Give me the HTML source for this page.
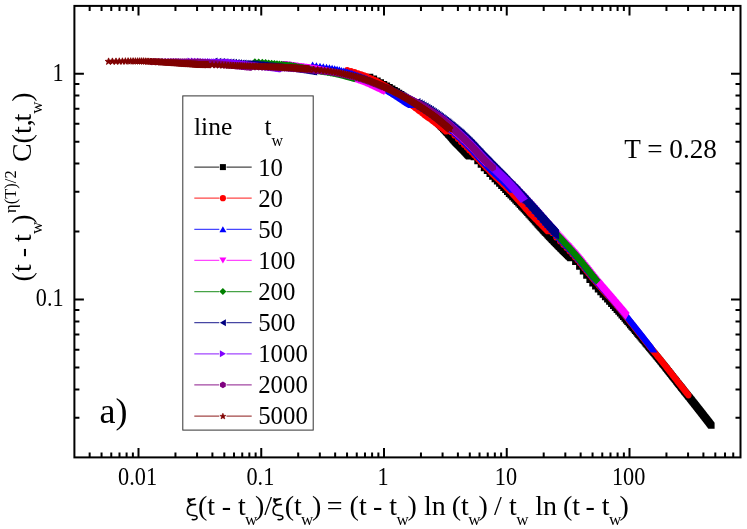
<!DOCTYPE html><html><head><meta charset="utf-8"><style>html,body{margin:0;padding:0;background:#fff}svg{display:block}text{font-family:"Liberation Serif",serif;fill:#000}</style></head><body>
<svg width="747" height="529" viewBox="0 0 747 529">
<rect width="747" height="529" fill="#fff"/>
<defs><filter id="ng" x="0" y="0" width="100%" height="100%" filterUnits="userSpaceOnUse" color-interpolation-filters="sRGB"><feOffset dx="0" dy="0"/></filter><clipPath id="c"><rect x="74.4" y="5.9" width="666.1" height="451.5"/></clipPath></defs>
<g clip-path="url(#c)">
<path d="M370.1 76.8 374.0 78.8 377.5 80.6 380.9 82.4 384.0 84.1 386.9 85.7 389.7 87.2 392.2 88.7 394.7 90.1 397.0 91.5 399.2 92.9 401.2 94.3 403.2 95.6 405.1 97.0 406.9 98.2 408.7 99.4 410.3 100.6 411.9 101.8 413.5 102.9 415.0 104.0 416.4 105.1 417.8 106.2 419.2 107.2 420.5 108.2 421.8 109.1 423.0 110.1 424.2 111.0 425.4 112.0 426.5 112.9 427.6 113.8 428.7 114.7 429.8 115.6 430.8 116.6 431.8 117.5 432.8 118.4 433.7 119.4 434.7 120.3 435.6 121.2 436.5 122.1 437.4 122.9 438.2 123.8 439.1 124.6 439.9 125.5 440.7 126.3 441.5 127.1 442.3 128.0 443.1 128.8 443.9 129.6 444.6 130.4 445.3 131.2 446.1 131.9 446.8 132.7 447.5 133.5 448.2 134.2 448.8 135.0 449.5 135.7 450.2 136.4 450.8 137.2 451.4 137.9 452.1 138.6 452.7 139.3 453.3 140.0 453.9 140.7 454.5 141.4 455.1 142.0 455.7 142.6 456.2 143.2 456.8 143.8 457.4 144.3 457.9 144.9 458.4 145.4 459.0 146.0 459.5 146.5 460.0 147.0 460.6 147.6 461.1 148.1 461.6 148.6 462.1 149.1 462.6 149.7 463.1 150.2 463.5 150.7 464.0 151.2 464.5 151.7 465.0 152.2 465.4 152.6 465.9 153.1 466.3 153.6 466.8 154.1 467.2 154.6 467.7 155.0 468.1 155.5 468.5 155.9 469.0 156.4 469.4 153.4 469.8 152.9 473.8 157.0 477.4 161.0 480.8 164.7 484.0 168.0 486.9 171.0 489.7 173.9 492.3 176.6 494.7 179.2 497.1 181.5 499.3 183.7 501.4 185.8 503.4 187.8 505.3 189.8 507.2 191.8 509.0 193.8 510.7 195.4 512.3 197.0 513.9 198.6 515.5 200.2 517.0 201.8 518.4 203.3 519.8 204.8 521.2 206.3 522.5 207.7 523.8 209.1 525.0 210.4 526.2 211.7 527.4 213.0 528.5 214.2 529.7 215.5 530.8 216.7 531.8 217.9 532.9 219.0 533.9 220.2 534.9 221.3 535.9 222.4 536.9 223.5 537.8 224.5 538.7 225.6 539.6 226.6 540.5 227.6 541.4 228.5 542.2 229.4 543.1 230.3 543.9 231.2 544.7 232.0 545.5 232.9 546.3 233.7 547.0 234.5 547.8 235.3 548.5 236.1 549.3 236.8 550.0 237.6 550.7 238.3 551.4 239.1 552.1 239.8 552.8 240.5 553.4 241.2 554.1 241.9 554.7 242.5 555.4 243.2 556.0 243.8 556.6 244.5 557.3 245.1 557.9 245.7 558.5 246.3 559.1 246.9 559.6 247.5 560.2 248.0 560.8 248.6 561.4 249.1 561.9 249.7 562.5 250.2 563.0 250.7 563.5 251.3 564.1 251.8 564.6 252.3 565.1 252.8 565.6 253.3 566.1 253.8 566.6 254.3 567.1 254.8 567.6 255.3 568.1 255.7 568.6 256.2 569.1 256.7 569.5 257.2 570.0 257.6 570.5 258.1 570.9 256.8 575.3 261.8 579.3 266.6 582.9 271.2 586.3 275.6 589.5 279.7 592.5 283.2 595.3 286.4 597.9 289.4 600.4 292.1 602.8 294.7 605.0 297.1 607.2 299.4 609.3 301.6 611.2 303.7 613.1 305.8 615.0 307.8 616.7 309.7 618.4 311.6 620.1 313.4 621.6 315.2 623.2 316.9 624.6 318.6 626.1 320.3 627.5 321.9 628.8 323.5 630.2 325.0 631.4 326.5 632.7 328.0 633.9 329.4 635.1 330.8 636.2 332.2 637.4 333.5 638.5 334.8 639.6 336.1 640.6 337.3 641.6 338.6 642.7 339.8 643.6 341.0 644.6 342.1 645.6 343.3 646.5 344.4 647.4 345.4 648.3 346.5 649.2 347.6 650.1 348.6 650.9 349.6 651.7 350.6 652.6 351.6 653.4 352.5 654.2 353.5 654.9 354.4 655.7 355.4 656.5 356.3 657.2 357.2 657.9 358.1 658.7 358.9 659.4 359.8 660.1 360.7 660.8 361.5 661.4 362.4 662.1 363.2 662.8 364.0 663.4 364.9 664.1 365.7 664.7 366.5 665.3 367.2 665.9 368.0 666.6 368.8 667.2 369.5 667.8 370.3 668.3 371.0 668.9 371.8 669.5 372.5 670.1 373.2 670.6 373.9 671.2 374.6 671.7 375.3 672.3 376.0 672.8 376.7 673.3 377.4 673.9 378.0 674.4 378.7 674.9 379.4 675.4 380.0 675.9 380.6 676.4 381.3 676.9 381.9 677.4 382.5 677.9 383.1 678.3 383.7 678.8 384.3 679.3 384.9 679.8 385.5 680.2 386.1 680.7 386.6 681.1 387.2 681.6 387.8 682.0 388.3 682.4 388.9 682.9 389.4 683.3 390.0 683.7 390.5 684.2 391.0 684.6 391.6 685.0 392.1 685.4 392.6 685.8 393.1 686.2 393.6 686.6 394.1 687.0 394.6 687.4 395.1 687.8 395.6 688.2 396.0 688.6 396.5 689.0 397.0 689.3 397.5 689.7 397.9 690.1 398.4 690.5 398.8 690.8 399.3 691.2 399.8 691.6 400.2 691.9 400.7 692.3 401.1 692.6 401.6 693.0 402.0 693.3 402.5 693.7 402.9 694.0 403.4 694.4 403.8 694.7 404.2 695.0 404.6 695.4 405.1 695.7 405.5 696.0 405.9 696.4 406.3 696.7 406.7 697.0 407.1 697.3 407.5 697.7 408.0 698.0 408.4 698.3 408.8 698.6 409.2 698.9 409.5 699.2 409.9 699.5 410.3 699.8 410.7 700.1 411.1 700.4 411.5 700.7 411.9 701.0 412.3 701.3 412.6 701.6 413.0 701.9 413.4 702.2 413.8 702.5 414.1 702.8 414.5 703.1 414.9 703.4 415.2 703.6 415.6 703.9 415.9 704.2 416.3 704.5 416.7 704.8 417.0 705.0 417.4 705.3 417.7 705.6 418.1 705.8 418.4 706.1 418.8 706.4 419.1 706.6 419.4 706.9 419.8 707.2 420.1 707.4 420.5 707.7 420.8 708.0 421.1 708.2 421.5 708.5 421.8 708.7 422.1 709.0 422.4 709.2 422.8 709.5 423.1 709.7 423.4 710.0 423.8 710.2 424.1 710.5 424.4 710.7 424.7 710.9 425.0 711.2 425.4 711.4 425.7" fill="none" stroke="#000000" stroke-width="1"/>
<path d="M367 73.7h6.3v6.3h-6.3zM370.8 75.6h6.3v6.3h-6.3zM374.4 77.5h6.3v6.3h-6.3zM377.7 79.2h6.3v6.3h-6.3zM380.9 80.9h6.3v6.3h-6.3zM383.8 82.5h6.3v6.3h-6.3zM386.5 84h6.3v6.3h-6.3zM389.1 85.5h6.3v6.3h-6.3zM391.5 86.9h6.3v6.3h-6.3zM393.8 88.3h6.3v6.3h-6.3zM396 89.7h6.3v6.3h-6.3zM398.1 91.1h6.3v6.3h-6.3zM400.1 92.5h6.3v6.3h-6.3zM402 93.8h6.3v6.3h-6.3zM403.8 95.1h6.3v6.3h-6.3zM405.5 96.3h6.3v6.3h-6.3zM407.2 97.5h6.3v6.3h-6.3zM408.8 98.7h6.3v6.3h-6.3zM410.3 99.8h6.3v6.3h-6.3zM411.8 100.9h6.3v6.3h-6.3zM413.3 102h6.3v6.3h-6.3zM414.7 103h6.3v6.3h-6.3zM416 104h6.3v6.3h-6.3zM417.3 105h6.3v6.3h-6.3zM418.6 106h6.3v6.3h-6.3zM419.9 106.9h6.3v6.3h-6.3zM421.1 107.9h6.3v6.3h-6.3zM422.2 108.8h6.3v6.3h-6.3zM423.4 109.7h6.3v6.3h-6.3zM424.5 110.6h6.3v6.3h-6.3zM425.6 111.6h6.3v6.3h-6.3zM426.6 112.5h6.3v6.3h-6.3zM427.6 113.4h6.3v6.3h-6.3zM428.6 114.4h6.3v6.3h-6.3zM429.6 115.3h6.3v6.3h-6.3zM430.6 116.2h6.3v6.3h-6.3zM431.5 117.1h6.3v6.3h-6.3zM432.4 118h6.3v6.3h-6.3zM433.3 118.9h6.3v6.3h-6.3zM434.2 119.8h6.3v6.3h-6.3zM435.1 120.6h6.3v6.3h-6.3zM435.9 121.5h6.3v6.3h-6.3zM436.8 122.3h6.3v6.3h-6.3zM437.6 123.2h6.3v6.3h-6.3zM438.4 124h6.3v6.3h-6.3zM439.2 124.8h6.3v6.3h-6.3zM440 125.6h6.3v6.3h-6.3zM440.7 126.4h6.3v6.3h-6.3zM441.5 127.2h6.3v6.3h-6.3zM442.2 128h6.3v6.3h-6.3zM442.9 128.8h6.3v6.3h-6.3zM443.6 129.6h6.3v6.3h-6.3zM444.3 130.3h6.3v6.3h-6.3zM445 131.1h6.3v6.3h-6.3zM445.7 131.8h6.3v6.3h-6.3zM446.4 132.6h6.3v6.3h-6.3zM447 133.3h6.3v6.3h-6.3zM447.7 134h6.3v6.3h-6.3zM448.3 134.7h6.3v6.3h-6.3zM448.9 135.5h6.3v6.3h-6.3zM449.5 136.2h6.3v6.3h-6.3zM450.1 136.9h6.3v6.3h-6.3zM450.8 137.5h6.3v6.3h-6.3zM451.3 138.2h6.3v6.3h-6.3zM451.9 138.9h6.3v6.3h-6.3zM452.5 139.5h6.3v6.3h-6.3zM453.1 140h6.3v6.3h-6.3zM453.6 140.6h6.3v6.3h-6.3zM454.2 141.2h6.3v6.3h-6.3zM454.8 141.7h6.3v6.3h-6.3zM455.3 142.3h6.3v6.3h-6.3zM455.8 142.8h6.3v6.3h-6.3zM456.4 143.4h6.3v6.3h-6.3zM456.9 143.9h6.3v6.3h-6.3zM457.4 144.4h6.3v6.3h-6.3zM457.9 144.9h6.3v6.3h-6.3zM458.4 145.5h6.3v6.3h-6.3zM458.9 146h6.3v6.3h-6.3zM459.4 146.5h6.3v6.3h-6.3zM459.9 147h6.3v6.3h-6.3zM460.4 147.5h6.3v6.3h-6.3zM460.9 148h6.3v6.3h-6.3zM461.3 148.5h6.3v6.3h-6.3zM461.8 149h6.3v6.3h-6.3zM462.3 149.5h6.3v6.3h-6.3zM462.7 150h6.3v6.3h-6.3zM463.2 150.5h6.3v6.3h-6.3zM463.6 150.9h6.3v6.3h-6.3zM464.1 151.4h6.3v6.3h-6.3zM464.5 151.9h6.3v6.3h-6.3zM464.9 152.3h6.3v6.3h-6.3zM465.4 152.8h6.3v6.3h-6.3zM465.8 153.3h6.3v6.3h-6.3zM466.2 150.2h6.3v6.3h-6.3zM466.6 149.7h6.3v6.3h-6.3zM470.6 153.9h6.3v6.3h-6.3zM474.3 157.9h6.3v6.3h-6.3zM477.7 161.5h6.3v6.3h-6.3zM480.8 164.9h6.3v6.3h-6.3zM483.8 167.8h6.3v6.3h-6.3zM486.5 170.7h6.3v6.3h-6.3zM489.1 173.5h6.3v6.3h-6.3zM491.6 176h6.3v6.3h-6.3zM493.9 178.3h6.3v6.3h-6.3zM496.1 180.5h6.3v6.3h-6.3zM498.2 182.7h6.3v6.3h-6.3zM500.3 184.7h6.3v6.3h-6.3zM502.2 186.7h6.3v6.3h-6.3zM504 188.7h6.3v6.3h-6.3zM505.8 190.6h6.3v6.3h-6.3zM507.5 192.3h6.3v6.3h-6.3zM509.2 193.9h6.3v6.3h-6.3zM510.8 195.5h6.3v6.3h-6.3zM512.3 197.1h6.3v6.3h-6.3zM513.8 198.6h6.3v6.3h-6.3zM515.3 200.2h6.3v6.3h-6.3zM516.7 201.7h6.3v6.3h-6.3zM518 203.1h6.3v6.3h-6.3zM519.3 204.5h6.3v6.3h-6.3zM520.6 205.9h6.3v6.3h-6.3zM521.9 207.2h6.3v6.3h-6.3zM523.1 208.5h6.3v6.3h-6.3zM524.2 209.8h6.3v6.3h-6.3zM525.4 211.1h6.3v6.3h-6.3zM526.5 212.3h6.3v6.3h-6.3zM527.6 213.5h6.3v6.3h-6.3zM528.7 214.7h6.3v6.3h-6.3zM529.7 215.9h6.3v6.3h-6.3zM530.8 217h6.3v6.3h-6.3zM531.8 218.1h6.3v6.3h-6.3zM532.7 219.2h6.3v6.3h-6.3zM533.7 220.3h6.3v6.3h-6.3zM534.6 221.4h6.3v6.3h-6.3zM535.6 222.4h6.3v6.3h-6.3zM536.5 223.4h6.3v6.3h-6.3zM537.4 224.4h6.3v6.3h-6.3zM538.2 225.3h6.3v6.3h-6.3zM539.1 226.2h6.3v6.3h-6.3zM539.9 227.1h6.3v6.3h-6.3zM540.7 228h6.3v6.3h-6.3zM541.5 228.9h6.3v6.3h-6.3zM542.3 229.7h6.3v6.3h-6.3zM543.1 230.5h6.3v6.3h-6.3zM543.9 231.3h6.3v6.3h-6.3zM544.6 232.1h6.3v6.3h-6.3zM545.4 232.9h6.3v6.3h-6.3zM546.1 233.7h6.3v6.3h-6.3zM546.8 234.5h6.3v6.3h-6.3zM547.6 235.2h6.3v6.3h-6.3zM548.3 235.9h6.3v6.3h-6.3zM548.9 236.6h6.3v6.3h-6.3zM549.6 237.3h6.3v6.3h-6.3zM550.3 238h6.3v6.3h-6.3zM550.9 238.7h6.3v6.3h-6.3zM551.6 239.4h6.3v6.3h-6.3zM552.2 240h6.3v6.3h-6.3zM552.9 240.7h6.3v6.3h-6.3zM553.5 241.3h6.3v6.3h-6.3zM554.1 241.9h6.3v6.3h-6.3zM554.7 242.5h6.3v6.3h-6.3zM555.3 243.1h6.3v6.3h-6.3zM555.9 243.7h6.3v6.3h-6.3zM556.5 244.3h6.3v6.3h-6.3zM557.1 244.9h6.3v6.3h-6.3zM557.6 245.4h6.3v6.3h-6.3zM558.2 246h6.3v6.3h-6.3zM558.8 246.5h6.3v6.3h-6.3zM559.3 247.1h6.3v6.3h-6.3zM559.9 247.6h6.3v6.3h-6.3zM560.4 248.1h6.3v6.3h-6.3zM560.9 248.6h6.3v6.3h-6.3zM561.4 249.2h6.3v6.3h-6.3zM562 249.7h6.3v6.3h-6.3zM562.5 250.2h6.3v6.3h-6.3zM563 250.7h6.3v6.3h-6.3zM563.5 251.1h6.3v6.3h-6.3zM564 251.6h6.3v6.3h-6.3zM564.5 252.1h6.3v6.3h-6.3zM565 252.6h6.3v6.3h-6.3zM565.4 253.1h6.3v6.3h-6.3zM565.9 253.5h6.3v6.3h-6.3zM566.4 254h6.3v6.3h-6.3zM566.9 254.5h6.3v6.3h-6.3zM567.3 254.9h6.3v6.3h-6.3zM567.8 253.6h6.3v6.3h-6.3zM572.1 258.6h6.3v6.3h-6.3zM576.1 263.5h6.3v6.3h-6.3zM579.8 268.1h6.3v6.3h-6.3zM583.2 272.5h6.3v6.3h-6.3zM586.4 276.6h6.3v6.3h-6.3zM589.3 280.1h6.3v6.3h-6.3zM592.1 283.3h6.3v6.3h-6.3zM594.8 286.2h6.3v6.3h-6.3zM597.3 289h6.3v6.3h-6.3zM599.6 291.5h6.3v6.3h-6.3zM601.9 293.9h6.3v6.3h-6.3zM604.1 296.2h6.3v6.3h-6.3zM606.1 298.5h6.3v6.3h-6.3zM608.1 300.6h6.3v6.3h-6.3zM610 302.6h6.3v6.3h-6.3zM611.8 304.6h6.3v6.3h-6.3zM613.6 306.6h6.3v6.3h-6.3zM615.3 308.4h6.3v6.3h-6.3zM616.9 310.3h6.3v6.3h-6.3zM618.5 312.1h6.3v6.3h-6.3zM620 313.8h6.3v6.3h-6.3zM621.5 315.5h6.3v6.3h-6.3zM622.9 317.1h6.3v6.3h-6.3zM624.3 318.8h6.3v6.3h-6.3zM625.7 320.3h6.3v6.3h-6.3zM627 321.9h6.3v6.3h-6.3zM628.3 323.4h6.3v6.3h-6.3zM629.5 324.8h6.3v6.3h-6.3zM630.7 326.3h6.3v6.3h-6.3zM631.9 327.6h6.3v6.3h-6.3zM633.1 329h6.3v6.3h-6.3zM634.2 330.4h6.3v6.3h-6.3zM635.3 331.7h6.3v6.3h-6.3zM636.4 332.9h6.3v6.3h-6.3zM637.5 334.2h6.3v6.3h-6.3zM638.5 335.4h6.3v6.3h-6.3zM639.5 336.6h6.3v6.3h-6.3zM640.5 337.8h6.3v6.3h-6.3zM641.5 339h6.3v6.3h-6.3zM642.4 340.1h6.3v6.3h-6.3zM643.3 341.2h6.3v6.3h-6.3zM644.3 342.3h6.3v6.3h-6.3zM645.2 343.4h6.3v6.3h-6.3zM646 344.4h6.3v6.3h-6.3zM646.9 345.4h6.3v6.3h-6.3zM647.8 346.4h6.3v6.3h-6.3zM648.6 347.4h6.3v6.3h-6.3zM649.4 348.4h6.3v6.3h-6.3zM650.2 349.4h6.3v6.3h-6.3zM651 350.3h6.3v6.3h-6.3zM651.8 351.3h6.3v6.3h-6.3zM652.6 352.2h6.3v6.3h-6.3zM653.3 353.1h6.3v6.3h-6.3zM654.1 354h6.3v6.3h-6.3zM654.8 354.9h6.3v6.3h-6.3zM655.5 355.8h6.3v6.3h-6.3zM656.2 356.7h6.3v6.3h-6.3zM656.9 357.5h6.3v6.3h-6.3zM657.6 358.4h6.3v6.3h-6.3zM658.3 359.2h6.3v6.3h-6.3zM659 360.1h6.3v6.3h-6.3zM659.6 360.9h6.3v6.3h-6.3zM660.3 361.7h6.3v6.3h-6.3zM660.9 362.5h6.3v6.3h-6.3zM661.6 363.3h6.3v6.3h-6.3zM662.2 364.1h6.3v6.3h-6.3zM662.8 364.9h6.3v6.3h-6.3zM663.4 365.6h6.3v6.3h-6.3zM664 366.4h6.3v6.3h-6.3zM664.6 367.2h6.3v6.3h-6.3zM665.2 367.9h6.3v6.3h-6.3zM665.8 368.6h6.3v6.3h-6.3zM666.4 369.4h6.3v6.3h-6.3zM666.9 370.1h6.3v6.3h-6.3zM667.5 370.8h6.3v6.3h-6.3zM668 371.5h6.3v6.3h-6.3zM668.6 372.2h6.3v6.3h-6.3zM669.1 372.9h6.3v6.3h-6.3zM669.7 373.6h6.3v6.3h-6.3zM670.2 374.2h6.3v6.3h-6.3zM670.7 374.9h6.3v6.3h-6.3zM671.2 375.5h6.3v6.3h-6.3zM671.8 376.2h6.3v6.3h-6.3zM672.3 376.8h6.3v6.3h-6.3zM672.8 377.5h6.3v6.3h-6.3zM673.3 378.1h6.3v6.3h-6.3zM673.7 378.7h6.3v6.3h-6.3zM674.2 379.4h6.3v6.3h-6.3zM674.7 380h6.3v6.3h-6.3zM675.2 380.6h6.3v6.3h-6.3zM675.7 381.2h6.3v6.3h-6.3zM676.1 381.8h6.3v6.3h-6.3zM676.6 382.3h6.3v6.3h-6.3zM677.1 382.9h6.3v6.3h-6.3zM677.5 383.5h6.3v6.3h-6.3zM678 384.1h6.3v6.3h-6.3zM678.4 384.6h6.3v6.3h-6.3zM678.9 385.2h6.3v6.3h-6.3zM679.3 385.7h6.3v6.3h-6.3zM679.7 386.3h6.3v6.3h-6.3zM680.2 386.8h6.3v6.3h-6.3zM680.6 387.4h6.3v6.3h-6.3zM681 387.9h6.3v6.3h-6.3zM681.4 388.4h6.3v6.3h-6.3zM681.8 388.9h6.3v6.3h-6.3zM682.3 389.4h6.3v6.3h-6.3zM682.7 389.9h6.3v6.3h-6.3zM683.1 390.5h6.3v6.3h-6.3zM683.5 390.9h6.3v6.3h-6.3zM683.9 391.4h6.3v6.3h-6.3zM684.3 391.9h6.3v6.3h-6.3zM684.7 392.4h6.3v6.3h-6.3zM685 392.9h6.3v6.3h-6.3zM685.4 393.4h6.3v6.3h-6.3zM685.8 393.8h6.3v6.3h-6.3zM686.2 394.3h6.3v6.3h-6.3zM686.6 394.8h6.3v6.3h-6.3zM686.9 395.2h6.3v6.3h-6.3zM687.3 395.7h6.3v6.3h-6.3zM687.7 396.2h6.3v6.3h-6.3zM688.1 396.6h6.3v6.3h-6.3zM688.4 397.1h6.3v6.3h-6.3zM688.8 397.5h6.3v6.3h-6.3zM689.1 398h6.3v6.3h-6.3zM689.5 398.4h6.3v6.3h-6.3zM689.8 398.9h6.3v6.3h-6.3zM690.2 399.3h6.3v6.3h-6.3zM690.5 399.8h6.3v6.3h-6.3zM690.9 400.2h6.3v6.3h-6.3zM691.2 400.6h6.3v6.3h-6.3zM691.6 401.1h6.3v6.3h-6.3zM691.9 401.5h6.3v6.3h-6.3zM692.2 401.9h6.3v6.3h-6.3zM692.6 402.3h6.3v6.3h-6.3zM692.9 402.8h6.3v6.3h-6.3zM693.2 403.2h6.3v6.3h-6.3zM693.6 403.6h6.3v6.3h-6.3zM693.9 404h6.3v6.3h-6.3zM694.2 404.4h6.3v6.3h-6.3zM694.5 404.8h6.3v6.3h-6.3zM694.8 405.2h6.3v6.3h-6.3zM695.1 405.6h6.3v6.3h-6.3zM695.5 406h6.3v6.3h-6.3zM695.8 406.4h6.3v6.3h-6.3zM696.1 406.8h6.3v6.3h-6.3zM696.4 407.2h6.3v6.3h-6.3zM696.7 407.6h6.3v6.3h-6.3zM697 408h6.3v6.3h-6.3zM697.3 408.3h6.3v6.3h-6.3zM697.6 408.7h6.3v6.3h-6.3zM697.9 409.1h6.3v6.3h-6.3zM698.2 409.5h6.3v6.3h-6.3zM698.5 409.9h6.3v6.3h-6.3zM698.8 410.2h6.3v6.3h-6.3zM699.1 410.6h6.3v6.3h-6.3zM699.4 411h6.3v6.3h-6.3zM699.6 411.3h6.3v6.3h-6.3zM699.9 411.7h6.3v6.3h-6.3zM700.2 412.1h6.3v6.3h-6.3zM700.5 412.4h6.3v6.3h-6.3zM700.8 412.8h6.3v6.3h-6.3zM701.1 413.2h6.3v6.3h-6.3zM701.3 413.5h6.3v6.3h-6.3zM701.6 413.9h6.3v6.3h-6.3zM701.9 414.2h6.3v6.3h-6.3zM702.2 414.6h6.3v6.3h-6.3zM702.4 414.9h6.3v6.3h-6.3zM702.7 415.3h6.3v6.3h-6.3zM703 415.6h6.3v6.3h-6.3zM703.2 415.9h6.3v6.3h-6.3zM703.5 416.3h6.3v6.3h-6.3zM703.8 416.6h6.3v6.3h-6.3zM704 417h6.3v6.3h-6.3zM704.3 417.3h6.3v6.3h-6.3zM704.5 417.6h6.3v6.3h-6.3zM704.8 418h6.3v6.3h-6.3zM705.1 418.3h6.3v6.3h-6.3zM705.3 418.6h6.3v6.3h-6.3zM705.6 419h6.3v6.3h-6.3zM705.8 419.3h6.3v6.3h-6.3zM706.1 419.6h6.3v6.3h-6.3zM706.3 420h6.3v6.3h-6.3zM706.6 420.3h6.3v6.3h-6.3zM706.8 420.6h6.3v6.3h-6.3zM707.1 420.9h6.3v6.3h-6.3zM707.3 421.2h6.3v6.3h-6.3zM707.6 421.6h6.3v6.3h-6.3zM707.8 421.9h6.3v6.3h-6.3zM708 422.2h6.3v6.3h-6.3zM708.3 422.5h6.3v6.3h-6.3z" fill="#000000"/>

<path d="M347.2 70.1 351.0 71.2 354.6 72.2 358.0 73.3 361.1 74.4 364.0 75.4 366.7 76.4 369.3 77.5 371.7 78.5 374.0 79.6 376.2 80.7 378.3 81.9 380.3 83.0 382.2 84.1 384.0 85.1 385.7 86.1 387.4 87.1 389.0 88.1 390.6 89.1 392.1 90.3 393.5 91.5 394.9 92.6 396.3 93.8 397.6 94.8 398.8 95.9 400.1 96.9 401.3 97.8 402.5 98.6 403.6 99.4 404.7 100.2 405.8 100.9 406.8 101.7 407.9 102.4 408.9 103.1 409.9 103.8 410.8 104.5 411.8 105.2 412.7 105.9 413.6 106.6 414.5 107.2 415.3 107.9 416.2 108.5 417.0 109.1 417.8 109.8 418.6 110.4 419.4 111.0 420.2 111.6 420.9 112.1 421.7 112.7 422.4 113.3 423.1 113.8 423.8 114.4 424.5 115.0 425.2 115.5 425.9 116.0 426.6 116.5 427.2 116.9 427.9 117.4 428.5 117.8 429.1 118.3 429.8 118.7 430.4 119.1 431.0 119.6 431.6 120.0 432.2 120.4 432.7 120.9 433.3 121.3 433.9 121.7 434.4 122.1 435.0 122.5 435.5 122.9 436.1 123.4 436.6 123.8 437.1 124.2 437.6 124.6 438.1 125.0 438.6 125.3 439.1 125.7 439.6 126.1 440.1 126.5 440.6 126.9 441.1 127.3 441.6 127.7 442.0 128.1 442.5 128.4 443.0 128.8 443.4 129.2 443.9 129.6 444.3 129.9 444.7 130.3 445.2 130.7 445.6 131.1 446.0 131.4 446.5 128.1 446.9 128.5 450.9 132.1 454.5 135.5 457.9 138.8 461.1 141.9 464.0 144.8 466.8 147.6 469.3 150.2 471.8 152.6 474.1 155.0 476.4 157.4 478.5 159.6 480.5 161.7 482.4 163.7 484.3 165.6 486.0 167.4 487.8 169.0 489.4 170.7 491.0 172.4 492.5 174.0 494.0 175.4 495.5 176.9 496.9 178.2 498.2 179.5 499.6 180.8 500.8 182.0 502.1 183.2 503.3 184.4 504.5 185.6 505.6 186.8 506.8 187.9 507.8 189.1 508.9 190.2 510.0 191.3 511.0 192.3 512.0 193.3 513.0 194.4 513.9 195.4 514.9 196.4 515.8 197.4 516.7 198.4 517.6 199.4 518.5 200.3 519.3 201.3 520.1 202.2 521.0 203.2 521.8 204.1 522.6 205.0 523.4 205.8 524.1 206.7 524.9 207.6 525.6 208.4 526.3 209.2 527.1 210.0 527.8 210.8 528.5 211.6 529.2 212.4 529.8 213.2 530.5 213.9 531.2 214.6 531.8 215.2 532.5 215.8 533.1 216.5 533.7 217.1 534.3 217.7 534.9 218.3 535.5 218.9 536.1 219.5 536.7 220.1 537.3 220.7 537.9 221.3 538.4 221.9 539.0 222.4 539.5 223.0 540.1 223.6 540.6 224.1 541.1 224.6 541.7 225.2 542.2 225.7 542.7 226.2 543.2 226.8 543.7 227.3 544.2 227.8 544.7 228.3 545.2 228.8 545.7 229.3 546.2 229.7 546.6 230.2 547.1 230.7 547.6 231.2 548.0 228.2 552.4 233.0 556.3 237.4 560.0 241.3 563.4 244.8 566.6 248.1 569.6 251.2 572.4 254.3 575.0 257.2 577.5 260.1 579.9 262.9 582.1 265.6 584.3 268.3 586.3 270.8 588.3 273.2 590.2 275.5 592.0 277.7 593.8 279.8 595.5 281.8 597.1 283.6 598.7 285.4 600.2 287.1 601.7 288.8 603.2 290.4 604.6 291.9 605.9 293.4 607.2 294.9 608.5 296.3 609.8 297.6 611.0 299.0 612.2 300.3 613.3 301.6 614.5 302.9 615.6 304.1 616.6 305.4 617.7 306.6 618.7 307.9 619.7 309.1 620.7 310.3 621.7 311.4 622.6 312.6 623.6 313.7 624.5 314.8 625.4 315.9 626.3 317.0 627.1 318.1 628.0 319.1 628.8 320.2 629.6 321.2 630.4 322.2 631.2 323.2 632.0 324.1 632.8 325.1 633.5 326.0 634.3 327.0 635.0 327.9 635.7 328.8 636.4 329.7 637.1 330.6 637.8 331.4 638.5 332.3 639.2 333.2 639.8 334.0 640.5 334.8 641.1 335.6 641.8 336.4 642.4 337.2 643.0 338.0 643.6 338.8 644.2 339.6 644.8 340.4 645.4 341.1 646.0 341.9 646.6 342.6 647.1 343.3 647.7 344.1 648.3 344.8 648.8 345.5 649.4 346.2 649.9 346.9 650.4 347.5 650.9 348.1 651.5 348.8 652.0 349.4 652.5 350.0 653.0 350.6 653.5 351.2 654.0 351.8 654.5 352.4 654.9 353.0 655.4 353.6 655.9 354.1 656.4 354.7 656.8 355.3 657.3 355.8 657.7 356.4 658.2 356.9 658.6 357.5 659.1 358.0 659.5 358.6 660.0 359.1 660.4 359.7 660.8 360.2 661.2 360.7 661.7 361.2 662.1 361.8 662.5 362.3 662.9 362.8 663.3 363.3 663.7 363.8 664.1 364.3 664.5 364.8 664.9 365.3 665.3 365.8 665.7 366.3 666.0 366.8 666.4 367.2 666.8 367.7 667.2 368.2 667.5 368.7 667.9 369.1 668.3 369.6 668.6 370.1 669.0 370.5 669.4 371.0 669.7 371.4 670.1 371.9 670.4 372.3 670.8 372.8 671.1 373.2 671.4 373.6 671.8 374.1 672.1 374.5 672.5 374.9 672.8 375.4 673.1 375.8 673.5 376.2 673.8 376.6 674.1 377.0 674.4 377.4 674.7 377.8 675.1 378.3 675.4 378.7 675.7 379.1 676.0 379.5 676.3 379.8 676.6 380.2 676.9 380.6 677.2 381.0 677.5 381.4 677.8 381.8 678.1 382.2 678.4 382.5 678.7 382.9 679.0 383.3 679.3 383.7 679.6 384.0 679.9 384.4 680.2 384.7 680.4 385.1 680.7 385.5 681.0 385.8 681.3 386.2 681.6 386.5 681.8 386.9 682.1 387.2 682.4 387.6 682.7 387.9 682.9 388.2 683.2 388.6 683.5 388.9 683.7 389.3 684.0 389.6 684.3 389.9 684.5 390.2 684.8 390.6 685.0 390.9 685.3 391.2 685.5 391.5 685.8 391.9 686.1 392.2 686.3 392.5 686.6 392.8 686.8 393.1 687.0 393.4 687.3 393.7 687.5 394.0 687.8 394.3 688.0 394.6 688.3 395.0 688.5 395.3" fill="none" stroke="#ff0000" stroke-width="1"/>
<path d="M344.1 70.1a3.1 3.1 0 1 0 6.2 0a3.1 3.1 0 1 0 -6.2 0zM347.9 71.2a3.1 3.1 0 1 0 6.2 0a3.1 3.1 0 1 0 -6.2 0zM351.5 72.2a3.1 3.1 0 1 0 6.2 0a3.1 3.1 0 1 0 -6.2 0zM354.9 73.3a3.1 3.1 0 1 0 6.2 0a3.1 3.1 0 1 0 -6.2 0zM358 74.4a3.1 3.1 0 1 0 6.2 0a3.1 3.1 0 1 0 -6.2 0zM360.9 75.4a3.1 3.1 0 1 0 6.2 0a3.1 3.1 0 1 0 -6.2 0zM363.6 76.4a3.1 3.1 0 1 0 6.2 0a3.1 3.1 0 1 0 -6.2 0zM366.2 77.5a3.1 3.1 0 1 0 6.2 0a3.1 3.1 0 1 0 -6.2 0zM368.6 78.5a3.1 3.1 0 1 0 6.2 0a3.1 3.1 0 1 0 -6.2 0zM370.9 79.6a3.1 3.1 0 1 0 6.2 0a3.1 3.1 0 1 0 -6.2 0zM373.1 80.7a3.1 3.1 0 1 0 6.2 0a3.1 3.1 0 1 0 -6.2 0zM375.2 81.9a3.1 3.1 0 1 0 6.2 0a3.1 3.1 0 1 0 -6.2 0zM377.2 83a3.1 3.1 0 1 0 6.2 0a3.1 3.1 0 1 0 -6.2 0zM379.1 84.1a3.1 3.1 0 1 0 6.2 0a3.1 3.1 0 1 0 -6.2 0zM380.9 85.1a3.1 3.1 0 1 0 6.2 0a3.1 3.1 0 1 0 -6.2 0zM382.6 86.1a3.1 3.1 0 1 0 6.2 0a3.1 3.1 0 1 0 -6.2 0zM384.3 87.1a3.1 3.1 0 1 0 6.2 0a3.1 3.1 0 1 0 -6.2 0zM385.9 88.1a3.1 3.1 0 1 0 6.2 0a3.1 3.1 0 1 0 -6.2 0zM387.5 89.1a3.1 3.1 0 1 0 6.2 0a3.1 3.1 0 1 0 -6.2 0zM389 90.3a3.1 3.1 0 1 0 6.2 0a3.1 3.1 0 1 0 -6.2 0zM390.4 91.5a3.1 3.1 0 1 0 6.2 0a3.1 3.1 0 1 0 -6.2 0zM391.8 92.6a3.1 3.1 0 1 0 6.2 0a3.1 3.1 0 1 0 -6.2 0zM393.2 93.8a3.1 3.1 0 1 0 6.2 0a3.1 3.1 0 1 0 -6.2 0zM394.5 94.8a3.1 3.1 0 1 0 6.2 0a3.1 3.1 0 1 0 -6.2 0zM395.7 95.9a3.1 3.1 0 1 0 6.2 0a3.1 3.1 0 1 0 -6.2 0zM397 96.9a3.1 3.1 0 1 0 6.2 0a3.1 3.1 0 1 0 -6.2 0zM398.2 97.8a3.1 3.1 0 1 0 6.2 0a3.1 3.1 0 1 0 -6.2 0zM399.4 98.6a3.1 3.1 0 1 0 6.2 0a3.1 3.1 0 1 0 -6.2 0zM400.5 99.4a3.1 3.1 0 1 0 6.2 0a3.1 3.1 0 1 0 -6.2 0zM401.6 100.2a3.1 3.1 0 1 0 6.2 0a3.1 3.1 0 1 0 -6.2 0zM402.7 100.9a3.1 3.1 0 1 0 6.2 0a3.1 3.1 0 1 0 -6.2 0zM403.7 101.7a3.1 3.1 0 1 0 6.2 0a3.1 3.1 0 1 0 -6.2 0zM404.8 102.4a3.1 3.1 0 1 0 6.2 0a3.1 3.1 0 1 0 -6.2 0zM405.8 103.1a3.1 3.1 0 1 0 6.2 0a3.1 3.1 0 1 0 -6.2 0zM406.8 103.8a3.1 3.1 0 1 0 6.2 0a3.1 3.1 0 1 0 -6.2 0zM407.7 104.5a3.1 3.1 0 1 0 6.2 0a3.1 3.1 0 1 0 -6.2 0zM408.7 105.2a3.1 3.1 0 1 0 6.2 0a3.1 3.1 0 1 0 -6.2 0zM409.6 105.9a3.1 3.1 0 1 0 6.2 0a3.1 3.1 0 1 0 -6.2 0zM410.5 106.6a3.1 3.1 0 1 0 6.2 0a3.1 3.1 0 1 0 -6.2 0zM411.4 107.2a3.1 3.1 0 1 0 6.2 0a3.1 3.1 0 1 0 -6.2 0zM412.2 107.9a3.1 3.1 0 1 0 6.2 0a3.1 3.1 0 1 0 -6.2 0zM413.1 108.5a3.1 3.1 0 1 0 6.2 0a3.1 3.1 0 1 0 -6.2 0zM413.9 109.1a3.1 3.1 0 1 0 6.2 0a3.1 3.1 0 1 0 -6.2 0zM414.7 109.8a3.1 3.1 0 1 0 6.2 0a3.1 3.1 0 1 0 -6.2 0zM415.5 110.4a3.1 3.1 0 1 0 6.2 0a3.1 3.1 0 1 0 -6.2 0zM416.3 111a3.1 3.1 0 1 0 6.2 0a3.1 3.1 0 1 0 -6.2 0zM417.1 111.6a3.1 3.1 0 1 0 6.2 0a3.1 3.1 0 1 0 -6.2 0zM417.8 112.1a3.1 3.1 0 1 0 6.2 0a3.1 3.1 0 1 0 -6.2 0zM418.6 112.7a3.1 3.1 0 1 0 6.2 0a3.1 3.1 0 1 0 -6.2 0zM419.3 113.3a3.1 3.1 0 1 0 6.2 0a3.1 3.1 0 1 0 -6.2 0zM420 113.8a3.1 3.1 0 1 0 6.2 0a3.1 3.1 0 1 0 -6.2 0zM420.7 114.4a3.1 3.1 0 1 0 6.2 0a3.1 3.1 0 1 0 -6.2 0zM421.4 115a3.1 3.1 0 1 0 6.2 0a3.1 3.1 0 1 0 -6.2 0zM422.1 115.5a3.1 3.1 0 1 0 6.2 0a3.1 3.1 0 1 0 -6.2 0zM422.8 116a3.1 3.1 0 1 0 6.2 0a3.1 3.1 0 1 0 -6.2 0zM423.5 116.5a3.1 3.1 0 1 0 6.2 0a3.1 3.1 0 1 0 -6.2 0zM424.1 116.9a3.1 3.1 0 1 0 6.2 0a3.1 3.1 0 1 0 -6.2 0zM424.8 117.4a3.1 3.1 0 1 0 6.2 0a3.1 3.1 0 1 0 -6.2 0zM425.4 117.8a3.1 3.1 0 1 0 6.2 0a3.1 3.1 0 1 0 -6.2 0zM426 118.3a3.1 3.1 0 1 0 6.2 0a3.1 3.1 0 1 0 -6.2 0zM426.7 118.7a3.1 3.1 0 1 0 6.2 0a3.1 3.1 0 1 0 -6.2 0zM427.3 119.1a3.1 3.1 0 1 0 6.2 0a3.1 3.1 0 1 0 -6.2 0zM427.9 119.6a3.1 3.1 0 1 0 6.2 0a3.1 3.1 0 1 0 -6.2 0zM428.5 120a3.1 3.1 0 1 0 6.2 0a3.1 3.1 0 1 0 -6.2 0zM429.1 120.4a3.1 3.1 0 1 0 6.2 0a3.1 3.1 0 1 0 -6.2 0zM429.6 120.9a3.1 3.1 0 1 0 6.2 0a3.1 3.1 0 1 0 -6.2 0zM430.2 121.3a3.1 3.1 0 1 0 6.2 0a3.1 3.1 0 1 0 -6.2 0zM430.8 121.7a3.1 3.1 0 1 0 6.2 0a3.1 3.1 0 1 0 -6.2 0zM431.3 122.1a3.1 3.1 0 1 0 6.2 0a3.1 3.1 0 1 0 -6.2 0zM431.9 122.5a3.1 3.1 0 1 0 6.2 0a3.1 3.1 0 1 0 -6.2 0zM432.4 122.9a3.1 3.1 0 1 0 6.2 0a3.1 3.1 0 1 0 -6.2 0zM433 123.4a3.1 3.1 0 1 0 6.2 0a3.1 3.1 0 1 0 -6.2 0zM433.5 123.8a3.1 3.1 0 1 0 6.2 0a3.1 3.1 0 1 0 -6.2 0zM434 124.2a3.1 3.1 0 1 0 6.2 0a3.1 3.1 0 1 0 -6.2 0zM434.5 124.6a3.1 3.1 0 1 0 6.2 0a3.1 3.1 0 1 0 -6.2 0zM435 125a3.1 3.1 0 1 0 6.2 0a3.1 3.1 0 1 0 -6.2 0zM435.5 125.3a3.1 3.1 0 1 0 6.2 0a3.1 3.1 0 1 0 -6.2 0zM436 125.7a3.1 3.1 0 1 0 6.2 0a3.1 3.1 0 1 0 -6.2 0zM436.5 126.1a3.1 3.1 0 1 0 6.2 0a3.1 3.1 0 1 0 -6.2 0zM437 126.5a3.1 3.1 0 1 0 6.2 0a3.1 3.1 0 1 0 -6.2 0zM437.5 126.9a3.1 3.1 0 1 0 6.2 0a3.1 3.1 0 1 0 -6.2 0zM438 127.3a3.1 3.1 0 1 0 6.2 0a3.1 3.1 0 1 0 -6.2 0zM438.5 127.7a3.1 3.1 0 1 0 6.2 0a3.1 3.1 0 1 0 -6.2 0zM438.9 128.1a3.1 3.1 0 1 0 6.2 0a3.1 3.1 0 1 0 -6.2 0zM439.4 128.4a3.1 3.1 0 1 0 6.2 0a3.1 3.1 0 1 0 -6.2 0zM439.9 128.8a3.1 3.1 0 1 0 6.2 0a3.1 3.1 0 1 0 -6.2 0zM440.3 129.2a3.1 3.1 0 1 0 6.2 0a3.1 3.1 0 1 0 -6.2 0zM440.8 129.6a3.1 3.1 0 1 0 6.2 0a3.1 3.1 0 1 0 -6.2 0zM441.2 129.9a3.1 3.1 0 1 0 6.2 0a3.1 3.1 0 1 0 -6.2 0zM441.6 130.3a3.1 3.1 0 1 0 6.2 0a3.1 3.1 0 1 0 -6.2 0zM442.1 130.7a3.1 3.1 0 1 0 6.2 0a3.1 3.1 0 1 0 -6.2 0zM442.5 131.1a3.1 3.1 0 1 0 6.2 0a3.1 3.1 0 1 0 -6.2 0zM442.9 131.4a3.1 3.1 0 1 0 6.2 0a3.1 3.1 0 1 0 -6.2 0zM443.4 128.1a3.1 3.1 0 1 0 6.2 0a3.1 3.1 0 1 0 -6.2 0zM443.8 128.5a3.1 3.1 0 1 0 6.2 0a3.1 3.1 0 1 0 -6.2 0zM447.8 132.1a3.1 3.1 0 1 0 6.2 0a3.1 3.1 0 1 0 -6.2 0zM451.4 135.5a3.1 3.1 0 1 0 6.2 0a3.1 3.1 0 1 0 -6.2 0zM454.8 138.8a3.1 3.1 0 1 0 6.2 0a3.1 3.1 0 1 0 -6.2 0zM458 141.9a3.1 3.1 0 1 0 6.2 0a3.1 3.1 0 1 0 -6.2 0zM460.9 144.8a3.1 3.1 0 1 0 6.2 0a3.1 3.1 0 1 0 -6.2 0zM463.7 147.6a3.1 3.1 0 1 0 6.2 0a3.1 3.1 0 1 0 -6.2 0zM466.2 150.2a3.1 3.1 0 1 0 6.2 0a3.1 3.1 0 1 0 -6.2 0zM468.7 152.6a3.1 3.1 0 1 0 6.2 0a3.1 3.1 0 1 0 -6.2 0zM471 155a3.1 3.1 0 1 0 6.2 0a3.1 3.1 0 1 0 -6.2 0zM473.3 157.4a3.1 3.1 0 1 0 6.2 0a3.1 3.1 0 1 0 -6.2 0zM475.4 159.6a3.1 3.1 0 1 0 6.2 0a3.1 3.1 0 1 0 -6.2 0zM477.4 161.7a3.1 3.1 0 1 0 6.2 0a3.1 3.1 0 1 0 -6.2 0zM479.3 163.7a3.1 3.1 0 1 0 6.2 0a3.1 3.1 0 1 0 -6.2 0zM481.2 165.6a3.1 3.1 0 1 0 6.2 0a3.1 3.1 0 1 0 -6.2 0zM482.9 167.4a3.1 3.1 0 1 0 6.2 0a3.1 3.1 0 1 0 -6.2 0zM484.7 169a3.1 3.1 0 1 0 6.2 0a3.1 3.1 0 1 0 -6.2 0zM486.3 170.7a3.1 3.1 0 1 0 6.2 0a3.1 3.1 0 1 0 -6.2 0zM487.9 172.4a3.1 3.1 0 1 0 6.2 0a3.1 3.1 0 1 0 -6.2 0zM489.4 174a3.1 3.1 0 1 0 6.2 0a3.1 3.1 0 1 0 -6.2 0zM490.9 175.4a3.1 3.1 0 1 0 6.2 0a3.1 3.1 0 1 0 -6.2 0zM492.4 176.9a3.1 3.1 0 1 0 6.2 0a3.1 3.1 0 1 0 -6.2 0zM493.8 178.2a3.1 3.1 0 1 0 6.2 0a3.1 3.1 0 1 0 -6.2 0zM495.1 179.5a3.1 3.1 0 1 0 6.2 0a3.1 3.1 0 1 0 -6.2 0zM496.5 180.8a3.1 3.1 0 1 0 6.2 0a3.1 3.1 0 1 0 -6.2 0zM497.7 182a3.1 3.1 0 1 0 6.2 0a3.1 3.1 0 1 0 -6.2 0zM499 183.2a3.1 3.1 0 1 0 6.2 0a3.1 3.1 0 1 0 -6.2 0zM500.2 184.4a3.1 3.1 0 1 0 6.2 0a3.1 3.1 0 1 0 -6.2 0zM501.4 185.6a3.1 3.1 0 1 0 6.2 0a3.1 3.1 0 1 0 -6.2 0zM502.5 186.8a3.1 3.1 0 1 0 6.2 0a3.1 3.1 0 1 0 -6.2 0zM503.6 187.9a3.1 3.1 0 1 0 6.2 0a3.1 3.1 0 1 0 -6.2 0zM504.7 189.1a3.1 3.1 0 1 0 6.2 0a3.1 3.1 0 1 0 -6.2 0zM505.8 190.2a3.1 3.1 0 1 0 6.2 0a3.1 3.1 0 1 0 -6.2 0zM506.9 191.3a3.1 3.1 0 1 0 6.2 0a3.1 3.1 0 1 0 -6.2 0zM507.9 192.3a3.1 3.1 0 1 0 6.2 0a3.1 3.1 0 1 0 -6.2 0zM508.9 193.3a3.1 3.1 0 1 0 6.2 0a3.1 3.1 0 1 0 -6.2 0zM509.9 194.4a3.1 3.1 0 1 0 6.2 0a3.1 3.1 0 1 0 -6.2 0zM510.8 195.4a3.1 3.1 0 1 0 6.2 0a3.1 3.1 0 1 0 -6.2 0zM511.8 196.4a3.1 3.1 0 1 0 6.2 0a3.1 3.1 0 1 0 -6.2 0zM512.7 197.4a3.1 3.1 0 1 0 6.2 0a3.1 3.1 0 1 0 -6.2 0zM513.6 198.4a3.1 3.1 0 1 0 6.2 0a3.1 3.1 0 1 0 -6.2 0zM514.5 199.4a3.1 3.1 0 1 0 6.2 0a3.1 3.1 0 1 0 -6.2 0zM515.4 200.3a3.1 3.1 0 1 0 6.2 0a3.1 3.1 0 1 0 -6.2 0zM516.2 201.3a3.1 3.1 0 1 0 6.2 0a3.1 3.1 0 1 0 -6.2 0zM517 202.2a3.1 3.1 0 1 0 6.2 0a3.1 3.1 0 1 0 -6.2 0zM517.9 203.2a3.1 3.1 0 1 0 6.2 0a3.1 3.1 0 1 0 -6.2 0zM518.7 204.1a3.1 3.1 0 1 0 6.2 0a3.1 3.1 0 1 0 -6.2 0zM519.5 205a3.1 3.1 0 1 0 6.2 0a3.1 3.1 0 1 0 -6.2 0zM520.3 205.8a3.1 3.1 0 1 0 6.2 0a3.1 3.1 0 1 0 -6.2 0zM521 206.7a3.1 3.1 0 1 0 6.2 0a3.1 3.1 0 1 0 -6.2 0zM521.8 207.6a3.1 3.1 0 1 0 6.2 0a3.1 3.1 0 1 0 -6.2 0zM522.5 208.4a3.1 3.1 0 1 0 6.2 0a3.1 3.1 0 1 0 -6.2 0zM523.2 209.2a3.1 3.1 0 1 0 6.2 0a3.1 3.1 0 1 0 -6.2 0zM524 210a3.1 3.1 0 1 0 6.2 0a3.1 3.1 0 1 0 -6.2 0zM524.7 210.8a3.1 3.1 0 1 0 6.2 0a3.1 3.1 0 1 0 -6.2 0zM525.4 211.6a3.1 3.1 0 1 0 6.2 0a3.1 3.1 0 1 0 -6.2 0zM526.1 212.4a3.1 3.1 0 1 0 6.2 0a3.1 3.1 0 1 0 -6.2 0zM526.7 213.2a3.1 3.1 0 1 0 6.2 0a3.1 3.1 0 1 0 -6.2 0zM527.4 213.9a3.1 3.1 0 1 0 6.2 0a3.1 3.1 0 1 0 -6.2 0zM528.1 214.6a3.1 3.1 0 1 0 6.2 0a3.1 3.1 0 1 0 -6.2 0zM528.7 215.2a3.1 3.1 0 1 0 6.2 0a3.1 3.1 0 1 0 -6.2 0zM529.4 215.8a3.1 3.1 0 1 0 6.2 0a3.1 3.1 0 1 0 -6.2 0zM530 216.5a3.1 3.1 0 1 0 6.2 0a3.1 3.1 0 1 0 -6.2 0zM530.6 217.1a3.1 3.1 0 1 0 6.2 0a3.1 3.1 0 1 0 -6.2 0zM531.2 217.7a3.1 3.1 0 1 0 6.2 0a3.1 3.1 0 1 0 -6.2 0zM531.8 218.3a3.1 3.1 0 1 0 6.2 0a3.1 3.1 0 1 0 -6.2 0zM532.4 218.9a3.1 3.1 0 1 0 6.2 0a3.1 3.1 0 1 0 -6.2 0zM533 219.5a3.1 3.1 0 1 0 6.2 0a3.1 3.1 0 1 0 -6.2 0zM533.6 220.1a3.1 3.1 0 1 0 6.2 0a3.1 3.1 0 1 0 -6.2 0zM534.2 220.7a3.1 3.1 0 1 0 6.2 0a3.1 3.1 0 1 0 -6.2 0zM534.8 221.3a3.1 3.1 0 1 0 6.2 0a3.1 3.1 0 1 0 -6.2 0zM535.3 221.9a3.1 3.1 0 1 0 6.2 0a3.1 3.1 0 1 0 -6.2 0zM535.9 222.4a3.1 3.1 0 1 0 6.2 0a3.1 3.1 0 1 0 -6.2 0zM536.4 223a3.1 3.1 0 1 0 6.2 0a3.1 3.1 0 1 0 -6.2 0zM537 223.6a3.1 3.1 0 1 0 6.2 0a3.1 3.1 0 1 0 -6.2 0zM537.5 224.1a3.1 3.1 0 1 0 6.2 0a3.1 3.1 0 1 0 -6.2 0zM538 224.6a3.1 3.1 0 1 0 6.2 0a3.1 3.1 0 1 0 -6.2 0zM538.6 225.2a3.1 3.1 0 1 0 6.2 0a3.1 3.1 0 1 0 -6.2 0zM539.1 225.7a3.1 3.1 0 1 0 6.2 0a3.1 3.1 0 1 0 -6.2 0zM539.6 226.2a3.1 3.1 0 1 0 6.2 0a3.1 3.1 0 1 0 -6.2 0zM540.1 226.8a3.1 3.1 0 1 0 6.2 0a3.1 3.1 0 1 0 -6.2 0zM540.6 227.3a3.1 3.1 0 1 0 6.2 0a3.1 3.1 0 1 0 -6.2 0zM541.1 227.8a3.1 3.1 0 1 0 6.2 0a3.1 3.1 0 1 0 -6.2 0zM541.6 228.3a3.1 3.1 0 1 0 6.2 0a3.1 3.1 0 1 0 -6.2 0zM542.1 228.8a3.1 3.1 0 1 0 6.2 0a3.1 3.1 0 1 0 -6.2 0zM542.6 229.3a3.1 3.1 0 1 0 6.2 0a3.1 3.1 0 1 0 -6.2 0zM543.1 229.7a3.1 3.1 0 1 0 6.2 0a3.1 3.1 0 1 0 -6.2 0zM543.5 230.2a3.1 3.1 0 1 0 6.2 0a3.1 3.1 0 1 0 -6.2 0zM544 230.7a3.1 3.1 0 1 0 6.2 0a3.1 3.1 0 1 0 -6.2 0zM544.5 231.2a3.1 3.1 0 1 0 6.2 0a3.1 3.1 0 1 0 -6.2 0zM544.9 228.2a3.1 3.1 0 1 0 6.2 0a3.1 3.1 0 1 0 -6.2 0zM549.3 233a3.1 3.1 0 1 0 6.2 0a3.1 3.1 0 1 0 -6.2 0zM553.2 237.4a3.1 3.1 0 1 0 6.2 0a3.1 3.1 0 1 0 -6.2 0zM556.9 241.3a3.1 3.1 0 1 0 6.2 0a3.1 3.1 0 1 0 -6.2 0zM560.3 244.8a3.1 3.1 0 1 0 6.2 0a3.1 3.1 0 1 0 -6.2 0zM563.5 248.1a3.1 3.1 0 1 0 6.2 0a3.1 3.1 0 1 0 -6.2 0zM566.5 251.2a3.1 3.1 0 1 0 6.2 0a3.1 3.1 0 1 0 -6.2 0zM569.3 254.3a3.1 3.1 0 1 0 6.2 0a3.1 3.1 0 1 0 -6.2 0zM571.9 257.2a3.1 3.1 0 1 0 6.2 0a3.1 3.1 0 1 0 -6.2 0zM574.4 260.1a3.1 3.1 0 1 0 6.2 0a3.1 3.1 0 1 0 -6.2 0zM576.8 262.9a3.1 3.1 0 1 0 6.2 0a3.1 3.1 0 1 0 -6.2 0zM579 265.6a3.1 3.1 0 1 0 6.2 0a3.1 3.1 0 1 0 -6.2 0zM581.2 268.3a3.1 3.1 0 1 0 6.2 0a3.1 3.1 0 1 0 -6.2 0zM583.2 270.8a3.1 3.1 0 1 0 6.2 0a3.1 3.1 0 1 0 -6.2 0zM585.2 273.2a3.1 3.1 0 1 0 6.2 0a3.1 3.1 0 1 0 -6.2 0zM587.1 275.5a3.1 3.1 0 1 0 6.2 0a3.1 3.1 0 1 0 -6.2 0zM588.9 277.7a3.1 3.1 0 1 0 6.2 0a3.1 3.1 0 1 0 -6.2 0zM590.7 279.8a3.1 3.1 0 1 0 6.2 0a3.1 3.1 0 1 0 -6.2 0zM592.4 281.8a3.1 3.1 0 1 0 6.2 0a3.1 3.1 0 1 0 -6.2 0zM594 283.6a3.1 3.1 0 1 0 6.2 0a3.1 3.1 0 1 0 -6.2 0zM595.6 285.4a3.1 3.1 0 1 0 6.2 0a3.1 3.1 0 1 0 -6.2 0zM597.1 287.1a3.1 3.1 0 1 0 6.2 0a3.1 3.1 0 1 0 -6.2 0zM598.6 288.8a3.1 3.1 0 1 0 6.2 0a3.1 3.1 0 1 0 -6.2 0zM600.1 290.4a3.1 3.1 0 1 0 6.2 0a3.1 3.1 0 1 0 -6.2 0zM601.5 291.9a3.1 3.1 0 1 0 6.2 0a3.1 3.1 0 1 0 -6.2 0zM602.8 293.4a3.1 3.1 0 1 0 6.2 0a3.1 3.1 0 1 0 -6.2 0zM604.1 294.9a3.1 3.1 0 1 0 6.2 0a3.1 3.1 0 1 0 -6.2 0zM605.4 296.3a3.1 3.1 0 1 0 6.2 0a3.1 3.1 0 1 0 -6.2 0zM606.7 297.6a3.1 3.1 0 1 0 6.2 0a3.1 3.1 0 1 0 -6.2 0zM607.9 299a3.1 3.1 0 1 0 6.2 0a3.1 3.1 0 1 0 -6.2 0zM609.1 300.3a3.1 3.1 0 1 0 6.2 0a3.1 3.1 0 1 0 -6.2 0zM610.2 301.6a3.1 3.1 0 1 0 6.2 0a3.1 3.1 0 1 0 -6.2 0zM611.4 302.9a3.1 3.1 0 1 0 6.2 0a3.1 3.1 0 1 0 -6.2 0zM612.5 304.1a3.1 3.1 0 1 0 6.2 0a3.1 3.1 0 1 0 -6.2 0zM613.5 305.4a3.1 3.1 0 1 0 6.2 0a3.1 3.1 0 1 0 -6.2 0zM614.6 306.6a3.1 3.1 0 1 0 6.2 0a3.1 3.1 0 1 0 -6.2 0zM615.6 307.9a3.1 3.1 0 1 0 6.2 0a3.1 3.1 0 1 0 -6.2 0zM616.6 309.1a3.1 3.1 0 1 0 6.2 0a3.1 3.1 0 1 0 -6.2 0zM617.6 310.3a3.1 3.1 0 1 0 6.2 0a3.1 3.1 0 1 0 -6.2 0zM618.6 311.4a3.1 3.1 0 1 0 6.2 0a3.1 3.1 0 1 0 -6.2 0zM619.5 312.6a3.1 3.1 0 1 0 6.2 0a3.1 3.1 0 1 0 -6.2 0zM620.5 313.7a3.1 3.1 0 1 0 6.2 0a3.1 3.1 0 1 0 -6.2 0zM621.4 314.8a3.1 3.1 0 1 0 6.2 0a3.1 3.1 0 1 0 -6.2 0zM622.3 315.9a3.1 3.1 0 1 0 6.2 0a3.1 3.1 0 1 0 -6.2 0zM623.2 317a3.1 3.1 0 1 0 6.2 0a3.1 3.1 0 1 0 -6.2 0zM624 318.1a3.1 3.1 0 1 0 6.2 0a3.1 3.1 0 1 0 -6.2 0zM624.9 319.1a3.1 3.1 0 1 0 6.2 0a3.1 3.1 0 1 0 -6.2 0zM625.7 320.2a3.1 3.1 0 1 0 6.2 0a3.1 3.1 0 1 0 -6.2 0zM626.5 321.2a3.1 3.1 0 1 0 6.2 0a3.1 3.1 0 1 0 -6.2 0zM627.3 322.2a3.1 3.1 0 1 0 6.2 0a3.1 3.1 0 1 0 -6.2 0zM628.1 323.2a3.1 3.1 0 1 0 6.2 0a3.1 3.1 0 1 0 -6.2 0zM628.9 324.1a3.1 3.1 0 1 0 6.2 0a3.1 3.1 0 1 0 -6.2 0zM629.7 325.1a3.1 3.1 0 1 0 6.2 0a3.1 3.1 0 1 0 -6.2 0zM630.4 326a3.1 3.1 0 1 0 6.2 0a3.1 3.1 0 1 0 -6.2 0zM631.2 327a3.1 3.1 0 1 0 6.2 0a3.1 3.1 0 1 0 -6.2 0zM631.9 327.9a3.1 3.1 0 1 0 6.2 0a3.1 3.1 0 1 0 -6.2 0zM632.6 328.8a3.1 3.1 0 1 0 6.2 0a3.1 3.1 0 1 0 -6.2 0zM633.3 329.7a3.1 3.1 0 1 0 6.2 0a3.1 3.1 0 1 0 -6.2 0zM634 330.6a3.1 3.1 0 1 0 6.2 0a3.1 3.1 0 1 0 -6.2 0zM634.7 331.4a3.1 3.1 0 1 0 6.2 0a3.1 3.1 0 1 0 -6.2 0zM635.4 332.3a3.1 3.1 0 1 0 6.2 0a3.1 3.1 0 1 0 -6.2 0zM636.1 333.2a3.1 3.1 0 1 0 6.2 0a3.1 3.1 0 1 0 -6.2 0zM636.7 334a3.1 3.1 0 1 0 6.2 0a3.1 3.1 0 1 0 -6.2 0zM637.4 334.8a3.1 3.1 0 1 0 6.2 0a3.1 3.1 0 1 0 -6.2 0zM638 335.6a3.1 3.1 0 1 0 6.2 0a3.1 3.1 0 1 0 -6.2 0zM638.7 336.4a3.1 3.1 0 1 0 6.2 0a3.1 3.1 0 1 0 -6.2 0zM639.3 337.2a3.1 3.1 0 1 0 6.2 0a3.1 3.1 0 1 0 -6.2 0zM639.9 338a3.1 3.1 0 1 0 6.2 0a3.1 3.1 0 1 0 -6.2 0zM640.5 338.8a3.1 3.1 0 1 0 6.2 0a3.1 3.1 0 1 0 -6.2 0zM641.1 339.6a3.1 3.1 0 1 0 6.2 0a3.1 3.1 0 1 0 -6.2 0zM641.7 340.4a3.1 3.1 0 1 0 6.2 0a3.1 3.1 0 1 0 -6.2 0zM642.3 341.1a3.1 3.1 0 1 0 6.2 0a3.1 3.1 0 1 0 -6.2 0zM642.9 341.9a3.1 3.1 0 1 0 6.2 0a3.1 3.1 0 1 0 -6.2 0zM643.5 342.6a3.1 3.1 0 1 0 6.2 0a3.1 3.1 0 1 0 -6.2 0zM644 343.3a3.1 3.1 0 1 0 6.2 0a3.1 3.1 0 1 0 -6.2 0zM644.6 344.1a3.1 3.1 0 1 0 6.2 0a3.1 3.1 0 1 0 -6.2 0zM645.2 344.8a3.1 3.1 0 1 0 6.2 0a3.1 3.1 0 1 0 -6.2 0zM645.7 345.5a3.1 3.1 0 1 0 6.2 0a3.1 3.1 0 1 0 -6.2 0zM646.3 346.2a3.1 3.1 0 1 0 6.2 0a3.1 3.1 0 1 0 -6.2 0zM646.8 346.9a3.1 3.1 0 1 0 6.2 0a3.1 3.1 0 1 0 -6.2 0zM647.3 347.5a3.1 3.1 0 1 0 6.2 0a3.1 3.1 0 1 0 -6.2 0zM647.8 348.1a3.1 3.1 0 1 0 6.2 0a3.1 3.1 0 1 0 -6.2 0zM648.4 348.8a3.1 3.1 0 1 0 6.2 0a3.1 3.1 0 1 0 -6.2 0zM648.9 349.4a3.1 3.1 0 1 0 6.2 0a3.1 3.1 0 1 0 -6.2 0zM649.4 350a3.1 3.1 0 1 0 6.2 0a3.1 3.1 0 1 0 -6.2 0zM649.9 350.6a3.1 3.1 0 1 0 6.2 0a3.1 3.1 0 1 0 -6.2 0zM650.4 351.2a3.1 3.1 0 1 0 6.2 0a3.1 3.1 0 1 0 -6.2 0zM650.9 351.8a3.1 3.1 0 1 0 6.2 0a3.1 3.1 0 1 0 -6.2 0zM651.4 352.4a3.1 3.1 0 1 0 6.2 0a3.1 3.1 0 1 0 -6.2 0zM651.8 353a3.1 3.1 0 1 0 6.2 0a3.1 3.1 0 1 0 -6.2 0zM652.3 353.6a3.1 3.1 0 1 0 6.2 0a3.1 3.1 0 1 0 -6.2 0zM652.8 354.1a3.1 3.1 0 1 0 6.2 0a3.1 3.1 0 1 0 -6.2 0zM653.3 354.7a3.1 3.1 0 1 0 6.2 0a3.1 3.1 0 1 0 -6.2 0zM653.7 355.3a3.1 3.1 0 1 0 6.2 0a3.1 3.1 0 1 0 -6.2 0zM654.2 355.8a3.1 3.1 0 1 0 6.2 0a3.1 3.1 0 1 0 -6.2 0zM654.6 356.4a3.1 3.1 0 1 0 6.2 0a3.1 3.1 0 1 0 -6.2 0zM655.1 356.9a3.1 3.1 0 1 0 6.2 0a3.1 3.1 0 1 0 -6.2 0zM655.5 357.5a3.1 3.1 0 1 0 6.2 0a3.1 3.1 0 1 0 -6.2 0zM656 358a3.1 3.1 0 1 0 6.2 0a3.1 3.1 0 1 0 -6.2 0zM656.4 358.6a3.1 3.1 0 1 0 6.2 0a3.1 3.1 0 1 0 -6.2 0zM656.9 359.1a3.1 3.1 0 1 0 6.2 0a3.1 3.1 0 1 0 -6.2 0zM657.3 359.7a3.1 3.1 0 1 0 6.2 0a3.1 3.1 0 1 0 -6.2 0zM657.7 360.2a3.1 3.1 0 1 0 6.2 0a3.1 3.1 0 1 0 -6.2 0zM658.1 360.7a3.1 3.1 0 1 0 6.2 0a3.1 3.1 0 1 0 -6.2 0zM658.6 361.2a3.1 3.1 0 1 0 6.2 0a3.1 3.1 0 1 0 -6.2 0zM659 361.8a3.1 3.1 0 1 0 6.2 0a3.1 3.1 0 1 0 -6.2 0zM659.4 362.3a3.1 3.1 0 1 0 6.2 0a3.1 3.1 0 1 0 -6.2 0zM659.8 362.8a3.1 3.1 0 1 0 6.2 0a3.1 3.1 0 1 0 -6.2 0zM660.2 363.3a3.1 3.1 0 1 0 6.2 0a3.1 3.1 0 1 0 -6.2 0zM660.6 363.8a3.1 3.1 0 1 0 6.2 0a3.1 3.1 0 1 0 -6.2 0zM661 364.3a3.1 3.1 0 1 0 6.2 0a3.1 3.1 0 1 0 -6.2 0zM661.4 364.8a3.1 3.1 0 1 0 6.2 0a3.1 3.1 0 1 0 -6.2 0zM661.8 365.3a3.1 3.1 0 1 0 6.2 0a3.1 3.1 0 1 0 -6.2 0zM662.2 365.8a3.1 3.1 0 1 0 6.2 0a3.1 3.1 0 1 0 -6.2 0zM662.6 366.3a3.1 3.1 0 1 0 6.2 0a3.1 3.1 0 1 0 -6.2 0zM662.9 366.8a3.1 3.1 0 1 0 6.2 0a3.1 3.1 0 1 0 -6.2 0zM663.3 367.2a3.1 3.1 0 1 0 6.2 0a3.1 3.1 0 1 0 -6.2 0zM663.7 367.7a3.1 3.1 0 1 0 6.2 0a3.1 3.1 0 1 0 -6.2 0zM664.1 368.2a3.1 3.1 0 1 0 6.2 0a3.1 3.1 0 1 0 -6.2 0zM664.4 368.7a3.1 3.1 0 1 0 6.2 0a3.1 3.1 0 1 0 -6.2 0zM664.8 369.1a3.1 3.1 0 1 0 6.2 0a3.1 3.1 0 1 0 -6.2 0zM665.2 369.6a3.1 3.1 0 1 0 6.2 0a3.1 3.1 0 1 0 -6.2 0zM665.5 370.1a3.1 3.1 0 1 0 6.2 0a3.1 3.1 0 1 0 -6.2 0zM665.9 370.5a3.1 3.1 0 1 0 6.2 0a3.1 3.1 0 1 0 -6.2 0zM666.3 371a3.1 3.1 0 1 0 6.2 0a3.1 3.1 0 1 0 -6.2 0zM666.6 371.4a3.1 3.1 0 1 0 6.2 0a3.1 3.1 0 1 0 -6.2 0zM667 371.9a3.1 3.1 0 1 0 6.2 0a3.1 3.1 0 1 0 -6.2 0zM667.3 372.3a3.1 3.1 0 1 0 6.2 0a3.1 3.1 0 1 0 -6.2 0zM667.7 372.8a3.1 3.1 0 1 0 6.2 0a3.1 3.1 0 1 0 -6.2 0zM668 373.2a3.1 3.1 0 1 0 6.2 0a3.1 3.1 0 1 0 -6.2 0zM668.3 373.6a3.1 3.1 0 1 0 6.2 0a3.1 3.1 0 1 0 -6.2 0zM668.7 374.1a3.1 3.1 0 1 0 6.2 0a3.1 3.1 0 1 0 -6.2 0zM669 374.5a3.1 3.1 0 1 0 6.2 0a3.1 3.1 0 1 0 -6.2 0zM669.4 374.9a3.1 3.1 0 1 0 6.2 0a3.1 3.1 0 1 0 -6.2 0zM669.7 375.4a3.1 3.1 0 1 0 6.2 0a3.1 3.1 0 1 0 -6.2 0zM670 375.8a3.1 3.1 0 1 0 6.2 0a3.1 3.1 0 1 0 -6.2 0zM670.4 376.2a3.1 3.1 0 1 0 6.2 0a3.1 3.1 0 1 0 -6.2 0zM670.7 376.6a3.1 3.1 0 1 0 6.2 0a3.1 3.1 0 1 0 -6.2 0zM671 377a3.1 3.1 0 1 0 6.2 0a3.1 3.1 0 1 0 -6.2 0zM671.3 377.4a3.1 3.1 0 1 0 6.2 0a3.1 3.1 0 1 0 -6.2 0zM671.6 377.8a3.1 3.1 0 1 0 6.2 0a3.1 3.1 0 1 0 -6.2 0zM672 378.3a3.1 3.1 0 1 0 6.2 0a3.1 3.1 0 1 0 -6.2 0zM672.3 378.7a3.1 3.1 0 1 0 6.2 0a3.1 3.1 0 1 0 -6.2 0zM672.6 379.1a3.1 3.1 0 1 0 6.2 0a3.1 3.1 0 1 0 -6.2 0zM672.9 379.5a3.1 3.1 0 1 0 6.2 0a3.1 3.1 0 1 0 -6.2 0zM673.2 379.8a3.1 3.1 0 1 0 6.2 0a3.1 3.1 0 1 0 -6.2 0zM673.5 380.2a3.1 3.1 0 1 0 6.2 0a3.1 3.1 0 1 0 -6.2 0zM673.8 380.6a3.1 3.1 0 1 0 6.2 0a3.1 3.1 0 1 0 -6.2 0zM674.1 381a3.1 3.1 0 1 0 6.2 0a3.1 3.1 0 1 0 -6.2 0zM674.4 381.4a3.1 3.1 0 1 0 6.2 0a3.1 3.1 0 1 0 -6.2 0zM674.7 381.8a3.1 3.1 0 1 0 6.2 0a3.1 3.1 0 1 0 -6.2 0zM675 382.2a3.1 3.1 0 1 0 6.2 0a3.1 3.1 0 1 0 -6.2 0zM675.3 382.5a3.1 3.1 0 1 0 6.2 0a3.1 3.1 0 1 0 -6.2 0zM675.6 382.9a3.1 3.1 0 1 0 6.2 0a3.1 3.1 0 1 0 -6.2 0zM675.9 383.3a3.1 3.1 0 1 0 6.2 0a3.1 3.1 0 1 0 -6.2 0zM676.2 383.7a3.1 3.1 0 1 0 6.2 0a3.1 3.1 0 1 0 -6.2 0zM676.5 384a3.1 3.1 0 1 0 6.2 0a3.1 3.1 0 1 0 -6.2 0zM676.8 384.4a3.1 3.1 0 1 0 6.2 0a3.1 3.1 0 1 0 -6.2 0zM677.1 384.7a3.1 3.1 0 1 0 6.2 0a3.1 3.1 0 1 0 -6.2 0zM677.3 385.1a3.1 3.1 0 1 0 6.2 0a3.1 3.1 0 1 0 -6.2 0zM677.6 385.5a3.1 3.1 0 1 0 6.2 0a3.1 3.1 0 1 0 -6.2 0zM677.9 385.8a3.1 3.1 0 1 0 6.2 0a3.1 3.1 0 1 0 -6.2 0zM678.2 386.2a3.1 3.1 0 1 0 6.2 0a3.1 3.1 0 1 0 -6.2 0zM678.5 386.5a3.1 3.1 0 1 0 6.2 0a3.1 3.1 0 1 0 -6.2 0zM678.7 386.9a3.1 3.1 0 1 0 6.2 0a3.1 3.1 0 1 0 -6.2 0zM679 387.2a3.1 3.1 0 1 0 6.2 0a3.1 3.1 0 1 0 -6.2 0zM679.3 387.6a3.1 3.1 0 1 0 6.2 0a3.1 3.1 0 1 0 -6.2 0zM679.6 387.9a3.1 3.1 0 1 0 6.2 0a3.1 3.1 0 1 0 -6.2 0zM679.8 388.2a3.1 3.1 0 1 0 6.2 0a3.1 3.1 0 1 0 -6.2 0zM680.1 388.6a3.1 3.1 0 1 0 6.2 0a3.1 3.1 0 1 0 -6.2 0zM680.4 388.9a3.1 3.1 0 1 0 6.2 0a3.1 3.1 0 1 0 -6.2 0zM680.6 389.3a3.1 3.1 0 1 0 6.2 0a3.1 3.1 0 1 0 -6.2 0zM680.9 389.6a3.1 3.1 0 1 0 6.2 0a3.1 3.1 0 1 0 -6.2 0zM681.2 389.9a3.1 3.1 0 1 0 6.2 0a3.1 3.1 0 1 0 -6.2 0zM681.4 390.2a3.1 3.1 0 1 0 6.2 0a3.1 3.1 0 1 0 -6.2 0zM681.7 390.6a3.1 3.1 0 1 0 6.2 0a3.1 3.1 0 1 0 -6.2 0zM681.9 390.9a3.1 3.1 0 1 0 6.2 0a3.1 3.1 0 1 0 -6.2 0zM682.2 391.2a3.1 3.1 0 1 0 6.2 0a3.1 3.1 0 1 0 -6.2 0zM682.4 391.5a3.1 3.1 0 1 0 6.2 0a3.1 3.1 0 1 0 -6.2 0zM682.7 391.9a3.1 3.1 0 1 0 6.2 0a3.1 3.1 0 1 0 -6.2 0zM683 392.2a3.1 3.1 0 1 0 6.2 0a3.1 3.1 0 1 0 -6.2 0zM683.2 392.5a3.1 3.1 0 1 0 6.2 0a3.1 3.1 0 1 0 -6.2 0zM683.5 392.8a3.1 3.1 0 1 0 6.2 0a3.1 3.1 0 1 0 -6.2 0zM683.7 393.1a3.1 3.1 0 1 0 6.2 0a3.1 3.1 0 1 0 -6.2 0zM683.9 393.4a3.1 3.1 0 1 0 6.2 0a3.1 3.1 0 1 0 -6.2 0zM684.2 393.7a3.1 3.1 0 1 0 6.2 0a3.1 3.1 0 1 0 -6.2 0zM684.4 394a3.1 3.1 0 1 0 6.2 0a3.1 3.1 0 1 0 -6.2 0zM684.7 394.3a3.1 3.1 0 1 0 6.2 0a3.1 3.1 0 1 0 -6.2 0zM684.9 394.6a3.1 3.1 0 1 0 6.2 0a3.1 3.1 0 1 0 -6.2 0zM685.2 395a3.1 3.1 0 1 0 6.2 0a3.1 3.1 0 1 0 -6.2 0zM685.4 395.3a3.1 3.1 0 1 0 6.2 0a3.1 3.1 0 1 0 -6.2 0z" fill="#ff0000"/>

<path d="M312.6 64.6 316.4 65.2 320.0 65.7 323.3 66.2 326.5 66.7 329.4 67.2 332.1 67.7 334.7 68.2 337.1 68.8 339.4 69.3 341.6 69.9 343.7 70.5 345.7 71.0 347.6 71.6 349.4 72.2 351.1 72.7 352.8 73.3 354.4 73.9 355.9 74.4 357.4 74.9 358.9 75.5 360.3 76.0 361.6 76.5 363.0 77.0 364.2 77.5 365.5 78.0 366.7 78.5 367.8 79.1 369.0 79.6 370.1 80.1 371.2 80.7 372.2 81.3 373.2 81.8 374.3 82.4 375.2 83.0 376.2 83.5 377.1 84.0 378.1 84.5 379.0 85.1 379.8 85.6 380.7 86.0 381.6 86.5 382.4 87.0 383.2 87.5 384.0 88.0 384.8 88.4 385.6 88.9 386.3 89.3 387.1 89.7 387.8 90.2 388.5 90.6 389.2 91.0 389.9 91.5 390.6 91.9 391.3 92.3 392.0 92.7 392.6 93.1 393.3 93.5 393.9 93.9 394.5 94.3 395.1 94.7 395.8 95.1 396.4 95.4 397.0 95.8 397.5 96.2 398.1 96.6 398.7 96.9 399.3 97.3 399.8 97.7 400.4 98.0 400.9 98.4 401.4 98.8 402.0 99.1 402.5 99.5 403.0 99.8 403.5 100.1 404.0 100.5 404.5 100.8 405.0 101.2 405.5 101.5 406.0 101.8 406.5 102.1 406.9 102.5 407.4 102.8 407.9 103.0 408.3 103.3 408.8 103.5 409.2 103.8 409.7 104.1 410.1 104.3 410.6 104.6 411.0 104.8 411.4 105.1 411.8 102.0 412.3 102.3 416.2 104.5 419.9 106.6 423.3 108.6 426.4 110.6 429.4 112.5 432.1 114.4 434.7 116.3 437.2 118.1 439.5 119.8 441.7 121.5 443.8 123.2 445.9 124.8 447.8 126.5 449.6 128.0 451.4 129.6 453.1 131.1 454.8 132.6 456.4 134.0 457.9 135.4 459.4 136.8 460.9 138.2 462.3 139.5 463.6 140.8 464.9 142.0 466.2 143.3 467.5 144.5 468.7 145.7 469.9 146.8 471.0 148.0 472.1 149.1 473.2 150.3 474.3 151.4 475.3 152.5 476.4 153.6 477.4 154.7 478.4 155.8 479.3 156.8 480.3 157.8 481.2 158.8 482.1 159.8 483.0 160.7 483.8 161.6 484.7 162.5 485.5 163.3 486.3 164.1 487.2 164.9 487.9 165.7 488.7 166.5 489.5 167.3 490.3 168.0 491.0 168.7 491.7 169.5 492.4 170.2 493.2 170.8 493.9 171.5 494.5 172.1 495.2 172.8 495.9 173.4 496.6 174.0 497.2 174.6 497.8 175.2 498.5 175.8 499.1 176.3 499.7 176.9 500.3 177.4 500.9 178.0 501.5 178.5 502.1 179.1 502.7 179.6 503.2 180.1 503.8 180.7 504.4 181.2 504.9 181.7 505.5 182.3 506.0 182.8 506.5 183.3 507.1 183.8 507.6 184.3 508.1 184.9 508.6 185.4 509.1 185.9 509.6 186.4 510.1 186.9 510.6 187.4 511.1 187.9 511.5 188.4 512.0 188.9 512.5 189.4 512.9 189.8 513.4 187.6 517.7 192.1 521.7 196.4 525.4 200.3 528.8 204.0 532.0 207.5 534.9 210.8 537.7 213.9 540.4 216.9 542.9 219.7 545.2 222.4 547.5 224.9 549.7 227.3 551.7 229.6 553.7 231.8 555.6 233.8 557.4 235.8 559.2 237.7 560.9 239.4 562.5 241.1 564.1 242.8 565.6 244.4 567.1 245.9 568.5 247.4 569.9 248.9 571.3 250.3 572.6 251.8 573.9 253.2 575.1 254.6 576.4 256.0 577.5 257.4 578.7 258.7 579.8 260.1 580.9 261.4 582.0 262.7 583.1 264.0 584.1 265.3 585.1 266.5 586.1 267.7 587.1 268.9 588.0 270.1 589.0 271.2 589.9 272.3 590.8 273.4 591.6 274.5 592.5 275.5 593.4 276.5 594.2 277.5 595.0 278.5 595.8 279.4 596.6 280.3 597.4 281.2 598.2 282.1 598.9 282.9 599.7 283.8 600.4 284.6 601.1 285.4 601.8 286.2 602.5 287.0 603.2 287.8 603.9 288.5 604.6 289.3 605.2 290.0 605.9 290.7 606.5 291.4 607.2 292.1 607.8 292.8 608.4 293.5 609.0 294.2 609.6 294.8 610.2 295.5 610.8 296.2 611.4 296.8 612.0 297.5 612.5 298.1 613.1 298.7 613.6 299.3 614.2 300.0 614.7 300.6 615.3 301.2 615.8 301.8 616.3 302.4 616.8 303.0 617.4 303.6 617.9 304.2 618.4 304.8 618.9 305.4 619.4 306.0 619.8 306.6 620.3 307.2 620.8 307.7 621.3 308.3 621.7 308.9 622.2 309.4 622.7 310.0 623.1 310.5 623.6 311.1 624.0 311.6 624.5 312.2 624.9 312.7 625.3 313.2 625.8 313.8 626.2 314.3 626.6 314.8 627.0 315.3 627.5 315.8 627.9 316.3 628.3 316.8 628.7 317.3 629.1 317.8 629.5 318.3 629.9 318.8 630.3 319.3 630.7 319.8 631.0 320.3 631.4 320.7 631.8 321.2 632.2 321.7 632.6 322.2 632.9 322.6 633.3 323.1 633.7 323.5 634.0 324.0 634.4 324.4 634.7 324.9 635.1 325.3 635.4 325.8 635.8 326.2 636.1 326.6 636.5 327.1 636.8 327.5 637.2 327.9 637.5 328.4 637.8 328.8 638.2 329.2 638.5 329.6 638.8 330.0 639.2 330.4 639.5 330.8 639.8 331.3 640.1 331.7 640.4 332.1 640.8 332.5 641.1 332.9 641.4 333.3 641.7 333.6 642.0 334.0 642.3 334.4 642.6 334.8 642.9 335.2 643.2 335.6 643.5 336.0 643.8 336.3 644.1 336.7 644.4 337.1 644.7 337.5 645.0 337.8 645.3 338.2 645.5 338.6 645.8 338.9 646.1 339.3 646.4 339.6 646.7 340.0 646.9 340.4 647.2 340.7 647.5 341.1 647.8 341.4 648.0 341.8 648.3 342.1 648.6 342.5 648.8 342.8 649.1 343.1 649.4 343.5 649.6 343.8 649.9 344.2 650.2 344.5 650.4 344.8 650.7 345.2 650.9 345.5 651.2 345.8 651.4 346.2 651.7 346.5 651.9 346.8 652.2 347.1 652.4 347.5 652.7 347.8 652.9 348.1 653.2 348.4 653.4 348.7 653.6 349.0 653.9 349.4" fill="none" stroke="#0000ff" stroke-width="1"/>
<path d="M312.6 61.6l3.5 6h-7zM316.4 62.2l3.5 6h-7zM320 62.7l3.5 6h-7zM323.3 63.2l3.5 6h-7zM326.5 63.7l3.5 6h-7zM329.4 64.2l3.5 6h-7zM332.1 64.7l3.5 6h-7zM334.7 65.2l3.5 6h-7zM337.1 65.8l3.5 6h-7zM339.4 66.3l3.5 6h-7zM341.6 66.9l3.5 6h-7zM343.7 67.5l3.5 6h-7zM345.7 68l3.5 6h-7zM347.6 68.6l3.5 6h-7zM349.4 69.2l3.5 6h-7zM351.1 69.7l3.5 6h-7zM352.8 70.3l3.5 6h-7zM354.4 70.9l3.5 6h-7zM355.9 71.4l3.5 6h-7zM357.4 71.9l3.5 6h-7zM358.9 72.5l3.5 6h-7zM360.3 73l3.5 6h-7zM361.6 73.5l3.5 6h-7zM363 74l3.5 6h-7zM364.2 74.5l3.5 6h-7zM365.5 75l3.5 6h-7zM366.7 75.5l3.5 6h-7zM367.8 76.1l3.5 6h-7zM369 76.6l3.5 6h-7zM370.1 77.1l3.5 6h-7zM371.2 77.7l3.5 6h-7zM372.2 78.3l3.5 6h-7zM373.2 78.8l3.5 6h-7zM374.3 79.4l3.5 6h-7zM375.2 80l3.5 6h-7zM376.2 80.5l3.5 6h-7zM377.1 81l3.5 6h-7zM378.1 81.5l3.5 6h-7zM379 82.1l3.5 6h-7zM379.8 82.6l3.5 6h-7zM380.7 83l3.5 6h-7zM381.6 83.5l3.5 6h-7zM382.4 84l3.5 6h-7zM383.2 84.5l3.5 6h-7zM384 85l3.5 6h-7zM384.8 85.4l3.5 6h-7zM385.6 85.9l3.5 6h-7zM386.3 86.3l3.5 6h-7zM387.1 86.7l3.5 6h-7zM387.8 87.2l3.5 6h-7zM388.5 87.6l3.5 6h-7zM389.2 88l3.5 6h-7zM389.9 88.5l3.5 6h-7zM390.6 88.9l3.5 6h-7zM391.3 89.3l3.5 6h-7zM392 89.7l3.5 6h-7zM392.6 90.1l3.5 6h-7zM393.3 90.5l3.5 6h-7zM393.9 90.9l3.5 6h-7zM394.5 91.3l3.5 6h-7zM395.1 91.7l3.5 6h-7zM395.8 92.1l3.5 6h-7zM396.4 92.4l3.5 6h-7zM397 92.8l3.5 6h-7zM397.5 93.2l3.5 6h-7zM398.1 93.6l3.5 6h-7zM398.7 93.9l3.5 6h-7zM399.3 94.3l3.5 6h-7zM399.8 94.7l3.5 6h-7zM400.4 95l3.5 6h-7zM400.9 95.4l3.5 6h-7zM401.4 95.8l3.5 6h-7zM402 96.1l3.5 6h-7zM402.5 96.5l3.5 6h-7zM403 96.8l3.5 6h-7zM403.5 97.1l3.5 6h-7zM404 97.5l3.5 6h-7zM404.5 97.8l3.5 6h-7zM405 98.2l3.5 6h-7zM405.5 98.5l3.5 6h-7zM406 98.8l3.5 6h-7zM406.5 99.1l3.5 6h-7zM406.9 99.5l3.5 6h-7zM407.4 99.8l3.5 6h-7zM407.9 100l3.5 6h-7zM408.3 100.3l3.5 6h-7zM408.8 100.5l3.5 6h-7zM409.2 100.8l3.5 6h-7zM409.7 101.1l3.5 6h-7zM410.1 101.3l3.5 6h-7zM410.6 101.6l3.5 6h-7zM411 101.8l3.5 6h-7zM411.4 102.1l3.5 6h-7zM411.8 99l3.5 6h-7zM412.3 99.3l3.5 6h-7zM416.2 101.5l3.5 6h-7zM419.9 103.6l3.5 6h-7zM423.3 105.6l3.5 6h-7zM426.4 107.6l3.5 6h-7zM429.4 109.5l3.5 6h-7zM432.1 111.4l3.5 6h-7zM434.7 113.3l3.5 6h-7zM437.2 115.1l3.5 6h-7zM439.5 116.8l3.5 6h-7zM441.7 118.5l3.5 6h-7zM443.8 120.2l3.5 6h-7zM445.9 121.8l3.5 6h-7zM447.8 123.5l3.5 6h-7zM449.6 125l3.5 6h-7zM451.4 126.6l3.5 6h-7zM453.1 128.1l3.5 6h-7zM454.8 129.6l3.5 6h-7zM456.4 131l3.5 6h-7zM457.9 132.4l3.5 6h-7zM459.4 133.8l3.5 6h-7zM460.9 135.2l3.5 6h-7zM462.3 136.5l3.5 6h-7zM463.6 137.8l3.5 6h-7zM464.9 139l3.5 6h-7zM466.2 140.3l3.5 6h-7zM467.5 141.5l3.5 6h-7zM468.7 142.7l3.5 6h-7zM469.9 143.8l3.5 6h-7zM471 145l3.5 6h-7zM472.1 146.1l3.5 6h-7zM473.2 147.3l3.5 6h-7zM474.3 148.4l3.5 6h-7zM475.3 149.5l3.5 6h-7zM476.4 150.6l3.5 6h-7zM477.4 151.7l3.5 6h-7zM478.4 152.8l3.5 6h-7zM479.3 153.8l3.5 6h-7zM480.3 154.8l3.5 6h-7zM481.2 155.8l3.5 6h-7zM482.1 156.8l3.5 6h-7zM483 157.7l3.5 6h-7zM483.8 158.6l3.5 6h-7zM484.7 159.5l3.5 6h-7zM485.5 160.3l3.5 6h-7zM486.3 161.1l3.5 6h-7zM487.2 161.9l3.5 6h-7zM487.9 162.7l3.5 6h-7zM488.7 163.5l3.5 6h-7zM489.5 164.3l3.5 6h-7zM490.3 165l3.5 6h-7zM491 165.7l3.5 6h-7zM491.7 166.5l3.5 6h-7zM492.4 167.2l3.5 6h-7zM493.2 167.8l3.5 6h-7zM493.9 168.5l3.5 6h-7zM494.5 169.1l3.5 6h-7zM495.2 169.8l3.5 6h-7zM495.9 170.4l3.5 6h-7zM496.6 171l3.5 6h-7zM497.2 171.6l3.5 6h-7zM497.8 172.2l3.5 6h-7zM498.5 172.8l3.5 6h-7zM499.1 173.3l3.5 6h-7zM499.7 173.9l3.5 6h-7zM500.3 174.4l3.5 6h-7zM500.9 175l3.5 6h-7zM501.5 175.5l3.5 6h-7zM502.1 176.1l3.5 6h-7zM502.7 176.6l3.5 6h-7zM503.2 177.1l3.5 6h-7zM503.8 177.7l3.5 6h-7zM504.4 178.2l3.5 6h-7zM504.9 178.7l3.5 6h-7zM505.5 179.3l3.5 6h-7zM506 179.8l3.5 6h-7zM506.5 180.3l3.5 6h-7zM507.1 180.8l3.5 6h-7zM507.6 181.3l3.5 6h-7zM508.1 181.9l3.5 6h-7zM508.6 182.4l3.5 6h-7zM509.1 182.9l3.5 6h-7zM509.6 183.4l3.5 6h-7zM510.1 183.9l3.5 6h-7zM510.6 184.4l3.5 6h-7zM511.1 184.9l3.5 6h-7zM511.5 185.4l3.5 6h-7zM512 185.9l3.5 6h-7zM512.5 186.4l3.5 6h-7zM512.9 186.8l3.5 6h-7zM513.4 184.6l3.5 6h-7zM517.7 189.1l3.5 6h-7zM521.7 193.4l3.5 6h-7zM525.4 197.3l3.5 6h-7zM528.8 201l3.5 6h-7zM532 204.5l3.5 6h-7zM534.9 207.8l3.5 6h-7zM537.7 210.9l3.5 6h-7zM540.4 213.9l3.5 6h-7zM542.9 216.7l3.5 6h-7zM545.2 219.4l3.5 6h-7zM547.5 221.9l3.5 6h-7zM549.7 224.3l3.5 6h-7zM551.7 226.6l3.5 6h-7zM553.7 228.8l3.5 6h-7zM555.6 230.8l3.5 6h-7zM557.4 232.8l3.5 6h-7zM559.2 234.7l3.5 6h-7zM560.9 236.4l3.5 6h-7zM562.5 238.1l3.5 6h-7zM564.1 239.8l3.5 6h-7zM565.6 241.4l3.5 6h-7zM567.1 242.9l3.5 6h-7zM568.5 244.4l3.5 6h-7zM569.9 245.9l3.5 6h-7zM571.3 247.3l3.5 6h-7zM572.6 248.8l3.5 6h-7zM573.9 250.2l3.5 6h-7zM575.1 251.6l3.5 6h-7zM576.4 253l3.5 6h-7zM577.5 254.4l3.5 6h-7zM578.7 255.7l3.5 6h-7zM579.8 257.1l3.5 6h-7zM580.9 258.4l3.5 6h-7zM582 259.7l3.5 6h-7zM583.1 261l3.5 6h-7zM584.1 262.3l3.5 6h-7zM585.1 263.5l3.5 6h-7zM586.1 264.7l3.5 6h-7zM587.1 265.9l3.5 6h-7zM588 267.1l3.5 6h-7zM589 268.2l3.5 6h-7zM589.9 269.3l3.5 6h-7zM590.8 270.4l3.5 6h-7zM591.6 271.5l3.5 6h-7zM592.5 272.5l3.5 6h-7zM593.4 273.5l3.5 6h-7zM594.2 274.5l3.5 6h-7zM595 275.5l3.5 6h-7zM595.8 276.4l3.5 6h-7zM596.6 277.3l3.5 6h-7zM597.4 278.2l3.5 6h-7zM598.2 279.1l3.5 6h-7zM598.9 279.9l3.5 6h-7zM599.7 280.8l3.5 6h-7zM600.4 281.6l3.5 6h-7zM601.1 282.4l3.5 6h-7zM601.8 283.2l3.5 6h-7zM602.5 284l3.5 6h-7zM603.2 284.8l3.5 6h-7zM603.9 285.5l3.5 6h-7zM604.6 286.3l3.5 6h-7zM605.2 287l3.5 6h-7zM605.9 287.7l3.5 6h-7zM606.5 288.4l3.5 6h-7zM607.2 289.1l3.5 6h-7zM607.8 289.8l3.5 6h-7zM608.4 290.5l3.5 6h-7zM609 291.2l3.5 6h-7zM609.6 291.8l3.5 6h-7zM610.2 292.5l3.5 6h-7zM610.8 293.2l3.5 6h-7zM611.4 293.8l3.5 6h-7zM612 294.5l3.5 6h-7zM612.5 295.1l3.5 6h-7zM613.1 295.7l3.5 6h-7zM613.6 296.3l3.5 6h-7zM614.2 297l3.5 6h-7zM614.7 297.6l3.5 6h-7zM615.3 298.2l3.5 6h-7zM615.8 298.8l3.5 6h-7zM616.3 299.4l3.5 6h-7zM616.8 300l3.5 6h-7zM617.4 300.6l3.5 6h-7zM617.9 301.2l3.5 6h-7zM618.4 301.8l3.5 6h-7zM618.9 302.4l3.5 6h-7zM619.4 303l3.5 6h-7zM619.8 303.6l3.5 6h-7zM620.3 304.2l3.5 6h-7zM620.8 304.7l3.5 6h-7zM621.3 305.3l3.5 6h-7zM621.7 305.9l3.5 6h-7zM622.2 306.4l3.5 6h-7zM622.7 307l3.5 6h-7zM623.1 307.5l3.5 6h-7zM623.6 308.1l3.5 6h-7zM624 308.6l3.5 6h-7zM624.5 309.2l3.5 6h-7zM624.9 309.7l3.5 6h-7zM625.3 310.2l3.5 6h-7zM625.8 310.8l3.5 6h-7zM626.2 311.3l3.5 6h-7zM626.6 311.8l3.5 6h-7zM627 312.3l3.5 6h-7zM627.5 312.8l3.5 6h-7zM627.9 313.3l3.5 6h-7zM628.3 313.8l3.5 6h-7zM628.7 314.3l3.5 6h-7zM629.1 314.8l3.5 6h-7zM629.5 315.3l3.5 6h-7zM629.9 315.8l3.5 6h-7zM630.3 316.3l3.5 6h-7zM630.7 316.8l3.5 6h-7zM631 317.3l3.5 6h-7zM631.4 317.7l3.5 6h-7zM631.8 318.2l3.5 6h-7zM632.2 318.7l3.5 6h-7zM632.6 319.2l3.5 6h-7zM632.9 319.6l3.5 6h-7zM633.3 320.1l3.5 6h-7zM633.7 320.5l3.5 6h-7zM634 321l3.5 6h-7zM634.4 321.4l3.5 6h-7zM634.7 321.9l3.5 6h-7zM635.1 322.3l3.5 6h-7zM635.4 322.8l3.5 6h-7zM635.8 323.2l3.5 6h-7zM636.1 323.6l3.5 6h-7zM636.5 324.1l3.5 6h-7zM636.8 324.5l3.5 6h-7zM637.2 324.9l3.5 6h-7zM637.5 325.4l3.5 6h-7zM637.8 325.8l3.5 6h-7zM638.2 326.2l3.5 6h-7zM638.5 326.6l3.5 6h-7zM638.8 327l3.5 6h-7zM639.2 327.4l3.5 6h-7zM639.5 327.8l3.5 6h-7zM639.8 328.3l3.5 6h-7zM640.1 328.7l3.5 6h-7zM640.4 329.1l3.5 6h-7zM640.8 329.5l3.5 6h-7zM641.1 329.9l3.5 6h-7zM641.4 330.3l3.5 6h-7zM641.7 330.6l3.5 6h-7zM642 331l3.5 6h-7zM642.3 331.4l3.5 6h-7zM642.6 331.8l3.5 6h-7zM642.9 332.2l3.5 6h-7zM643.2 332.6l3.5 6h-7zM643.5 333l3.5 6h-7zM643.8 333.3l3.5 6h-7zM644.1 333.7l3.5 6h-7zM644.4 334.1l3.5 6h-7zM644.7 334.5l3.5 6h-7zM645 334.8l3.5 6h-7zM645.3 335.2l3.5 6h-7zM645.5 335.6l3.5 6h-7zM645.8 335.9l3.5 6h-7zM646.1 336.3l3.5 6h-7zM646.4 336.6l3.5 6h-7zM646.7 337l3.5 6h-7zM646.9 337.4l3.5 6h-7zM647.2 337.7l3.5 6h-7zM647.5 338.1l3.5 6h-7zM647.8 338.4l3.5 6h-7zM648 338.8l3.5 6h-7zM648.3 339.1l3.5 6h-7zM648.6 339.5l3.5 6h-7zM648.8 339.8l3.5 6h-7zM649.1 340.1l3.5 6h-7zM649.4 340.5l3.5 6h-7zM649.6 340.8l3.5 6h-7zM649.9 341.2l3.5 6h-7zM650.2 341.5l3.5 6h-7zM650.4 341.8l3.5 6h-7zM650.7 342.2l3.5 6h-7zM650.9 342.5l3.5 6h-7zM651.2 342.8l3.5 6h-7zM651.4 343.2l3.5 6h-7zM651.7 343.5l3.5 6h-7zM651.9 343.8l3.5 6h-7zM652.2 344.1l3.5 6h-7zM652.4 344.5l3.5 6h-7zM652.7 344.8l3.5 6h-7zM652.9 345.1l3.5 6h-7zM653.2 345.4l3.5 6h-7zM653.4 345.7l3.5 6h-7zM653.6 346l3.5 6h-7zM653.9 346.4l3.5 6h-7z" fill="#0000ff"/>

<path d="M284.3 64.0 288.2 64.5 291.7 65.0 295.1 65.4 298.2 65.9 301.1 66.3 303.9 66.7 306.4 67.1 308.9 67.5 311.2 67.8 313.4 68.2 315.4 68.6 317.4 69.0 319.3 69.4 321.1 69.8 322.9 70.1 324.5 70.5 326.1 70.8 327.7 71.2 329.2 71.5 330.6 71.9 332.0 72.2 333.4 72.5 334.7 72.9 336.0 73.2 337.2 73.6 338.4 73.9 339.6 74.3 340.7 74.6 341.8 75.0 342.9 75.3 344.0 75.7 345.0 76.0 346.0 76.4 347.0 76.7 347.9 77.0 348.9 77.3 349.8 77.6 350.7 77.9 351.6 78.2 352.4 78.5 353.3 78.8 354.1 79.1 354.9 79.4 355.7 79.7 356.5 80.0 357.3 80.2 358.1 80.5 358.8 80.8 359.5 81.0 360.3 81.3 361.0 81.6 361.7 81.8 362.4 82.1 363.0 82.3 363.7 82.6 364.4 82.8 365.0 83.1 365.6 83.4 366.3 83.6 366.9 83.9 367.5 84.1 368.1 84.4 368.7 84.6 369.3 84.9 369.9 85.2 370.4 85.4 371.0 85.7 371.6 85.9 372.1 86.2 372.6 86.5 373.2 86.7 373.7 87.0 374.2 87.2 374.8 87.5 375.3 87.7 375.8 87.9 376.3 88.2 376.8 88.4 377.3 88.6 377.7 88.9 378.2 89.1 378.7 89.3 379.2 89.6 379.6 89.8 380.1 90.0 380.5 90.2 381.0 90.4 381.4 90.7 381.9 90.9 382.3 91.1 382.7 91.3 383.2 91.5 383.6 91.7 384.0 91.9 388.0 89.9 391.6 91.6 395.0 93.2 398.2 94.8 401.1 96.3 403.9 97.8 406.5 99.2 408.9 100.5 411.3 101.8 413.5 103.1 415.6 104.3 417.6 105.5 419.5 106.6 421.4 107.8 423.2 108.8 424.9 109.9 426.5 111.0 428.1 112.1 429.7 113.1 431.2 114.2 432.6 115.2 434.0 116.2 435.4 117.2 436.7 118.2 438.0 119.2 439.2 120.1 440.4 121.1 441.6 122.0 442.8 122.9 443.9 123.8 445.0 124.8 446.0 125.7 447.1 126.5 448.1 127.4 449.1 128.3 450.1 129.2 451.1 130.0 452.0 130.8 452.9 131.6 453.8 132.4 454.7 133.2 455.6 134.0 456.4 134.7 457.3 135.5 458.1 136.3 458.9 137.0 459.7 137.7 460.5 138.5 461.2 139.2 462.0 139.9 462.7 140.6 463.5 141.3 464.2 142.0 464.9 142.6 465.6 143.3 466.3 144.0 467.0 144.6 467.6 145.3 468.3 145.9 468.9 146.5 469.6 147.2 470.2 147.8 470.8 148.4 471.5 149.1 472.1 149.7 472.7 150.3 473.3 151.0 473.8 151.6 474.4 152.2 475.0 152.8 475.6 153.4 476.1 154.0 476.7 154.6 477.2 155.2 477.7 155.8 478.3 156.4 478.8 157.0 479.3 157.5 479.8 158.1 480.3 158.7 480.8 159.2 481.3 159.7 481.8 160.3 482.3 160.8 482.8 161.3 483.3 161.8 483.7 162.3 484.2 162.8 484.7 163.2 485.1 163.7 489.5 164.9 493.5 168.4 497.1 171.4 500.5 174.2 503.7 176.8 506.7 179.4 509.5 182.0 512.1 184.6 514.6 187.1 517.0 189.6 519.2 192.1 521.4 194.4 523.5 196.6 525.4 198.8 527.3 200.9 529.2 202.9 530.9 204.8 532.6 206.7 534.3 208.6 535.8 210.4 537.4 212.1 538.8 213.8 540.3 215.4 541.7 217.1 543.0 218.7 544.4 220.2 545.6 221.7 546.9 223.2 548.1 224.6 549.3 226.0 550.4 227.3 551.6 228.6 552.7 229.9 553.8 231.2 554.8 232.4 555.8 233.5 556.9 234.7 557.8 235.8 558.8 236.8 559.8 237.9 560.7 238.9 561.6 239.9 562.5 240.9 563.4 241.8 564.3 242.8 565.1 243.7 565.9 244.6 566.8 245.5 567.6 246.4 568.4 247.2 569.1 248.1 569.9 249.0 570.7 249.8 571.4 250.6 572.1 251.5 572.9 252.3 573.6 253.1 574.3 253.9 575.0 254.7 575.6 255.5 576.3 256.3 577.0 257.1 577.6 257.9 578.3 258.7 578.9 259.5 579.5 260.3 580.1 261.0 580.8 261.8 581.4 262.5 582.0 263.3 582.5 264.0 583.1 264.8 583.7 265.5 584.3 266.2 584.8 267.0 585.4 267.7 585.9 268.4 586.5 269.1 587.0 269.8 587.5 270.5 588.1 271.1 588.6 271.8 589.1 272.5 589.6 273.1 590.1 273.8 590.6 274.4 591.1 275.0 591.6 275.6 592.1 276.3 592.5 276.9 593.0 277.5 593.5 278.0 594.0 278.6 594.4 279.2 594.9 279.8 595.3 280.3 595.8 280.9 596.2 281.4 596.6 281.9 597.1 282.5 597.5 283.0 597.9 283.5 598.4 284.0 598.8 284.5 599.2 285.0 599.6 285.5 600.0 286.0 600.4 286.4 600.8 286.9 601.2 287.4 601.6 287.9 602.0 288.3 602.4 288.8 602.8 289.2 603.2 289.7 603.5 290.1 603.9 290.6 604.3 291.0 604.7 291.4 605.0 291.8 605.4 292.3 605.8 292.7 606.1 293.1 606.5 293.5 606.8 293.9 607.2 294.4 607.5 294.8 607.9 295.2 608.2 295.6 608.6 296.0 608.9 296.4 609.3 296.8 609.6 297.1 609.9 297.5 610.2 297.9 610.6 298.3 610.9 298.7 611.2 299.1 611.5 299.4 611.9 299.8 612.2 300.2 612.5 300.6 612.8 300.9 613.1 301.3 613.4 301.7 613.7 302.0 614.0 302.4 614.3 302.7 614.7 303.1 615.0 303.5 615.2 303.8 615.5 304.2 615.8 304.5 616.1 304.9 616.4 305.2 616.7 305.5 617.0 305.9 617.3 306.2 617.6 306.6 617.9 306.9 618.1 307.2 618.4 307.6 618.7 307.9 619.0 308.2 619.2 308.5 619.5 308.9 619.8 309.2 620.1 309.5 620.3 309.8 620.6 310.1 620.9 310.5 621.1 310.8 621.4 311.1 621.6 311.4 621.9 311.7 622.2 312.0 622.4 312.3 622.7 312.6 622.9 313.0 623.2 313.3 623.4 313.6 623.7 313.9 623.9 314.2 624.2 314.5 624.4 314.8 624.7 315.1 624.9 315.4 625.2 315.7 625.4 315.9 625.6 316.2" fill="none" stroke="#ff00ff" stroke-width="1"/>
<path d="M284.3 67l3.5 -6h-7zM288.2 67.5l3.5 -6h-7zM291.7 68l3.5 -6h-7zM295.1 68.4l3.5 -6h-7zM298.2 68.9l3.5 -6h-7zM301.1 69.3l3.5 -6h-7zM303.9 69.7l3.5 -6h-7zM306.4 70.1l3.5 -6h-7zM308.9 70.5l3.5 -6h-7zM311.2 70.8l3.5 -6h-7zM313.4 71.2l3.5 -6h-7zM315.4 71.6l3.5 -6h-7zM317.4 72l3.5 -6h-7zM319.3 72.4l3.5 -6h-7zM321.1 72.8l3.5 -6h-7zM322.9 73.1l3.5 -6h-7zM324.5 73.5l3.5 -6h-7zM326.1 73.8l3.5 -6h-7zM327.7 74.2l3.5 -6h-7zM329.2 74.5l3.5 -6h-7zM330.6 74.9l3.5 -6h-7zM332 75.2l3.5 -6h-7zM333.4 75.5l3.5 -6h-7zM334.7 75.9l3.5 -6h-7zM336 76.2l3.5 -6h-7zM337.2 76.6l3.5 -6h-7zM338.4 76.9l3.5 -6h-7zM339.6 77.3l3.5 -6h-7zM340.7 77.6l3.5 -6h-7zM341.8 78l3.5 -6h-7zM342.9 78.3l3.5 -6h-7zM344 78.7l3.5 -6h-7zM345 79l3.5 -6h-7zM346 79.4l3.5 -6h-7zM347 79.7l3.5 -6h-7zM347.9 80l3.5 -6h-7zM348.9 80.3l3.5 -6h-7zM349.8 80.6l3.5 -6h-7zM350.7 80.9l3.5 -6h-7zM351.6 81.2l3.5 -6h-7zM352.4 81.5l3.5 -6h-7zM353.3 81.8l3.5 -6h-7zM354.1 82.1l3.5 -6h-7zM354.9 82.4l3.5 -6h-7zM355.7 82.7l3.5 -6h-7zM356.5 83l3.5 -6h-7zM357.3 83.2l3.5 -6h-7zM358.1 83.5l3.5 -6h-7zM358.8 83.8l3.5 -6h-7zM359.5 84l3.5 -6h-7zM360.3 84.3l3.5 -6h-7zM361 84.6l3.5 -6h-7zM361.7 84.8l3.5 -6h-7zM362.4 85.1l3.5 -6h-7zM363 85.3l3.5 -6h-7zM363.7 85.6l3.5 -6h-7zM364.4 85.8l3.5 -6h-7zM365 86.1l3.5 -6h-7zM365.6 86.4l3.5 -6h-7zM366.3 86.6l3.5 -6h-7zM366.9 86.9l3.5 -6h-7zM367.5 87.1l3.5 -6h-7zM368.1 87.4l3.5 -6h-7zM368.7 87.6l3.5 -6h-7zM369.3 87.9l3.5 -6h-7zM369.9 88.2l3.5 -6h-7zM370.4 88.4l3.5 -6h-7zM371 88.7l3.5 -6h-7zM371.6 88.9l3.5 -6h-7zM372.1 89.2l3.5 -6h-7zM372.6 89.5l3.5 -6h-7zM373.2 89.7l3.5 -6h-7zM373.7 90l3.5 -6h-7zM374.2 90.2l3.5 -6h-7zM374.8 90.5l3.5 -6h-7zM375.3 90.7l3.5 -6h-7zM375.8 90.9l3.5 -6h-7zM376.3 91.2l3.5 -6h-7zM376.8 91.4l3.5 -6h-7zM377.3 91.6l3.5 -6h-7zM377.7 91.9l3.5 -6h-7zM378.2 92.1l3.5 -6h-7zM378.7 92.3l3.5 -6h-7zM379.2 92.6l3.5 -6h-7zM379.6 92.8l3.5 -6h-7zM380.1 93l3.5 -6h-7zM380.5 93.2l3.5 -6h-7zM381 93.4l3.5 -6h-7zM381.4 93.7l3.5 -6h-7zM381.9 93.9l3.5 -6h-7zM382.3 94.1l3.5 -6h-7zM382.7 94.3l3.5 -6h-7zM383.2 94.5l3.5 -6h-7zM383.6 94.7l3.5 -6h-7zM384 94.9l3.5 -6h-7zM388 92.9l3.5 -6h-7zM391.6 94.6l3.5 -6h-7zM395 96.2l3.5 -6h-7zM398.2 97.8l3.5 -6h-7zM401.1 99.3l3.5 -6h-7zM403.9 100.8l3.5 -6h-7zM406.5 102.2l3.5 -6h-7zM408.9 103.5l3.5 -6h-7zM411.3 104.8l3.5 -6h-7zM413.5 106.1l3.5 -6h-7zM415.6 107.3l3.5 -6h-7zM417.6 108.5l3.5 -6h-7zM419.5 109.6l3.5 -6h-7zM421.4 110.8l3.5 -6h-7zM423.2 111.8l3.5 -6h-7zM424.9 112.9l3.5 -6h-7zM426.5 114l3.5 -6h-7zM428.1 115.1l3.5 -6h-7zM429.7 116.1l3.5 -6h-7zM431.2 117.2l3.5 -6h-7zM432.6 118.2l3.5 -6h-7zM434 119.2l3.5 -6h-7zM435.4 120.2l3.5 -6h-7zM436.7 121.2l3.5 -6h-7zM438 122.2l3.5 -6h-7zM439.2 123.1l3.5 -6h-7zM440.4 124.1l3.5 -6h-7zM441.6 125l3.5 -6h-7zM442.8 125.9l3.5 -6h-7zM443.9 126.8l3.5 -6h-7zM445 127.8l3.5 -6h-7zM446 128.7l3.5 -6h-7zM447.1 129.5l3.5 -6h-7zM448.1 130.4l3.5 -6h-7zM449.1 131.3l3.5 -6h-7zM450.1 132.2l3.5 -6h-7zM451.1 133l3.5 -6h-7zM452 133.8l3.5 -6h-7zM452.9 134.6l3.5 -6h-7zM453.8 135.4l3.5 -6h-7zM454.7 136.2l3.5 -6h-7zM455.6 137l3.5 -6h-7zM456.4 137.7l3.5 -6h-7zM457.3 138.5l3.5 -6h-7zM458.1 139.3l3.5 -6h-7zM458.9 140l3.5 -6h-7zM459.7 140.7l3.5 -6h-7zM460.5 141.5l3.5 -6h-7zM461.2 142.2l3.5 -6h-7zM462 142.9l3.5 -6h-7zM462.7 143.6l3.5 -6h-7zM463.5 144.3l3.5 -6h-7zM464.2 145l3.5 -6h-7zM464.9 145.6l3.5 -6h-7zM465.6 146.3l3.5 -6h-7zM466.3 147l3.5 -6h-7zM467 147.6l3.5 -6h-7zM467.6 148.3l3.5 -6h-7zM468.3 148.9l3.5 -6h-7zM468.9 149.5l3.5 -6h-7zM469.6 150.2l3.5 -6h-7zM470.2 150.8l3.5 -6h-7zM470.8 151.4l3.5 -6h-7zM471.5 152.1l3.5 -6h-7zM472.1 152.7l3.5 -6h-7zM472.7 153.3l3.5 -6h-7zM473.3 154l3.5 -6h-7zM473.8 154.6l3.5 -6h-7zM474.4 155.2l3.5 -6h-7zM475 155.8l3.5 -6h-7zM475.6 156.4l3.5 -6h-7zM476.1 157l3.5 -6h-7zM476.7 157.6l3.5 -6h-7zM477.2 158.2l3.5 -6h-7zM477.7 158.8l3.5 -6h-7zM478.3 159.4l3.5 -6h-7zM478.8 160l3.5 -6h-7zM479.3 160.5l3.5 -6h-7zM479.8 161.1l3.5 -6h-7zM480.3 161.7l3.5 -6h-7zM480.8 162.2l3.5 -6h-7zM481.3 162.7l3.5 -6h-7zM481.8 163.3l3.5 -6h-7zM482.3 163.8l3.5 -6h-7zM482.8 164.3l3.5 -6h-7zM483.3 164.8l3.5 -6h-7zM483.7 165.3l3.5 -6h-7zM484.2 165.8l3.5 -6h-7zM484.7 166.2l3.5 -6h-7zM485.1 166.7l3.5 -6h-7zM489.5 167.9l3.5 -6h-7zM493.5 171.4l3.5 -6.1h-7.1zM497.1 174.5l3.6 -6.1h-7.1zM500.5 177.3l3.6 -6.1h-7.2zM503.7 179.9l3.6 -6.2h-7.2zM506.7 182.5l3.6 -6.2h-7.2zM509.5 185.1l3.6 -6.2h-7.3zM512.1 187.7l3.7 -6.3h-7.3zM514.6 190.3l3.7 -6.3h-7.3zM517 192.8l3.7 -6.3h-7.4zM519.2 195.2l3.7 -6.3h-7.4zM521.4 197.6l3.7 -6.3h-7.4zM523.5 199.8l3.7 -6.4h-7.4zM525.4 202l3.7 -6.4h-7.5zM527.3 204.1l3.7 -6.4h-7.5zM529.2 206.1l3.7 -6.4h-7.5zM530.9 208l3.8 -6.4h-7.5zM532.6 210l3.8 -6.5h-7.5zM534.3 211.8l3.8 -6.5h-7.6zM535.8 213.6l3.8 -6.5h-7.6zM537.4 215.4l3.8 -6.5h-7.6zM538.8 217.1l3.8 -6.5h-7.6zM540.3 218.7l3.8 -6.5h-7.6zM541.7 220.4l3.8 -6.5h-7.6zM543 222l3.8 -6.6h-7.6zM544.4 223.5l3.8 -6.6h-7.7zM545.6 225l3.8 -6.6h-7.7zM546.9 226.5l3.8 -6.6h-7.7zM548.1 227.9l3.9 -6.6h-7.7zM549.3 229.3l3.9 -6.6h-7.7zM550.4 230.7l3.9 -6.6h-7.7zM551.6 232l3.9 -6.6h-7.7zM552.7 233.2l3.9 -6.6h-7.8zM553.8 234.5l3.9 -6.7h-7.8zM554.8 235.7l3.9 -6.7h-7.8zM555.8 236.9l3.9 -6.7h-7.8zM556.9 238l3.9 -6.7h-7.8zM557.8 239.1l3.9 -6.7h-7.8zM558.8 240.2l3.9 -6.7h-7.8zM559.8 241.2l3.9 -6.7h-7.8zM560.7 242.3l3.9 -6.7h-7.8zM561.6 243.3l3.9 -6.7h-7.9zM562.5 244.3l3.9 -6.7h-7.9zM563.4 245.2l3.9 -6.7h-7.9zM564.3 246.2l3.9 -6.8h-7.9zM565.1 247.1l3.9 -6.8h-7.9zM565.9 248l3.9 -6.8h-7.9zM566.8 248.9l4 -6.8h-7.9zM567.6 249.8l4 -6.8h-7.9zM568.4 250.6l4 -6.8h-7.9zM569.1 251.5l4 -6.8h-7.9zM569.9 252.4l4 -6.8h-7.9zM570.7 253.2l4 -6.8h-8zM571.4 254l4 -6.8h-8zM572.1 254.9l4 -6.8h-8zM572.9 255.7l4 -6.8h-8zM573.6 256.5l4 -6.8h-8zM574.3 257.3l4 -6.8h-8zM575 258.2l4 -6.9h-8zM575.6 259l4 -6.9h-8zM576.3 259.8l4 -6.9h-8zM577 260.6l4 -6.9h-8zM577.6 261.3l4 -6.9h-8zM578.3 262.1l4 -6.9h-8zM578.9 262.9l4 -6.9h-8zM579.5 263.7l4 -6.9h-8zM580.1 264.5l4 -6.9h-8.1zM580.8 265.2l4 -6.9h-8.1zM581.4 266l4 -6.9h-8.1zM582 266.8l4 -6.9h-8.1zM582.5 267.5l4 -6.9h-8.1zM583.1 268.3l4 -6.9h-8.1zM583.7 269l4 -6.9h-8.1zM584.3 269.7l4 -6.9h-8.1zM584.8 270.4l4.1 -6.9h-8.1zM585.4 271.2l4.1 -7h-8.1zM585.9 271.9l4.1 -7h-8.1zM586.5 272.6l4.1 -7h-8.1zM587 273.3l4.1 -7h-8.1zM587.5 273.9l4.1 -7h-8.1zM588.1 274.6l4.1 -7h-8.1zM588.6 275.3l4.1 -7h-8.1zM589.1 276l4.1 -7h-8.2zM589.6 276.6l4.1 -7h-8.2zM590.1 277.3l4.1 -7h-8.2zM590.6 277.9l4.1 -7h-8.2zM591.1 278.5l4.1 -7h-8.2zM591.6 279.1l4.1 -7h-8.2zM592.1 279.8l4.1 -7h-8.2zM592.5 280.4l4.1 -7h-8.2zM593 281l4.1 -7h-8.2zM593.5 281.6l4.1 -7h-8.2zM594 282.1l4.1 -7h-8.2zM594.4 282.7l4.1 -7h-8.2zM594.9 283.3l4.1 -7h-8.2zM595.3 283.8l4.1 -7h-8.2zM595.8 284.4l4.1 -7h-8.2zM596.2 284.9l4.1 -7h-8.2zM596.6 285.5l4.1 -7h-8.2zM597.1 286l4.1 -7h-8.2zM597.5 286.5l4.1 -7h-8.2zM597.9 287l4.1 -7h-8.2zM598.4 287.5l4.1 -7h-8.2zM598.8 288l4.1 -7h-8.2zM599.2 288.5l4.1 -7h-8.2zM599.6 289l4.1 -7h-8.2zM600 289.5l4.1 -7h-8.2zM600.4 290l4.1 -7h-8.2zM600.8 290.4l4.1 -7h-8.2zM601.2 290.9l4.1 -7h-8.2zM601.6 291.4l4.1 -7h-8.2zM602 291.8l4.1 -7h-8.2zM602.4 292.3l4.1 -7h-8.2zM602.8 292.7l4.1 -7h-8.2zM603.2 293.2l4.1 -7h-8.2zM603.5 293.6l4.1 -7h-8.2zM603.9 294.1l4.1 -7h-8.2zM604.3 294.5l4.1 -7h-8.2zM604.7 294.9l4.1 -7h-8.2zM605 295.4l4.1 -7h-8.2zM605.4 295.8l4.1 -7h-8.2zM605.8 296.2l4.1 -7h-8.2zM606.1 296.6l4.1 -7h-8.2zM606.5 297l4.1 -7h-8.2zM606.8 297.5l4.1 -7h-8.2zM607.2 297.9l4.1 -7h-8.2zM607.5 298.3l4.1 -7h-8.2zM607.9 298.7l4.1 -7h-8.2zM608.2 299.1l4.1 -7h-8.2zM608.6 299.5l4.1 -7h-8.2zM608.9 299.9l4.1 -7h-8.2zM609.3 300.3l4.1 -7h-8.2zM609.6 300.7l4.1 -7h-8.2zM609.9 301l4.1 -7h-8.2zM610.2 301.4l4.1 -7h-8.2zM610.6 301.8l4.1 -7h-8.2zM610.9 302.2l4.1 -7h-8.2zM611.2 302.6l4.1 -7h-8.2zM611.5 302.9l4.1 -7h-8.2zM611.9 303.3l4.1 -7h-8.2zM612.2 303.7l4.1 -7h-8.2zM612.5 304.1l4.1 -7h-8.2zM612.8 304.4l4.1 -7h-8.2zM613.1 304.8l4.1 -7h-8.2zM613.4 305.2l4.1 -7h-8.2zM613.7 305.5l4.1 -7h-8.2zM614 305.9l4.1 -7h-8.2zM614.3 306.3l4.1 -7h-8.2zM614.7 306.6l4.1 -7h-8.2zM615 307l4.1 -7h-8.2zM615.2 307.3l4.1 -7h-8.2zM615.5 307.7l4.1 -7h-8.2zM615.8 308l4.1 -7h-8.2zM616.1 308.4l4.1 -7h-8.2zM616.4 308.7l4.1 -7h-8.2zM616.7 309.1l4.1 -7h-8.2zM617 309.4l4.1 -7h-8.2zM617.3 309.7l4.1 -7h-8.2zM617.6 310.1l4.1 -7h-8.2zM617.9 310.4l4.1 -7h-8.2zM618.1 310.7l4.1 -7h-8.2zM618.4 311.1l4.1 -7h-8.2zM618.7 311.4l4.1 -7h-8.2zM619 311.7l4.1 -7h-8.2zM619.2 312l4.1 -7h-8.2zM619.5 312.4l4.1 -7h-8.2zM619.8 312.7l4.1 -7h-8.2zM620.1 313l4.1 -7h-8.2zM620.3 313.3l4.1 -7h-8.2zM620.6 313.7l4.1 -7h-8.2zM620.9 314l4.1 -7h-8.2zM621.1 314.3l4.1 -7h-8.2zM621.4 314.6l4.1 -7h-8.2zM621.6 314.9l4.1 -7h-8.2zM621.9 315.2l4.1 -7h-8.2zM622.2 315.5l4.1 -7h-8.2zM622.4 315.8l4.1 -7h-8.2zM622.7 316.2l4.1 -7h-8.2zM622.9 316.5l4.1 -7h-8.2zM623.2 316.8l4.1 -7h-8.2zM623.4 317.1l4.1 -7h-8.2zM623.7 317.4l4.1 -7h-8.2zM623.9 317.7l4.1 -7h-8.2zM624.2 318l4.1 -7h-8.2zM624.4 318.3l4.1 -7h-8.2zM624.7 318.6l4.1 -7h-8.2zM624.9 318.9l4.1 -7h-8.2zM625.2 319.2l4.1 -7h-8.2zM625.4 319.5l4.1 -7h-8.2zM625.6 319.7l4.1 -7h-8.2z" fill="#ff00ff"/>

<path d="M254.9 61.7 258.7 62.0 262.3 62.3 265.6 62.6 268.7 62.9 271.6 63.2 274.4 63.5 277.0 63.7 279.4 64.0 281.7 64.2 283.9 64.4 286.0 64.7 287.9 64.9 289.8 65.1 291.6 65.4 293.4 65.7 295.1 66.1 296.7 66.4 298.2 66.7 299.7 67.0 301.2 67.2 302.6 67.5 303.9 67.8 305.2 68.1 306.5 68.3 307.7 68.6 308.9 68.8 310.1 69.1 311.2 69.3 312.4 69.6 313.4 69.8 314.5 70.0 315.5 70.2 316.5 70.4 317.5 70.7 318.5 70.9 319.4 71.1 320.3 71.2 321.2 71.4 322.1 71.5 323.0 71.6 323.8 71.8 324.7 71.9 325.5 72.0 326.3 72.1 327.1 72.3 327.8 72.4 328.6 72.5 329.3 72.6 330.1 72.7 330.8 72.9 331.5 73.0 332.2 73.1 332.9 73.2 333.6 73.4 334.2 73.5 334.9 73.6 335.5 73.8 336.2 73.9 336.8 74.1 337.4 74.2 338.0 74.3 338.6 74.5 339.2 74.6 339.8 74.8 340.4 74.9 341.0 75.0 341.5 75.2 342.1 75.3 342.6 75.5 343.2 75.6 343.7 75.7 344.2 75.9 344.8 76.0 345.3 76.2 345.8 76.3 346.3 76.4 346.8 76.6 347.3 76.7 347.8 76.8 348.3 77.0 348.7 77.1 349.2 77.2 349.7 77.3 350.1 77.5 350.6 77.6 351.1 77.7 351.5 77.8 351.9 78.0 352.4 78.1 352.8 78.2 353.3 78.3 353.7 78.5 354.1 78.6 354.5 78.4 358.5 78.4 362.2 79.4 365.6 80.5 368.7 81.6 371.6 82.7 374.4 83.7 377.0 84.8 379.5 85.8 381.8 86.7 384.0 87.6 386.1 88.5 388.1 89.4 390.1 90.2 391.9 91.0 393.7 91.9 395.4 92.7 397.1 93.4 398.7 94.2 400.2 95.0 401.7 95.7 403.1 96.5 404.5 97.2 405.9 97.9 407.2 98.5 408.5 99.2 409.7 99.9 410.9 100.5 412.1 101.2 413.3 101.8 414.4 102.4 415.5 103.1 416.6 103.7 417.6 104.2 418.6 104.8 419.6 105.4 420.6 106.0 421.6 106.5 422.5 107.1 423.4 107.6 424.3 108.2 425.2 108.7 426.1 109.3 427.0 109.8 427.8 110.3 428.6 110.9 429.4 111.4 430.2 112.0 431.0 112.5 431.8 113.0 432.5 113.5 433.3 114.1 434.0 114.6 434.7 115.1 435.4 115.6 436.1 116.1 436.8 116.6 437.5 117.1 438.2 117.6 438.8 118.1 439.5 118.6 440.1 119.0 440.7 119.5 441.4 120.0 442.0 120.5 442.6 121.0 443.2 121.4 443.8 121.9 444.4 122.4 444.9 122.8 445.5 123.3 446.1 123.8 446.6 124.2 447.2 124.7 447.7 125.1 448.3 125.6 448.8 126.0 449.3 126.5 449.8 126.9 450.4 127.4 450.9 127.8 451.4 128.2 451.9 128.7 452.4 129.1 452.8 129.5 453.3 130.0 453.8 130.4 454.3 130.8 454.7 131.2 455.2 131.6 455.7 132.0 460.0 135.9 464.0 139.6 467.7 143.0 471.1 146.3 474.2 149.6 477.2 152.8 480.0 155.7 482.6 158.5 485.1 161.0 487.5 163.3 489.8 165.4 491.9 167.2 494.0 168.9 496.0 170.5 497.9 172.0 499.7 173.4 501.4 174.8 503.1 176.2 504.8 177.6 506.4 178.9 507.9 180.3 509.4 181.7 510.8 183.0 512.2 184.4 513.6 185.8 514.9 187.1 516.2 188.5 517.4 189.8 518.6 191.1 519.8 192.4 521.0 193.6 522.1 194.8 523.2 196.0 524.3 197.2 525.3 198.3 526.4 199.4 527.4 200.5 528.4 201.6 529.3 202.7 530.3 203.7 531.2 204.7 532.1 205.8 533.0 206.8 533.9 207.7 534.8 208.7 535.6 209.7 536.5 210.6 537.3 211.5 538.1 212.5 538.9 213.3 539.7 214.2 540.4 215.1 541.2 216.0 541.9 216.9 542.7 217.7 543.4 218.6 544.1 219.4 544.8 220.2 545.5 221.0 546.2 221.8 546.8 222.6 547.5 223.4 548.1 224.1 548.8 224.9 549.4 225.6 550.1 226.4 550.7 227.1 551.3 227.8 551.9 228.5 552.5 229.2 553.1 229.8 553.7 230.5 554.2 231.2 554.8 231.8 555.4 232.4 555.9 233.1 556.5 233.7 557.0 234.3 557.5 234.9 558.1 235.5 558.6 236.0 559.1 236.6 559.6 237.2 560.1 237.7 560.6 238.3 561.1 238.8 561.6 239.4 562.1 239.9 562.6 240.4 563.1 240.9 563.5 241.4 564.0 241.9 564.5 242.4 564.9 242.9 565.4 243.4 565.8 243.9 566.3 244.4 566.7 244.9 567.2 245.4 567.6 245.8 568.0 246.3 568.5 246.8 568.9 247.2 569.3 247.7 569.7 248.2 570.1 248.6 570.5 249.1 570.9 249.5 571.3 250.0 571.7 250.4 572.1 250.9 572.5 251.3 572.9 251.8 573.3 252.2 573.7 252.7 574.1 253.1 574.4 253.5 574.8 254.0 575.2 254.4 575.6 254.8 575.9 255.2 576.3 255.6 576.6 256.1 577.0 256.5 577.4 256.9 577.7 257.3 578.1 257.7 578.4 258.1 578.8 258.5 579.1 259.0 579.4 259.4 579.8 259.8 580.1 260.2 580.4 260.6 580.8 261.0 581.1 261.4 581.4 261.8 581.7 262.2 582.1 262.6 582.4 263.0 582.7 263.4 583.0 263.7 583.3 264.1 583.6 264.5 584.0 264.9 584.3 265.3 584.6 265.7 584.9 266.0 585.2 266.4 585.5 266.8 585.8 267.2 586.1 267.5 586.4 267.9 586.7 268.3 586.9 268.6 587.2 269.0 587.5 269.4 587.8 269.7 588.1 270.1 588.4 270.4 588.7 270.8 588.9 271.1 589.2 271.5 589.5 271.8 589.8 272.1 590.0 272.5 590.3 272.8 590.6 273.2 590.8 273.5 591.1 273.8 591.4 274.1 591.6 274.5 591.9 274.8 592.2 275.1 592.4 275.4 592.7 275.8 592.9 276.1 593.2 276.4 593.4 276.7 593.7 277.0 593.9 277.3 594.2 277.6 594.4 277.9 594.7 278.2 594.9 278.5 595.2 278.8 595.4 279.1 595.7 279.4 595.9 279.7 596.2 279.9" fill="none" stroke="#008000" stroke-width="1"/>
<path d="M254.9 58.2l3.5 3.5l-3.5 3.5l-3.5 -3.5zM258.7 58.5l3.5 3.5l-3.5 3.5l-3.5 -3.5zM262.3 58.8l3.5 3.5l-3.5 3.5l-3.5 -3.5zM265.6 59.1l3.5 3.5l-3.5 3.5l-3.5 -3.5zM268.7 59.4l3.5 3.5l-3.5 3.5l-3.5 -3.5zM271.6 59.7l3.5 3.5l-3.5 3.5l-3.5 -3.5zM274.4 60l3.5 3.5l-3.5 3.5l-3.5 -3.5zM277 60.2l3.5 3.5l-3.5 3.5l-3.5 -3.5zM279.4 60.5l3.5 3.5l-3.5 3.5l-3.5 -3.5zM281.7 60.7l3.5 3.5l-3.5 3.5l-3.5 -3.5zM283.9 60.9l3.5 3.5l-3.5 3.5l-3.5 -3.5zM286 61.2l3.5 3.5l-3.5 3.5l-3.5 -3.5zM287.9 61.4l3.5 3.5l-3.5 3.5l-3.5 -3.5zM289.8 61.6l3.5 3.5l-3.5 3.5l-3.5 -3.5zM291.6 61.9l3.5 3.5l-3.5 3.5l-3.5 -3.5zM293.4 62.2l3.5 3.5l-3.5 3.5l-3.5 -3.5zM295.1 62.6l3.5 3.5l-3.5 3.5l-3.5 -3.5zM296.7 62.9l3.5 3.5l-3.5 3.5l-3.5 -3.5zM298.2 63.2l3.5 3.5l-3.5 3.5l-3.5 -3.5zM299.7 63.5l3.5 3.5l-3.5 3.5l-3.5 -3.5zM301.2 63.7l3.5 3.5l-3.5 3.5l-3.5 -3.5zM302.6 64l3.5 3.5l-3.5 3.5l-3.5 -3.5zM303.9 64.3l3.5 3.5l-3.5 3.5l-3.5 -3.5zM305.2 64.6l3.5 3.5l-3.5 3.5l-3.5 -3.5zM306.5 64.8l3.5 3.5l-3.5 3.5l-3.5 -3.5zM307.7 65.1l3.5 3.5l-3.5 3.5l-3.5 -3.5zM308.9 65.3l3.5 3.5l-3.5 3.5l-3.5 -3.5zM310.1 65.6l3.5 3.5l-3.5 3.5l-3.5 -3.5zM311.2 65.8l3.5 3.5l-3.5 3.5l-3.5 -3.5zM312.4 66.1l3.5 3.5l-3.5 3.5l-3.5 -3.5zM313.4 66.3l3.5 3.5l-3.5 3.5l-3.5 -3.5zM314.5 66.5l3.5 3.5l-3.5 3.5l-3.5 -3.5zM315.5 66.7l3.5 3.5l-3.5 3.5l-3.5 -3.5zM316.5 66.9l3.5 3.5l-3.5 3.5l-3.5 -3.5zM317.5 67.2l3.5 3.5l-3.5 3.5l-3.5 -3.5zM318.5 67.4l3.5 3.5l-3.5 3.5l-3.5 -3.5zM319.4 67.6l3.5 3.5l-3.5 3.5l-3.5 -3.5zM320.3 67.7l3.5 3.5l-3.5 3.5l-3.5 -3.5zM321.2 67.9l3.5 3.5l-3.5 3.5l-3.5 -3.5zM322.1 68l3.5 3.5l-3.5 3.5l-3.5 -3.5zM323 68.1l3.5 3.5l-3.5 3.5l-3.5 -3.5zM323.8 68.3l3.5 3.5l-3.5 3.5l-3.5 -3.5zM324.7 68.4l3.5 3.5l-3.5 3.5l-3.5 -3.5zM325.5 68.5l3.5 3.5l-3.5 3.5l-3.5 -3.5zM326.3 68.6l3.5 3.5l-3.5 3.5l-3.5 -3.5zM327.1 68.8l3.5 3.5l-3.5 3.5l-3.5 -3.5zM327.8 68.9l3.5 3.5l-3.5 3.5l-3.5 -3.5zM328.6 69l3.5 3.5l-3.5 3.5l-3.5 -3.5zM329.3 69.1l3.5 3.5l-3.5 3.5l-3.5 -3.5zM330.1 69.2l3.5 3.5l-3.5 3.5l-3.5 -3.5zM330.8 69.4l3.5 3.5l-3.5 3.5l-3.5 -3.5zM331.5 69.5l3.5 3.5l-3.5 3.5l-3.5 -3.5zM332.2 69.6l3.5 3.5l-3.5 3.5l-3.5 -3.5zM332.9 69.7l3.5 3.5l-3.5 3.5l-3.5 -3.5zM333.6 69.9l3.5 3.5l-3.5 3.5l-3.5 -3.5zM334.2 70l3.5 3.5l-3.5 3.5l-3.5 -3.5zM334.9 70.1l3.5 3.5l-3.5 3.5l-3.5 -3.5zM335.5 70.3l3.5 3.5l-3.5 3.5l-3.5 -3.5zM336.2 70.4l3.5 3.5l-3.5 3.5l-3.5 -3.5zM336.8 70.6l3.5 3.5l-3.5 3.5l-3.5 -3.5zM337.4 70.7l3.5 3.5l-3.5 3.5l-3.5 -3.5zM338 70.8l3.5 3.5l-3.5 3.5l-3.5 -3.5zM338.6 71l3.5 3.5l-3.5 3.5l-3.5 -3.5zM339.2 71.1l3.5 3.5l-3.5 3.5l-3.5 -3.5zM339.8 71.3l3.5 3.5l-3.5 3.5l-3.5 -3.5zM340.4 71.4l3.5 3.5l-3.5 3.5l-3.5 -3.5zM341 71.5l3.5 3.5l-3.5 3.5l-3.5 -3.5zM341.5 71.7l3.5 3.5l-3.5 3.5l-3.5 -3.5zM342.1 71.8l3.5 3.5l-3.5 3.5l-3.5 -3.5zM342.6 72l3.5 3.5l-3.5 3.5l-3.5 -3.5zM343.2 72.1l3.5 3.5l-3.5 3.5l-3.5 -3.5zM343.7 72.2l3.5 3.5l-3.5 3.5l-3.5 -3.5zM344.2 72.4l3.5 3.5l-3.5 3.5l-3.5 -3.5zM344.8 72.5l3.5 3.5l-3.5 3.5l-3.5 -3.5zM345.3 72.7l3.5 3.5l-3.5 3.5l-3.5 -3.5zM345.8 72.8l3.5 3.5l-3.5 3.5l-3.5 -3.5zM346.3 72.9l3.5 3.5l-3.5 3.5l-3.5 -3.5zM346.8 73.1l3.5 3.5l-3.5 3.5l-3.5 -3.5zM347.3 73.2l3.5 3.5l-3.5 3.5l-3.5 -3.5zM347.8 73.3l3.5 3.5l-3.5 3.5l-3.5 -3.5zM348.3 73.5l3.5 3.5l-3.5 3.5l-3.5 -3.5zM348.7 73.6l3.5 3.5l-3.5 3.5l-3.5 -3.5zM349.2 73.7l3.5 3.5l-3.5 3.5l-3.5 -3.5zM349.7 73.8l3.5 3.5l-3.5 3.5l-3.5 -3.5zM350.1 74l3.5 3.5l-3.5 3.5l-3.5 -3.5zM350.6 74.1l3.5 3.5l-3.5 3.5l-3.5 -3.5zM351.1 74.2l3.5 3.5l-3.5 3.5l-3.5 -3.5zM351.5 74.3l3.5 3.5l-3.5 3.5l-3.5 -3.5zM351.9 74.5l3.5 3.5l-3.5 3.5l-3.5 -3.5zM352.4 74.6l3.5 3.5l-3.5 3.5l-3.5 -3.5zM352.8 74.7l3.5 3.5l-3.5 3.5l-3.5 -3.5zM353.3 74.8l3.5 3.5l-3.5 3.5l-3.5 -3.5zM353.7 75l3.5 3.5l-3.5 3.5l-3.5 -3.5zM354.1 75.1l3.5 3.5l-3.5 3.5l-3.5 -3.5zM354.5 74.9l3.5 3.5l-3.5 3.5l-3.5 -3.5zM358.5 74.9l3.5 3.5l-3.5 3.5l-3.5 -3.5zM362.2 75.9l3.5 3.5l-3.5 3.5l-3.5 -3.5zM365.6 77l3.5 3.5l-3.5 3.5l-3.5 -3.5zM368.7 78.1l3.5 3.5l-3.5 3.5l-3.5 -3.5zM371.6 79.2l3.5 3.5l-3.5 3.5l-3.5 -3.5zM374.4 80.2l3.5 3.5l-3.5 3.5l-3.5 -3.5zM377 81.3l3.5 3.5l-3.5 3.5l-3.5 -3.5zM379.5 82.3l3.5 3.5l-3.5 3.5l-3.5 -3.5zM381.8 83.2l3.5 3.5l-3.5 3.5l-3.5 -3.5zM384 84.1l3.5 3.5l-3.5 3.5l-3.5 -3.5zM386.1 85l3.5 3.5l-3.5 3.5l-3.5 -3.5zM388.1 85.9l3.5 3.5l-3.5 3.5l-3.5 -3.5zM390.1 86.7l3.5 3.5l-3.5 3.5l-3.5 -3.5zM391.9 87.5l3.5 3.5l-3.5 3.5l-3.5 -3.5zM393.7 88.4l3.5 3.5l-3.5 3.5l-3.5 -3.5zM395.4 89.2l3.5 3.5l-3.5 3.5l-3.5 -3.5zM397.1 89.9l3.5 3.5l-3.5 3.5l-3.5 -3.5zM398.7 90.7l3.5 3.5l-3.5 3.5l-3.5 -3.5zM400.2 91.5l3.5 3.5l-3.5 3.5l-3.5 -3.5zM401.7 92.2l3.5 3.5l-3.5 3.5l-3.5 -3.5zM403.1 93l3.5 3.5l-3.5 3.5l-3.5 -3.5zM404.5 93.7l3.5 3.5l-3.5 3.5l-3.5 -3.5zM405.9 94.4l3.5 3.5l-3.5 3.5l-3.5 -3.5zM407.2 95l3.5 3.5l-3.5 3.5l-3.5 -3.5zM408.5 95.7l3.5 3.5l-3.5 3.5l-3.5 -3.5zM409.7 96.4l3.5 3.5l-3.5 3.5l-3.5 -3.5zM410.9 97l3.5 3.5l-3.5 3.5l-3.5 -3.5zM412.1 97.7l3.5 3.5l-3.5 3.5l-3.5 -3.5zM413.3 98.3l3.5 3.5l-3.5 3.5l-3.5 -3.5zM414.4 98.9l3.5 3.5l-3.5 3.5l-3.5 -3.5zM415.5 99.6l3.5 3.5l-3.5 3.5l-3.5 -3.5zM416.6 100.2l3.5 3.5l-3.5 3.5l-3.5 -3.5zM417.6 100.7l3.5 3.5l-3.5 3.5l-3.5 -3.5zM418.6 101.3l3.5 3.5l-3.5 3.5l-3.5 -3.5zM419.6 101.9l3.5 3.5l-3.5 3.5l-3.5 -3.5zM420.6 102.5l3.5 3.5l-3.5 3.5l-3.5 -3.5zM421.6 103l3.5 3.5l-3.5 3.5l-3.5 -3.5zM422.5 103.6l3.5 3.5l-3.5 3.5l-3.5 -3.5zM423.4 104.1l3.5 3.5l-3.5 3.5l-3.5 -3.5zM424.3 104.7l3.5 3.5l-3.5 3.5l-3.5 -3.5zM425.2 105.2l3.5 3.5l-3.5 3.5l-3.5 -3.5zM426.1 105.8l3.5 3.5l-3.5 3.5l-3.5 -3.5zM427 106.3l3.5 3.5l-3.5 3.5l-3.5 -3.5zM427.8 106.8l3.5 3.5l-3.5 3.5l-3.5 -3.5zM428.6 107.4l3.5 3.5l-3.5 3.5l-3.5 -3.5zM429.4 107.9l3.5 3.5l-3.5 3.5l-3.5 -3.5zM430.2 108.5l3.5 3.5l-3.5 3.5l-3.5 -3.5zM431 109l3.5 3.5l-3.5 3.5l-3.5 -3.5zM431.8 109.5l3.5 3.5l-3.5 3.5l-3.5 -3.5zM432.5 110l3.5 3.5l-3.5 3.5l-3.5 -3.5zM433.3 110.6l3.5 3.5l-3.5 3.5l-3.5 -3.5zM434 111.1l3.5 3.5l-3.5 3.5l-3.5 -3.5zM434.7 111.6l3.5 3.5l-3.5 3.5l-3.5 -3.5zM435.4 112.1l3.5 3.5l-3.5 3.5l-3.5 -3.5zM436.1 112.6l3.5 3.5l-3.5 3.5l-3.5 -3.5zM436.8 113.1l3.5 3.5l-3.5 3.5l-3.5 -3.5zM437.5 113.6l3.5 3.5l-3.5 3.5l-3.5 -3.5zM438.2 114.1l3.5 3.5l-3.5 3.5l-3.5 -3.5zM438.8 114.6l3.5 3.5l-3.5 3.5l-3.5 -3.5zM439.5 115.1l3.5 3.5l-3.5 3.5l-3.5 -3.5zM440.1 115.5l3.5 3.5l-3.5 3.5l-3.5 -3.5zM440.7 116l3.5 3.5l-3.5 3.5l-3.5 -3.5zM441.4 116.5l3.5 3.5l-3.5 3.5l-3.5 -3.5zM442 117l3.5 3.5l-3.5 3.5l-3.5 -3.5zM442.6 117.5l3.5 3.5l-3.5 3.5l-3.5 -3.5zM443.2 117.9l3.5 3.5l-3.5 3.5l-3.5 -3.5zM443.8 118.4l3.5 3.5l-3.5 3.5l-3.5 -3.5zM444.4 118.9l3.5 3.5l-3.5 3.5l-3.5 -3.5zM444.9 119.3l3.5 3.5l-3.5 3.5l-3.5 -3.5zM445.5 119.8l3.5 3.5l-3.5 3.5l-3.5 -3.5zM446.1 120.3l3.5 3.5l-3.5 3.5l-3.5 -3.5zM446.6 120.7l3.5 3.5l-3.5 3.5l-3.5 -3.5zM447.2 121.2l3.5 3.5l-3.5 3.5l-3.5 -3.5zM447.7 121.6l3.5 3.5l-3.5 3.5l-3.5 -3.5zM448.3 122.1l3.5 3.5l-3.5 3.5l-3.5 -3.5zM448.8 122.5l3.5 3.5l-3.5 3.5l-3.5 -3.5zM449.3 123l3.5 3.5l-3.5 3.5l-3.5 -3.5zM449.8 123.4l3.5 3.5l-3.5 3.5l-3.5 -3.5zM450.4 123.9l3.5 3.5l-3.5 3.5l-3.5 -3.5zM450.9 124.3l3.5 3.5l-3.5 3.5l-3.5 -3.5zM451.4 124.7l3.5 3.5l-3.5 3.5l-3.5 -3.5zM451.9 125.2l3.5 3.5l-3.5 3.5l-3.5 -3.5zM452.4 125.6l3.5 3.5l-3.5 3.5l-3.5 -3.5zM452.8 126l3.5 3.5l-3.5 3.5l-3.5 -3.5zM453.3 126.5l3.5 3.5l-3.5 3.5l-3.5 -3.5zM453.8 126.9l3.5 3.5l-3.5 3.5l-3.5 -3.5zM454.3 127.3l3.5 3.5l-3.5 3.5l-3.5 -3.5zM454.7 127.7l3.5 3.5l-3.5 3.5l-3.5 -3.5zM455.2 128.1l3.5 3.5l-3.5 3.5l-3.5 -3.5zM455.7 128.5l3.5 3.5l-3.5 3.5l-3.5 -3.5zM460 132.4l3.5 3.5l-3.5 3.5l-3.5 -3.5zM464 136l3.6 3.6l-3.6 3.6l-3.6 -3.6zM467.7 139.4l3.6 3.6l-3.6 3.6l-3.6 -3.6zM471.1 142.7l3.6 3.6l-3.6 3.6l-3.6 -3.6zM474.2 145.9l3.7 3.7l-3.7 3.7l-3.7 -3.7zM477.2 149.1l3.7 3.7l-3.7 3.7l-3.7 -3.7zM480 152l3.7 3.7l-3.7 3.7l-3.7 -3.7zM482.6 154.8l3.7 3.7l-3.7 3.7l-3.7 -3.7zM485.1 157.3l3.7 3.7l-3.7 3.7l-3.7 -3.7zM487.5 159.6l3.8 3.8l-3.8 3.8l-3.8 -3.8zM489.8 161.6l3.8 3.8l-3.8 3.8l-3.8 -3.8zM491.9 163.4l3.8 3.8l-3.8 3.8l-3.8 -3.8zM494 165.1l3.8 3.8l-3.8 3.8l-3.8 -3.8zM496 166.6l3.8 3.8l-3.8 3.8l-3.8 -3.8zM497.9 168.1l3.8 3.8l-3.8 3.8l-3.8 -3.8zM499.7 169.5l3.9 3.9l-3.9 3.9l-3.9 -3.9zM501.4 170.9l3.9 3.9l-3.9 3.9l-3.9 -3.9zM503.1 172.3l3.9 3.9l-3.9 3.9l-3.9 -3.9zM504.8 173.7l3.9 3.9l-3.9 3.9l-3.9 -3.9zM506.4 175l3.9 3.9l-3.9 3.9l-3.9 -3.9zM507.9 176.4l3.9 3.9l-3.9 3.9l-3.9 -3.9zM509.4 177.7l3.9 3.9l-3.9 3.9l-3.9 -3.9zM510.8 179.1l4 4l-4 4l-4 -4zM512.2 180.4l4 4l-4 4l-4 -4zM513.6 181.8l4 4l-4 4l-4 -4zM514.9 183.1l4 4l-4 4l-4 -4zM516.2 184.5l4 4l-4 4l-4 -4zM517.4 185.8l4 4l-4 4l-4 -4zM518.6 187.1l4 4l-4 4l-4 -4zM519.8 188.3l4 4l-4 4l-4 -4zM521 189.6l4 4l-4 4l-4 -4zM522.1 190.8l4 4l-4 4l-4 -4zM523.2 192l4.1 4.1l-4.1 4.1l-4.1 -4.1zM524.3 193.1l4.1 4.1l-4.1 4.1l-4.1 -4.1zM525.3 194.2l4.1 4.1l-4.1 4.1l-4.1 -4.1zM526.4 195.3l4.1 4.1l-4.1 4.1l-4.1 -4.1zM527.4 196.4l4.1 4.1l-4.1 4.1l-4.1 -4.1zM528.4 197.5l4.1 4.1l-4.1 4.1l-4.1 -4.1zM529.3 198.6l4.1 4.1l-4.1 4.1l-4.1 -4.1zM530.3 199.6l4.1 4.1l-4.1 4.1l-4.1 -4.1zM531.2 200.6l4.1 4.1l-4.1 4.1l-4.1 -4.1zM532.1 201.6l4.1 4.1l-4.1 4.1l-4.1 -4.1zM533 202.6l4.1 4.1l-4.1 4.1l-4.1 -4.1zM533.9 203.6l4.1 4.1l-4.1 4.1l-4.1 -4.1zM534.8 204.6l4.1 4.1l-4.1 4.1l-4.1 -4.1zM535.6 205.5l4.2 4.2l-4.2 4.2l-4.2 -4.2zM536.5 206.5l4.2 4.2l-4.2 4.2l-4.2 -4.2zM537.3 207.4l4.2 4.2l-4.2 4.2l-4.2 -4.2zM538.1 208.3l4.2 4.2l-4.2 4.2l-4.2 -4.2zM538.9 209.2l4.2 4.2l-4.2 4.2l-4.2 -4.2zM539.7 210l4.2 4.2l-4.2 4.2l-4.2 -4.2zM540.4 210.9l4.2 4.2l-4.2 4.2l-4.2 -4.2zM541.2 211.8l4.2 4.2l-4.2 4.2l-4.2 -4.2zM541.9 212.7l4.2 4.2l-4.2 4.2l-4.2 -4.2zM542.7 213.5l4.2 4.2l-4.2 4.2l-4.2 -4.2zM543.4 214.4l4.2 4.2l-4.2 4.2l-4.2 -4.2zM544.1 215.2l4.2 4.2l-4.2 4.2l-4.2 -4.2zM544.8 216l4.2 4.2l-4.2 4.2l-4.2 -4.2zM545.5 216.8l4.2 4.2l-4.2 4.2l-4.2 -4.2zM546.2 217.6l4.2 4.2l-4.2 4.2l-4.2 -4.2zM546.8 218.4l4.2 4.2l-4.2 4.2l-4.2 -4.2zM547.5 219.1l4.3 4.3l-4.3 4.3l-4.3 -4.3zM548.1 219.9l4.3 4.3l-4.3 4.3l-4.3 -4.3zM548.8 220.6l4.3 4.3l-4.3 4.3l-4.3 -4.3zM549.4 221.4l4.3 4.3l-4.3 4.3l-4.3 -4.3zM550.1 222.1l4.3 4.3l-4.3 4.3l-4.3 -4.3zM550.7 222.8l4.3 4.3l-4.3 4.3l-4.3 -4.3zM551.3 223.5l4.3 4.3l-4.3 4.3l-4.3 -4.3zM551.9 224.2l4.3 4.3l-4.3 4.3l-4.3 -4.3zM552.5 224.9l4.3 4.3l-4.3 4.3l-4.3 -4.3zM553.1 225.5l4.3 4.3l-4.3 4.3l-4.3 -4.3zM553.7 226.2l4.3 4.3l-4.3 4.3l-4.3 -4.3zM554.2 226.8l4.3 4.3l-4.3 4.3l-4.3 -4.3zM554.8 227.5l4.3 4.3l-4.3 4.3l-4.3 -4.3zM555.4 228.1l4.3 4.3l-4.3 4.3l-4.3 -4.3zM555.9 228.7l4.3 4.3l-4.3 4.3l-4.3 -4.3zM556.5 229.4l4.3 4.3l-4.3 4.3l-4.3 -4.3zM557 230l4.3 4.3l-4.3 4.3l-4.3 -4.3zM557.5 230.5l4.3 4.3l-4.3 4.3l-4.3 -4.3zM558.1 231.1l4.3 4.3l-4.3 4.3l-4.3 -4.3zM558.6 231.7l4.3 4.3l-4.3 4.3l-4.3 -4.3zM559.1 232.3l4.3 4.3l-4.3 4.3l-4.3 -4.3zM559.6 232.8l4.3 4.3l-4.3 4.3l-4.3 -4.3zM560.1 233.4l4.4 4.4l-4.4 4.4l-4.4 -4.4zM560.6 233.9l4.4 4.4l-4.4 4.4l-4.4 -4.4zM561.1 234.5l4.4 4.4l-4.4 4.4l-4.4 -4.4zM561.6 235l4.4 4.4l-4.4 4.4l-4.4 -4.4zM562.1 235.5l4.4 4.4l-4.4 4.4l-4.4 -4.4zM562.6 236l4.4 4.4l-4.4 4.4l-4.4 -4.4zM563.1 236.5l4.4 4.4l-4.4 4.4l-4.4 -4.4zM563.5 237.1l4.4 4.4l-4.4 4.4l-4.4 -4.4zM564 237.6l4.4 4.4l-4.4 4.4l-4.4 -4.4zM564.5 238.1l4.4 4.4l-4.4 4.4l-4.4 -4.4zM564.9 238.6l4.4 4.4l-4.4 4.4l-4.4 -4.4zM565.4 239.1l4.4 4.4l-4.4 4.4l-4.4 -4.4zM565.8 239.5l4.4 4.4l-4.4 4.4l-4.4 -4.4zM566.3 240l4.4 4.4l-4.4 4.4l-4.4 -4.4zM566.7 240.5l4.4 4.4l-4.4 4.4l-4.4 -4.4zM567.2 241l4.4 4.4l-4.4 4.4l-4.4 -4.4zM567.6 241.5l4.4 4.4l-4.4 4.4l-4.4 -4.4zM568 241.9l4.4 4.4l-4.4 4.4l-4.4 -4.4zM568.5 242.4l4.4 4.4l-4.4 4.4l-4.4 -4.4zM568.9 242.9l4.4 4.4l-4.4 4.4l-4.4 -4.4zM569.3 243.3l4.4 4.4l-4.4 4.4l-4.4 -4.4zM569.7 243.8l4.4 4.4l-4.4 4.4l-4.4 -4.4zM570.1 244.2l4.4 4.4l-4.4 4.4l-4.4 -4.4zM570.5 244.7l4.4 4.4l-4.4 4.4l-4.4 -4.4zM570.9 245.2l4.4 4.4l-4.4 4.4l-4.4 -4.4zM571.3 245.6l4.4 4.4l-4.4 4.4l-4.4 -4.4zM571.7 246.1l4.4 4.4l-4.4 4.4l-4.4 -4.4zM572.1 246.5l4.4 4.4l-4.4 4.4l-4.4 -4.4zM572.5 246.9l4.4 4.4l-4.4 4.4l-4.4 -4.4zM572.9 247.4l4.4 4.4l-4.4 4.4l-4.4 -4.4zM573.3 247.8l4.4 4.4l-4.4 4.4l-4.4 -4.4zM573.7 248.3l4.4 4.4l-4.4 4.4l-4.4 -4.4zM574.1 248.7l4.4 4.4l-4.4 4.4l-4.4 -4.4zM574.4 249.2l4.4 4.4l-4.4 4.4l-4.4 -4.4zM574.8 249.6l4.4 4.4l-4.4 4.4l-4.4 -4.4zM575.2 250l4.4 4.4l-4.4 4.4l-4.4 -4.4zM575.6 250.4l4.4 4.4l-4.4 4.4l-4.4 -4.4zM575.9 250.9l4.4 4.4l-4.4 4.4l-4.4 -4.4zM576.3 251.3l4.4 4.4l-4.4 4.4l-4.4 -4.4zM576.6 251.7l4.4 4.4l-4.4 4.4l-4.4 -4.4zM577 252.1l4.4 4.4l-4.4 4.4l-4.4 -4.4zM577.4 252.5l4.4 4.4l-4.4 4.4l-4.4 -4.4zM577.7 252.9l4.4 4.4l-4.4 4.4l-4.4 -4.4zM578.1 253.4l4.4 4.4l-4.4 4.4l-4.4 -4.4zM578.4 253.8l4.4 4.4l-4.4 4.4l-4.4 -4.4zM578.8 254.2l4.4 4.4l-4.4 4.4l-4.4 -4.4zM579.1 254.6l4.4 4.4l-4.4 4.4l-4.4 -4.4zM579.4 255l4.4 4.4l-4.4 4.4l-4.4 -4.4zM579.8 255.4l4.4 4.4l-4.4 4.4l-4.4 -4.4zM580.1 255.8l4.4 4.4l-4.4 4.4l-4.4 -4.4zM580.4 256.2l4.4 4.4l-4.4 4.4l-4.4 -4.4zM580.8 256.6l4.4 4.4l-4.4 4.4l-4.4 -4.4zM581.1 257l4.4 4.4l-4.4 4.4l-4.4 -4.4zM581.4 257.4l4.4 4.4l-4.4 4.4l-4.4 -4.4zM581.7 257.8l4.4 4.4l-4.4 4.4l-4.4 -4.4zM582.1 258.2l4.4 4.4l-4.4 4.4l-4.4 -4.4zM582.4 258.6l4.4 4.4l-4.4 4.4l-4.4 -4.4zM582.7 259l4.4 4.4l-4.4 4.4l-4.4 -4.4zM583 259.4l4.4 4.4l-4.4 4.4l-4.4 -4.4zM583.3 259.8l4.4 4.4l-4.4 4.4l-4.4 -4.4zM583.6 260.1l4.4 4.4l-4.4 4.4l-4.4 -4.4zM584 260.5l4.4 4.4l-4.4 4.4l-4.4 -4.4zM584.3 260.9l4.4 4.4l-4.4 4.4l-4.4 -4.4zM584.6 261.3l4.4 4.4l-4.4 4.4l-4.4 -4.4zM584.9 261.7l4.4 4.4l-4.4 4.4l-4.4 -4.4zM585.2 262l4.4 4.4l-4.4 4.4l-4.4 -4.4zM585.5 262.4l4.4 4.4l-4.4 4.4l-4.4 -4.4zM585.8 262.8l4.4 4.4l-4.4 4.4l-4.4 -4.4zM586.1 263.2l4.4 4.4l-4.4 4.4l-4.4 -4.4zM586.4 263.5l4.4 4.4l-4.4 4.4l-4.4 -4.4zM586.7 263.9l4.4 4.4l-4.4 4.4l-4.4 -4.4zM586.9 264.3l4.4 4.4l-4.4 4.4l-4.4 -4.4zM587.2 264.6l4.4 4.4l-4.4 4.4l-4.4 -4.4zM587.5 265l4.4 4.4l-4.4 4.4l-4.4 -4.4zM587.8 265.3l4.4 4.4l-4.4 4.4l-4.4 -4.4zM588.1 265.7l4.4 4.4l-4.4 4.4l-4.4 -4.4zM588.4 266l4.4 4.4l-4.4 4.4l-4.4 -4.4zM588.7 266.4l4.4 4.4l-4.4 4.4l-4.4 -4.4zM588.9 266.7l4.4 4.4l-4.4 4.4l-4.4 -4.4zM589.2 267.1l4.4 4.4l-4.4 4.4l-4.4 -4.4zM589.5 267.4l4.4 4.4l-4.4 4.4l-4.4 -4.4zM589.8 267.8l4.4 4.4l-4.4 4.4l-4.4 -4.4zM590 268.1l4.4 4.4l-4.4 4.4l-4.4 -4.4zM590.3 268.4l4.4 4.4l-4.4 4.4l-4.4 -4.4zM590.6 268.8l4.4 4.4l-4.4 4.4l-4.4 -4.4zM590.8 269.1l4.4 4.4l-4.4 4.4l-4.4 -4.4zM591.1 269.4l4.4 4.4l-4.4 4.4l-4.4 -4.4zM591.4 269.8l4.4 4.4l-4.4 4.4l-4.4 -4.4zM591.6 270.1l4.4 4.4l-4.4 4.4l-4.4 -4.4zM591.9 270.4l4.4 4.4l-4.4 4.4l-4.4 -4.4zM592.2 270.7l4.4 4.4l-4.4 4.4l-4.4 -4.4zM592.4 271.1l4.4 4.4l-4.4 4.4l-4.4 -4.4zM592.7 271.4l4.4 4.4l-4.4 4.4l-4.4 -4.4zM592.9 271.7l4.4 4.4l-4.4 4.4l-4.4 -4.4zM593.2 272l4.4 4.4l-4.4 4.4l-4.4 -4.4zM593.4 272.3l4.4 4.4l-4.4 4.4l-4.4 -4.4zM593.7 272.6l4.4 4.4l-4.4 4.4l-4.4 -4.4zM593.9 272.9l4.4 4.4l-4.4 4.4l-4.4 -4.4zM594.2 273.2l4.4 4.4l-4.4 4.4l-4.4 -4.4zM594.4 273.5l4.4 4.4l-4.4 4.4l-4.4 -4.4zM594.7 273.8l4.4 4.4l-4.4 4.4l-4.4 -4.4zM594.9 274.1l4.4 4.4l-4.4 4.4l-4.4 -4.4zM595.2 274.4l4.4 4.4l-4.4 4.4l-4.4 -4.4zM595.4 274.7l4.4 4.4l-4.4 4.4l-4.4 -4.4zM595.7 275l4.4 4.4l-4.4 4.4l-4.4 -4.4zM595.9 275.3l4.4 4.4l-4.4 4.4l-4.4 -4.4zM596.2 275.6l4.4 4.4l-4.4 4.4l-4.4 -4.4z" fill="#008000"/>

<path d="M214.5 60.9 218.3 61.2 221.9 61.5 225.3 61.7 228.4 61.9 231.3 62.1 234.0 62.3 236.6 62.5 239.0 62.7 241.3 62.9 243.5 63.0 245.6 63.2 247.6 63.3 249.5 63.5 251.3 63.6 253.0 63.7 254.7 63.8 256.3 64.0 257.9 64.2 259.4 64.4 260.8 64.6 262.2 64.7 263.6 64.9 264.9 65.1 266.2 65.2 267.4 65.4 268.6 65.5 269.8 65.7 270.9 65.8 272.0 65.9 273.1 66.1 274.1 66.2 275.2 66.3 276.2 66.5 277.2 66.6 278.1 66.7 279.1 66.8 280.0 67.0 280.9 67.1 281.8 67.2 282.6 67.3 283.5 67.4 284.3 67.5 285.1 67.6 285.9 67.7 286.7 67.9 287.5 68.0 288.2 68.1 289.0 68.2 289.7 68.3 290.4 68.4 291.2 68.5 291.9 68.6 292.5 68.6 293.2 68.7 293.9 68.8 294.5 68.9 295.2 69.0 295.8 69.1 296.5 69.2 297.1 69.3 297.7 69.4 298.3 69.4 298.9 69.5 299.5 69.6 300.0 69.7 300.6 69.8 301.2 69.9 301.7 69.9 302.3 70.0 302.8 70.1 303.4 70.2 303.9 70.3 304.4 70.3 304.9 70.4 305.4 70.5 305.9 70.6 306.4 70.7 306.9 70.7 307.4 70.8 307.9 70.9 308.4 71.0 308.9 71.0 309.3 71.1 309.8 71.2 310.3 71.2 310.7 71.3 311.2 71.4 311.6 71.5 312.0 71.5 312.5 71.6 312.9 71.7 313.3 71.7 313.8 71.8 314.2 71.9 318.2 70.6 321.8 70.9 325.2 71.3 328.4 71.7 331.3 72.1 334.1 72.6 336.7 73.0 339.1 73.5 341.4 74.0 343.7 74.5 345.8 75.0 347.8 75.5 349.7 75.9 351.6 76.4 353.4 76.8 355.1 77.3 356.7 77.7 358.3 78.2 359.9 78.6 361.3 79.0 362.8 79.5 364.2 79.9 365.5 80.4 366.9 80.8 368.1 81.3 369.4 81.7 370.6 82.2 371.8 82.7 372.9 83.1 374.1 83.6 375.2 84.0 376.2 84.4 377.3 84.9 378.3 85.3 379.3 85.7 380.3 86.1 381.2 86.5 382.2 86.9 383.1 87.2 384.0 87.6 384.9 88.0 385.8 88.4 386.6 88.7 387.4 89.1 388.3 89.4 389.1 89.8 389.9 90.1 390.7 90.5 391.4 90.8 392.2 91.2 392.9 91.5 393.7 91.8 394.4 92.2 395.1 92.5 395.8 92.8 396.5 93.2 397.1 93.5 397.8 93.8 398.5 94.1 399.1 94.5 399.8 94.8 400.4 95.1 401.0 95.4 401.6 95.7 402.2 96.0 402.8 96.3 403.4 96.6 404.0 96.9 404.6 97.2 405.2 97.5 405.7 97.8 406.3 98.1 406.8 98.4 407.4 98.6 407.9 98.9 408.5 99.2 409.0 99.5 409.5 99.8 410.0 100.0 410.5 100.3 411.0 100.6 411.5 100.8 412.0 101.1 412.5 101.4 413.0 101.7 413.5 101.9 413.9 102.2 414.4 102.4 414.9 102.7 415.3 102.6 417.5 101.5 419.7 102.7 421.7 103.8 423.6 104.9 425.5 106.1 427.3 107.2 429.0 108.3 430.7 109.4 432.3 110.5 433.9 111.6 435.4 112.6 436.9 113.7 438.3 114.7 439.7 115.7 441.0 116.7 442.3 117.6 443.6 118.6 444.8 119.5 446.0 120.4 447.2 121.3 448.3 122.2 449.4 123.1 450.5 124.0 451.6 124.9 452.6 125.7 453.6 126.6 454.6 127.4 455.6 128.2 456.6 129.1 457.5 129.9 458.4 130.7 459.3 131.4 460.2 132.2 461.1 133.0 462.0 133.8 462.8 134.6 463.6 135.4 464.4 136.2 465.2 136.9 466.0 137.7 466.8 138.4 467.5 139.2 468.3 139.9 469.0 140.6 469.7 141.3 470.5 142.1 471.2 142.8 471.9 143.5 472.5 144.2 473.2 144.9 473.9 145.6 474.5 146.3 475.2 147.0 475.8 147.7 476.4 148.4 477.1 149.1 477.7 149.8 478.3 150.4 478.9 151.1 479.5 151.7 480.0 152.3 480.6 153.0 481.2 153.6 481.8 154.2 482.3 154.8 482.9 155.4 483.4 155.9 483.9 156.5 484.5 157.0 485.0 157.6 485.5 158.1 486.0 158.6 486.5 159.1 487.0 159.6 487.5 160.1 488.0 160.5 488.5 161.1 489.0 161.6 489.5 162.2 489.9 162.7 490.4 163.2 490.9 163.7 491.3 164.2 491.8 164.7 492.2 165.1 492.7 165.6 493.1 166.1 493.6 166.5 494.0 167.0 494.4 167.4 494.9 167.9 495.3 168.3 495.7 168.7 496.1 169.1 496.5 169.5 496.9 170.0 497.3 170.4 497.7 170.8 498.1 171.2 498.5 171.6 498.9 172.0 499.3 172.3 499.7 172.7 500.1 173.1 500.5 173.5 500.8 173.9 501.2 174.3 501.6 174.6 502.0 175.0 502.3 175.4 502.7 175.7 503.0 176.1 503.4 176.5 503.7 176.8 504.1 177.2 504.4 177.6 504.8 177.9 505.1 178.3 505.5 178.7 505.8 179.0 506.2 179.4 506.5 179.7 506.8 180.1 507.2 180.5 507.5 180.8 507.8 181.2 508.1 181.5 508.4 181.9 508.8 182.2 509.1 182.6 509.4 182.9 509.7 183.2 510.0 183.5 510.3 183.8 510.6 184.1 510.9 184.4 511.2 184.7 511.5 185.0 511.8 185.3 512.1 185.6 512.4 185.9 512.7 186.2 513.0 186.5 513.3 186.8 513.6 187.1 513.9 187.4 514.2 187.7 514.5 188.0 514.7 188.3 515.0 188.6 515.3 188.9 515.6 189.1 515.8 189.4 516.1 189.7 516.4 190.0 516.7 190.3 516.9 190.6 517.2 190.9 517.5 191.2 517.7 191.4 518.0 191.7 518.2 192.0 518.5 192.3 518.8 192.6 519.0 192.9 519.3 193.1 519.5 193.4 519.8 193.7 520.0 194.0 520.3 194.2 520.5 194.5 520.8 194.8 521.0 195.0 521.3 195.3 521.5 195.6 521.8 195.8 522.0 196.1 522.3 196.4 522.5 196.6 522.7 196.9 523.0 197.2 523.2 197.4 523.4 197.7 523.7 197.9 523.9 198.2 524.1 198.4 524.4 198.7 524.6 198.9 524.8 199.2 525.0 199.4 525.3 199.7 525.5 199.9 525.7 200.2 525.9 200.4 526.2 200.6 526.4 200.9 526.6 201.1 526.8 201.4 527.0 201.6 527.3 201.8 527.5 202.1 527.7 202.3 527.9 202.6 528.1 202.8 528.3 203.0 528.5 203.3 528.8 203.5 529.0 203.7 529.2 204.0 529.4 204.2 529.6 204.4 529.8 204.7 530.0 204.9 530.2 205.1 530.4 205.3 530.6 205.6 530.8 205.8 531.0 206.0 531.2 206.2 531.4 206.4 531.6 206.7 531.8 206.9 532.0 207.1 532.2 207.3 532.4 207.5 532.6 207.8 532.8 208.0 533.0 208.2 533.2 208.4 533.3 208.6 533.5 208.8 533.7 209.0 533.9 209.3 534.1 209.5 534.3 209.7 534.5 209.9 534.7 210.1 534.8 210.3 535.0 210.5 535.2 210.7 535.4 210.9 535.6 211.1 535.8 211.3 535.9 211.5 536.1 211.7 536.3 211.9 536.5 212.1 536.7 212.3 536.8 212.5 537.0 212.7 537.2 212.9 537.4 213.1 537.5 213.3 537.7 213.5 537.9 213.7 538.1 213.9 538.2 214.1 538.4 214.3 538.6 214.5 538.8 214.7 538.9 214.9 539.1 215.1 539.3 215.3 539.4 215.5 539.6 215.7 539.8 215.8 539.9 216.0 540.1 216.2 540.3 216.4 540.4 216.6 540.6 216.8 540.8 217.0 540.9 217.2 541.1 217.3 541.2 217.5 541.4 217.7 541.6 217.9 541.7 218.1 541.9 218.3 542.0 218.4 542.2 218.6 542.4 218.8 542.5 219.0 542.7 219.1 542.8 219.3 543.0 219.5 543.1 219.7 543.3 219.9 543.5 220.0 543.6 220.2 543.8 220.4 543.9 220.6 544.1 220.7 544.2 220.9 544.4 221.1 544.5 221.2 544.7 221.4 544.8 221.6 545.0 221.8 545.1 221.9 545.3 222.1 545.4 222.3 545.6 222.4 545.7 222.6 545.9 222.8 546.0 222.9 546.2 223.1 546.3 223.3 546.5 223.4 546.6 223.6 546.7 223.7 546.9 223.9 547.0 224.1 547.2 224.2 547.3 224.4 547.5 224.6 547.6 224.7 547.7 224.9 547.9 225.0 548.0 225.2 548.2 225.3 548.3 225.5 548.4 225.7 548.6 225.8 548.7 226.0 548.9 226.1 549.0 226.3 549.1 226.4 549.3 226.6 549.4 226.7 549.6 226.9 549.7 227.0 549.8 227.2 550.0 227.4 550.1 227.5 550.2 227.7 550.4 227.8 550.5 228.0 550.6 228.1 550.8 228.2 550.9 228.4 551.0 228.5 551.2 228.7 551.3 228.8 551.4 229.0 551.6 229.1 551.7 229.3 551.8 229.4 551.9 229.6 552.1 229.7 552.2 229.9 552.3 230.0 552.5 230.1 552.6 230.3 552.7 230.4 552.8 230.6 553.0 230.7 553.1 230.8 553.2 231.0 553.4 231.1 553.5 231.3 553.6 231.4 553.7 231.5 553.9 231.7 554.0 231.8 554.1 231.9 554.2 232.1 554.4 232.2 554.5 232.4 554.6 232.5 554.7 232.6 554.8 232.8 555.0 232.9 555.1 233.0 555.2 233.2 555.3 233.3 555.5 233.4 555.6 233.6 555.7 233.7 555.8 233.8" fill="none" stroke="#000080" stroke-width="1"/>
<path d="M211.5 60.9l6 -3.5v7zM215.3 61.2l6 -3.5v7zM218.9 61.5l6 -3.5v7zM222.3 61.7l6 -3.5v7zM225.4 61.9l6 -3.5v7zM228.3 62.1l6 -3.5v7zM231 62.3l6 -3.5v7zM233.6 62.5l6 -3.5v7zM236 62.7l6 -3.5v7zM238.3 62.9l6 -3.5v7zM240.5 63l6 -3.5v7zM242.6 63.2l6 -3.5v7zM244.6 63.3l6 -3.5v7zM246.5 63.5l6 -3.5v7zM248.3 63.6l6 -3.5v7zM250 63.7l6 -3.5v7zM251.7 63.8l6 -3.5v7zM253.3 64l6 -3.5v7zM254.9 64.2l6 -3.5v7zM256.4 64.4l6 -3.5v7zM257.8 64.6l6 -3.5v7zM259.2 64.7l6 -3.5v7zM260.6 64.9l6 -3.5v7zM261.9 65.1l6 -3.5v7zM263.2 65.2l6 -3.5v7zM264.4 65.4l6 -3.5v7zM265.6 65.5l6 -3.5v7zM266.8 65.7l6 -3.5v7zM267.9 65.8l6 -3.5v7zM269 65.9l6 -3.5v7zM270.1 66.1l6 -3.5v7zM271.1 66.2l6 -3.5v7zM272.2 66.3l6 -3.5v7zM273.2 66.5l6 -3.5v7zM274.2 66.6l6 -3.5v7zM275.1 66.7l6 -3.5v7zM276.1 66.8l6 -3.5v7zM277 67l6 -3.5v7zM277.9 67.1l6 -3.5v7zM278.8 67.2l6 -3.5v7zM279.6 67.3l6 -3.5v7zM280.5 67.4l6 -3.5v7zM281.3 67.5l6 -3.5v7zM282.1 67.6l6 -3.5v7zM282.9 67.7l6 -3.5v7zM283.7 67.9l6 -3.5v7zM284.5 68l6 -3.5v7zM285.2 68.1l6 -3.5v7zM286 68.2l6 -3.5v7zM286.7 68.3l6 -3.5v7zM287.4 68.4l6 -3.5v7zM288.2 68.5l6 -3.5v7zM288.9 68.6l6 -3.5v7zM289.5 68.6l6 -3.5v7zM290.2 68.7l6 -3.5v7zM290.9 68.8l6 -3.5v7zM291.5 68.9l6 -3.5v7zM292.2 69l6 -3.5v7zM292.8 69.1l6 -3.5v7zM293.5 69.2l6 -3.5v7zM294.1 69.3l6 -3.5v7zM294.7 69.4l6 -3.5v7zM295.3 69.4l6 -3.5v7zM295.9 69.5l6 -3.5v7zM296.5 69.6l6 -3.5v7zM297 69.7l6 -3.5v7zM297.6 69.8l6 -3.5v7zM298.2 69.9l6 -3.5v7zM298.7 69.9l6 -3.5v7zM299.3 70l6 -3.5v7zM299.8 70.1l6 -3.5v7zM300.4 70.2l6 -3.5v7zM300.9 70.3l6 -3.5v7zM301.4 70.3l6 -3.5v7zM301.9 70.4l6 -3.5v7zM302.4 70.5l6 -3.5v7zM302.9 70.6l6 -3.5v7zM303.4 70.7l6 -3.5v7zM303.9 70.7l6 -3.5v7zM304.4 70.8l6 -3.5v7zM304.9 70.9l6 -3.5v7zM305.4 71l6 -3.5v7zM305.9 71l6 -3.5v7zM306.3 71.1l6 -3.5v7zM306.8 71.2l6 -3.5v7zM307.3 71.2l6 -3.5v7zM307.7 71.3l6 -3.5v7zM308.2 71.4l6 -3.5v7zM308.6 71.5l6 -3.5v7zM309 71.5l6 -3.5v7zM309.5 71.6l6 -3.5v7zM309.9 71.7l6 -3.5v7zM310.3 71.7l6 -3.5v7zM310.8 71.8l6 -3.5v7zM311.2 71.9l6 -3.5v7zM315.2 70.6l6 -3.5v7zM318.8 70.9l6 -3.5v7zM322.2 71.3l6 -3.5v7zM325.4 71.7l6 -3.5v7zM328.3 72.1l6 -3.5v7zM331.1 72.6l6 -3.5v7zM333.7 73l6 -3.5v7zM336.1 73.5l6 -3.5v7zM338.4 74l6 -3.5v7zM340.7 74.5l6 -3.5v7zM342.8 75l6 -3.5v7zM344.8 75.5l6 -3.5v7zM346.7 75.9l6 -3.5v7zM348.6 76.4l6 -3.5v7zM350.4 76.8l6 -3.5v7zM352.1 77.3l6 -3.5v7zM353.7 77.7l6 -3.5v7zM355.3 78.2l6 -3.5v7zM356.9 78.6l6 -3.5v7zM358.3 79l6 -3.5v7zM359.8 79.5l6 -3.5v7zM361.2 79.9l6 -3.5v7zM362.5 80.4l6 -3.5v7zM363.9 80.8l6 -3.5v7zM365.1 81.3l6 -3.5v7zM366.4 81.7l6 -3.5v7zM367.6 82.2l6 -3.5v7zM368.8 82.7l6 -3.5v7zM369.9 83.1l6 -3.5v7zM371.1 83.6l6 -3.5v7zM372.2 84l6 -3.5v7zM373.2 84.4l6 -3.5v7zM374.3 84.9l6 -3.5v7zM375.3 85.3l6 -3.5v7zM376.3 85.7l6 -3.5v7zM377.3 86.1l6 -3.5v7zM378.2 86.5l6 -3.5v7zM379.2 86.9l6 -3.5v7zM380.1 87.2l6 -3.5v7zM381 87.6l6 -3.5v7zM381.9 88l6 -3.5v7zM382.8 88.4l6 -3.5v7zM383.6 88.7l6 -3.5v7zM384.4 89.1l6 -3.5v7zM385.3 89.4l6 -3.5v7zM386.1 89.8l6 -3.5v7zM386.9 90.1l6 -3.5v7zM387.7 90.5l6 -3.5v7zM388.4 90.8l6 -3.5v7zM389.2 91.2l6 -3.5v7zM389.9 91.5l6 -3.5v7zM390.7 91.8l6 -3.5v7zM391.4 92.2l6 -3.5v7zM392.1 92.5l6 -3.5v7zM392.8 92.8l6 -3.5v7zM393.5 93.2l6 -3.5v7zM394.1 93.5l6 -3.5v7zM394.8 93.8l6 -3.5v7zM395.5 94.1l6 -3.5v7zM396.1 94.5l6 -3.5v7zM396.8 94.8l6 -3.5v7zM397.4 95.1l6 -3.5v7zM398 95.4l6 -3.5v7zM398.6 95.7l6 -3.5v7zM399.2 96l6 -3.5v7zM399.8 96.3l6 -3.5v7zM400.4 96.6l6 -3.5v7zM401 96.9l6 -3.5v7zM401.6 97.2l6 -3.5v7zM402.2 97.5l6 -3.5v7zM402.7 97.8l6 -3.5v7zM403.3 98.1l6 -3.5v7zM403.8 98.4l6 -3.5v7zM404.4 98.6l6 -3.5v7zM404.9 98.9l6 -3.5v7zM405.5 99.2l6 -3.5v7zM406 99.5l6 -3.5v7zM406.5 99.8l6 -3.5v7zM407 100l6 -3.5v7zM407.5 100.3l6 -3.5v7zM408 100.6l6 -3.5v7zM408.5 100.8l6 -3.5v7zM409 101.1l6 -3.5v7zM409.5 101.4l6 -3.5v7zM410 101.7l6 -3.5v7zM410.5 101.9l6 -3.5v7zM410.9 102.2l6 -3.5v7zM411.4 102.4l6 -3.5v7zM411.9 102.7l6 -3.5v7zM412.3 102.6l6 -3.5v7zM414.5 101.5l6 -3.5v7zM416.7 102.7l6 -3.5v7zM418.7 103.8l6 -3.5v7zM420.6 104.9l6 -3.5v7.1zM422.5 106.1l6.1 -3.5v7.1zM424.3 107.2l6.1 -3.5v7.1zM426 108.3l6.1 -3.5v7.1zM427.7 109.4l6.1 -3.6v7.1zM429.3 110.5l6.1 -3.6v7.1zM430.8 111.6l6.1 -3.6v7.1zM432.3 112.6l6.1 -3.6v7.1zM433.8 113.7l6.1 -3.6v7.1zM435.2 114.7l6.1 -3.6v7.2zM436.6 115.7l6.1 -3.6v7.2zM437.9 116.7l6.1 -3.6v7.2zM439.2 117.6l6.2 -3.6v7.2zM440.5 118.6l6.2 -3.6v7.2zM441.7 119.5l6.2 -3.6v7.2zM442.9 120.4l6.2 -3.6v7.2zM444.1 121.3l6.2 -3.6v7.2zM445.2 122.2l6.2 -3.6v7.2zM446.3 123.1l6.2 -3.6v7.2zM447.4 124l6.2 -3.6v7.2zM448.5 124.9l6.2 -3.6v7.2zM449.5 125.7l6.2 -3.6v7.2zM450.5 126.6l6.2 -3.6v7.3zM451.5 127.4l6.2 -3.6v7.3zM452.5 128.2l6.2 -3.6v7.3zM453.5 129.1l6.2 -3.6v7.3zM454.4 129.9l6.2 -3.6v7.3zM455.3 130.7l6.2 -3.6v7.3zM456.2 131.4l6.2 -3.6v7.3zM457.1 132.2l6.3 -3.6v7.3zM458 133l6.3 -3.7v7.3zM458.8 133.8l6.3 -3.7v7.3zM459.7 134.6l6.3 -3.7v7.3zM460.5 135.4l6.3 -3.7v7.3zM461.3 136.2l6.3 -3.7v7.3zM462.1 136.9l6.3 -3.7v7.3zM462.9 137.7l6.3 -3.7v7.3zM463.6 138.4l6.3 -3.7v7.3zM464.4 139.2l6.3 -3.7v7.3zM465.1 139.9l6.3 -3.7v7.3zM465.9 140.6l6.3 -3.7v7.4zM466.6 141.3l6.3 -3.7v7.4zM467.3 142.1l6.3 -3.7v7.4zM468 142.8l6.3 -3.7v7.4zM468.7 143.5l6.3 -3.7v7.4zM469.4 144.2l6.3 -3.7v7.4zM470.1 144.9l6.3 -3.7v7.4zM470.7 145.6l6.3 -3.7v7.4zM471.4 146.3l6.3 -3.7v7.4zM472 147l6.3 -3.7v7.4zM472.6 147.7l6.3 -3.7v7.4zM473.3 148.4l6.3 -3.7v7.4zM473.9 149.1l6.3 -3.7v7.4zM474.5 149.8l6.4 -3.7v7.4zM475.1 150.4l6.4 -3.7v7.4zM475.7 151.1l6.4 -3.7v7.4zM476.3 151.7l6.4 -3.7v7.4zM476.9 152.3l6.4 -3.7v7.4zM477.4 153l6.4 -3.7v7.4zM478 153.6l6.4 -3.7v7.4zM478.6 154.2l6.4 -3.7v7.4zM479.1 154.8l6.4 -3.7v7.4zM479.7 155.4l6.4 -3.7v7.4zM480.2 155.9l6.4 -3.7v7.4zM480.7 156.5l6.4 -3.7v7.5zM481.3 157l6.4 -3.7v7.5zM481.8 157.6l6.4 -3.7v7.5zM482.3 158.1l6.4 -3.7v7.5zM482.8 158.6l6.4 -3.7v7.5zM483.3 159.1l6.4 -3.7v7.5zM483.8 159.6l6.4 -3.7v7.5zM484.3 160.1l6.4 -3.7v7.5zM484.8 160.5l6.4 -3.7v7.5zM485.3 161.1l6.4 -3.7v7.5zM485.8 161.6l6.4 -3.7v7.5zM486.3 162.2l6.4 -3.7v7.5zM486.7 162.7l6.4 -3.7v7.5zM487.2 163.2l6.4 -3.7v7.5zM487.7 163.7l6.4 -3.7v7.5zM488.1 164.2l6.4 -3.7v7.5zM488.6 164.7l6.4 -3.8v7.5zM489 165.1l6.4 -3.8v7.5zM489.5 165.6l6.4 -3.8v7.5zM489.9 166.1l6.4 -3.8v7.5zM490.4 166.5l6.4 -3.8v7.5zM490.8 167l6.4 -3.8v7.5zM491.2 167.4l6.4 -3.8v7.5zM491.6 167.9l6.4 -3.8v7.5zM492.1 168.3l6.4 -3.8v7.5zM492.5 168.7l6.5 -3.8v7.5zM492.9 169.1l6.5 -3.8v7.5zM493.3 169.5l6.5 -3.8v7.5zM493.7 170l6.5 -3.8v7.5zM494.1 170.4l6.5 -3.8v7.5zM494.5 170.8l6.5 -3.8v7.5zM494.9 171.2l6.5 -3.8v7.5zM495.3 171.6l6.5 -3.8v7.5zM495.7 172l6.5 -3.8v7.5zM496.1 172.3l6.5 -3.8v7.5zM496.5 172.7l6.5 -3.8v7.6zM496.8 173.1l6.5 -3.8v7.6zM497.2 173.5l6.5 -3.8v7.6zM497.6 173.9l6.5 -3.8v7.6zM498 174.3l6.5 -3.8v7.6zM498.3 174.6l6.5 -3.8v7.6zM498.7 175l6.5 -3.8v7.6zM499.1 175.4l6.5 -3.8v7.6zM499.4 175.7l6.5 -3.8v7.6zM499.8 176.1l6.5 -3.8v7.6zM500.1 176.5l6.5 -3.8v7.6zM500.5 176.8l6.5 -3.8v7.6zM500.9 177.2l6.5 -3.8v7.6zM501.2 177.6l6.5 -3.8v7.6zM501.5 177.9l6.5 -3.8v7.6zM501.9 178.3l6.5 -3.8v7.6zM502.2 178.7l6.5 -3.8v7.6zM502.6 179l6.5 -3.8v7.6zM502.9 179.4l6.5 -3.8v7.6zM503.2 179.7l6.5 -3.8v7.6zM503.6 180.1l6.5 -3.8v7.6zM503.9 180.5l6.5 -3.8v7.6zM504.2 180.8l6.5 -3.8v7.6zM504.5 181.2l6.5 -3.8v7.6zM504.9 181.5l6.5 -3.8v7.6zM505.2 181.9l6.5 -3.8v7.6zM505.5 182.2l6.5 -3.8v7.6zM505.8 182.6l6.5 -3.8v7.6zM506.1 182.9l6.5 -3.8v7.6zM506.4 183.2l6.5 -3.8v7.6zM506.8 183.5l6.5 -3.8v7.6zM507.1 183.8l6.5 -3.8v7.6zM507.4 184.1l6.5 -3.8v7.6zM507.7 184.4l6.5 -3.8v7.6zM508 184.7l6.5 -3.8v7.6zM508.3 185l6.5 -3.8v7.6zM508.6 185.3l6.5 -3.8v7.6zM508.9 185.6l6.5 -3.8v7.6zM509.2 185.9l6.5 -3.8v7.6zM509.5 186.2l6.5 -3.8v7.6zM509.7 186.5l6.5 -3.8v7.6zM510 186.8l6.5 -3.8v7.6zM510.3 187.1l6.5 -3.8v7.6zM510.6 187.4l6.6 -3.8v7.6zM510.9 187.7l6.6 -3.8v7.6zM511.2 188l6.6 -3.8v7.6zM511.5 188.3l6.6 -3.8v7.6zM511.7 188.6l6.6 -3.8v7.7zM512 188.9l6.6 -3.8v7.7zM512.3 189.1l6.6 -3.8v7.7zM512.6 189.4l6.6 -3.8v7.7zM512.8 189.7l6.6 -3.8v7.7zM513.1 190l6.6 -3.8v7.7zM513.4 190.3l6.6 -3.8v7.7zM513.6 190.6l6.6 -3.8v7.7zM513.9 190.9l6.6 -3.8v7.7zM514.2 191.2l6.6 -3.8v7.7zM514.4 191.4l6.6 -3.8v7.7zM514.7 191.7l6.6 -3.8v7.7zM515 192l6.6 -3.8v7.7zM515.2 192.3l6.6 -3.8v7.7zM515.5 192.6l6.6 -3.8v7.7zM515.7 192.9l6.6 -3.8v7.7zM516 193.1l6.6 -3.8v7.7zM516.2 193.4l6.6 -3.8v7.7zM516.5 193.7l6.6 -3.8v7.7zM516.7 194l6.6 -3.8v7.7zM517 194.2l6.6 -3.8v7.7zM517.2 194.5l6.6 -3.8v7.7zM517.5 194.8l6.6 -3.8v7.7zM517.7 195l6.6 -3.8v7.7zM518 195.3l6.6 -3.8v7.7zM518.2 195.6l6.6 -3.8v7.7zM518.5 195.8l6.6 -3.8v7.7zM518.7 196.1l6.6 -3.8v7.7zM519 196.4l6.6 -3.8v7.7zM519.2 196.6l6.6 -3.8v7.7zM519.4 196.9l6.6 -3.9v7.7zM519.7 197.2l6.6 -3.9v7.7zM519.9 197.4l6.6 -3.9v7.7zM520.1 197.7l6.6 -3.9v7.7zM520.4 197.9l6.6 -3.9v7.7zM520.6 198.2l6.6 -3.9v7.7zM520.8 198.4l6.6 -3.9v7.7zM521.1 198.7l6.6 -3.9v7.7zM521.3 198.9l6.6 -3.9v7.7zM521.5 199.2l6.6 -3.9v7.7zM521.7 199.4l6.6 -3.9v7.7zM522 199.7l6.6 -3.9v7.7zM522.2 199.9l6.6 -3.9v7.7zM522.4 200.2l6.6 -3.9v7.7zM522.6 200.4l6.6 -3.9v7.7zM522.9 200.6l6.6 -3.9v7.7zM523.1 200.9l6.6 -3.9v7.7zM523.3 201.1l6.6 -3.9v7.7zM523.5 201.4l6.6 -3.9v7.7zM523.7 201.6l6.6 -3.9v7.7zM524 201.8l6.6 -3.9v7.7zM524.2 202.1l6.6 -3.9v7.7zM524.4 202.3l6.6 -3.9v7.7zM524.6 202.6l6.6 -3.9v7.7zM524.8 202.8l6.6 -3.9v7.7zM525 203l6.6 -3.9v7.7zM525.2 203.3l6.6 -3.9v7.7zM525.5 203.5l6.6 -3.9v7.7zM525.7 203.7l6.6 -3.9v7.7zM525.9 204l6.6 -3.9v7.7zM526.1 204.2l6.6 -3.9v7.7zM526.3 204.4l6.6 -3.9v7.7zM526.5 204.7l6.6 -3.9v7.7zM526.7 204.9l6.6 -3.9v7.7zM526.9 205.1l6.6 -3.9v7.7zM527.1 205.3l6.6 -3.9v7.7zM527.3 205.6l6.6 -3.9v7.7zM527.5 205.8l6.6 -3.9v7.7zM527.7 206l6.6 -3.9v7.7zM527.9 206.2l6.6 -3.9v7.7zM528.1 206.4l6.6 -3.9v7.7zM528.3 206.7l6.6 -3.9v7.7zM528.5 206.9l6.6 -3.9v7.7zM528.7 207.1l6.6 -3.9v7.7zM528.9 207.3l6.6 -3.9v7.7zM529.1 207.5l6.6 -3.9v7.7zM529.3 207.8l6.6 -3.9v7.7zM529.5 208l6.6 -3.9v7.7zM529.7 208.2l6.6 -3.9v7.7zM529.9 208.4l6.6 -3.9v7.7zM530 208.6l6.6 -3.9v7.7zM530.2 208.8l6.6 -3.9v7.7zM530.4 209l6.6 -3.9v7.7zM530.6 209.3l6.6 -3.9v7.7zM530.8 209.5l6.6 -3.9v7.7zM531 209.7l6.6 -3.9v7.7zM531.2 209.9l6.6 -3.9v7.7zM531.4 210.1l6.6 -3.9v7.7zM531.5 210.3l6.6 -3.9v7.7zM531.7 210.5l6.6 -3.9v7.7zM531.9 210.7l6.6 -3.9v7.7zM532.1 210.9l6.6 -3.9v7.7zM532.3 211.1l6.6 -3.9v7.7zM532.5 211.3l6.6 -3.9v7.7zM532.6 211.5l6.6 -3.9v7.7zM532.8 211.7l6.6 -3.9v7.7zM533 211.9l6.6 -3.9v7.7zM533.2 212.1l6.6 -3.9v7.7zM533.4 212.3l6.6 -3.9v7.7zM533.5 212.5l6.6 -3.9v7.7zM533.7 212.7l6.6 -3.9v7.7zM533.9 212.9l6.6 -3.9v7.7zM534.1 213.1l6.6 -3.9v7.7zM534.2 213.3l6.6 -3.9v7.7zM534.4 213.5l6.6 -3.9v7.7zM534.6 213.7l6.6 -3.9v7.7zM534.8 213.9l6.6 -3.9v7.7zM534.9 214.1l6.6 -3.9v7.7zM535.1 214.3l6.6 -3.9v7.7zM535.3 214.5l6.6 -3.9v7.7zM535.5 214.7l6.6 -3.9v7.7zM535.6 214.9l6.6 -3.9v7.7zM535.8 215.1l6.6 -3.9v7.7zM536 215.3l6.6 -3.9v7.7zM536.1 215.5l6.6 -3.9v7.7zM536.3 215.7l6.6 -3.9v7.7zM536.5 215.8l6.6 -3.9v7.7zM536.6 216l6.6 -3.9v7.7zM536.8 216.2l6.6 -3.9v7.7zM537 216.4l6.6 -3.9v7.7zM537.1 216.6l6.6 -3.9v7.7zM537.3 216.8l6.6 -3.9v7.7zM537.5 217l6.6 -3.9v7.7zM537.6 217.2l6.6 -3.9v7.7zM537.8 217.3l6.6 -3.9v7.7zM537.9 217.5l6.6 -3.9v7.7zM538.1 217.7l6.6 -3.9v7.7zM538.3 217.9l6.6 -3.9v7.7zM538.4 218.1l6.6 -3.9v7.7zM538.6 218.3l6.6 -3.9v7.7zM538.7 218.4l6.6 -3.9v7.7zM538.9 218.6l6.6 -3.9v7.7zM539.1 218.8l6.6 -3.9v7.7zM539.2 219l6.6 -3.9v7.7zM539.4 219.1l6.6 -3.9v7.7zM539.5 219.3l6.6 -3.9v7.7zM539.7 219.5l6.6 -3.9v7.7zM539.8 219.7l6.6 -3.9v7.7zM540 219.9l6.6 -3.9v7.7zM540.2 220l6.6 -3.9v7.7zM540.3 220.2l6.6 -3.9v7.7zM540.5 220.4l6.6 -3.9v7.7zM540.6 220.6l6.6 -3.9v7.7zM540.8 220.7l6.6 -3.9v7.7zM540.9 220.9l6.6 -3.9v7.7zM541.1 221.1l6.6 -3.9v7.7zM541.2 221.2l6.6 -3.9v7.7zM541.4 221.4l6.6 -3.9v7.7zM541.5 221.6l6.6 -3.9v7.7zM541.7 221.8l6.6 -3.9v7.7zM541.8 221.9l6.6 -3.9v7.7zM542 222.1l6.6 -3.9v7.7zM542.1 222.3l6.6 -3.9v7.7zM542.3 222.4l6.6 -3.9v7.7zM542.4 222.6l6.6 -3.9v7.7zM542.6 222.8l6.6 -3.9v7.7zM542.7 222.9l6.6 -3.9v7.7zM542.9 223.1l6.6 -3.9v7.7zM543 223.3l6.6 -3.9v7.7zM543.2 223.4l6.6 -3.9v7.7zM543.3 223.6l6.6 -3.9v7.7zM543.4 223.7l6.6 -3.9v7.7zM543.6 223.9l6.6 -3.9v7.7zM543.7 224.1l6.6 -3.9v7.7zM543.9 224.2l6.6 -3.9v7.7zM544 224.4l6.6 -3.9v7.7zM544.2 224.6l6.6 -3.9v7.7zM544.3 224.7l6.6 -3.9v7.7zM544.4 224.9l6.6 -3.9v7.7zM544.6 225l6.6 -3.9v7.7zM544.7 225.2l6.6 -3.9v7.7zM544.9 225.3l6.6 -3.9v7.7zM545 225.5l6.6 -3.9v7.7zM545.1 225.7l6.6 -3.9v7.7zM545.3 225.8l6.6 -3.9v7.7zM545.4 226l6.6 -3.9v7.7zM545.6 226.1l6.6 -3.9v7.7zM545.7 226.3l6.6 -3.9v7.7zM545.8 226.4l6.6 -3.9v7.7zM546 226.6l6.6 -3.9v7.7zM546.1 226.7l6.6 -3.9v7.7zM546.3 226.9l6.6 -3.9v7.7zM546.4 227l6.6 -3.9v7.7zM546.5 227.2l6.6 -3.9v7.7zM546.7 227.4l6.6 -3.9v7.7zM546.8 227.5l6.6 -3.9v7.7zM546.9 227.7l6.6 -3.9v7.7zM547.1 227.8l6.6 -3.9v7.7zM547.2 228l6.6 -3.9v7.7zM547.3 228.1l6.6 -3.9v7.7zM547.5 228.2l6.6 -3.9v7.7zM547.6 228.4l6.6 -3.9v7.7zM547.7 228.5l6.6 -3.9v7.7zM547.9 228.7l6.6 -3.9v7.7zM548 228.8l6.6 -3.9v7.7zM548.1 229l6.6 -3.9v7.7zM548.3 229.1l6.6 -3.9v7.7zM548.4 229.3l6.6 -3.9v7.7zM548.5 229.4l6.6 -3.9v7.7zM548.6 229.6l6.6 -3.9v7.7zM548.8 229.7l6.6 -3.9v7.7zM548.9 229.9l6.6 -3.9v7.7zM549 230l6.6 -3.9v7.7zM549.2 230.1l6.6 -3.9v7.7zM549.3 230.3l6.6 -3.9v7.7zM549.4 230.4l6.6 -3.9v7.7zM549.5 230.6l6.6 -3.9v7.7zM549.7 230.7l6.6 -3.9v7.7zM549.8 230.8l6.6 -3.9v7.7zM549.9 231l6.6 -3.9v7.7zM550.1 231.1l6.6 -3.9v7.7zM550.2 231.3l6.6 -3.9v7.7zM550.3 231.4l6.6 -3.9v7.7zM550.4 231.5l6.6 -3.9v7.7zM550.6 231.7l6.6 -3.9v7.7zM550.7 231.8l6.6 -3.9v7.7zM550.8 231.9l6.6 -3.9v7.7zM550.9 232.1l6.6 -3.9v7.7zM551.1 232.2l6.6 -3.9v7.7zM551.2 232.4l6.6 -3.9v7.7zM551.3 232.5l6.6 -3.9v7.7zM551.4 232.6l6.6 -3.9v7.7zM551.5 232.8l6.6 -3.9v7.7zM551.7 232.9l6.6 -3.9v7.7zM551.8 233l6.6 -3.9v7.7zM551.9 233.2l6.6 -3.9v7.7zM552 233.3l6.6 -3.9v7.7zM552.2 233.4l6.6 -3.9v7.7zM552.3 233.6l6.6 -3.9v7.7zM552.4 233.7l6.6 -3.9v7.7zM552.5 233.8l6.6 -3.9v7.7zM414.5 101.5l6 -3.5v7zM416.7 102.8l6 -3.5v7zM418.7 104l6 -3.5v7zM420.6 105.2l6 -3.5v7.1zM422.5 106.4l6.1 -3.5v7.1zM424.3 107.6l6.1 -3.5v7.1zM426 108.7l6.1 -3.5v7.1zM427.7 109.9l6.1 -3.6v7.1zM429.3 111l6.1 -3.6v7.1zM430.8 112.2l6.1 -3.6v7.1zM432.3 113.3l6.1 -3.6v7.1zM433.8 114.4l6.1 -3.6v7.1zM435.2 115.4l6.1 -3.6v7.2zM436.6 116.5l6.1 -3.6v7.2zM437.9 117.5l6.1 -3.6v7.2zM439.2 118.5l6.2 -3.6v7.2zM440.5 119.4l6.2 -3.6v7.2zM441.7 120.4l6.2 -3.6v7.2zM442.9 121.4l6.2 -3.6v7.2zM444.1 122.3l6.2 -3.6v7.2zM445.2 123.3l6.2 -3.6v7.2zM446.3 124.2l6.2 -3.6v7.2zM447.4 125.1l6.2 -3.6v7.2zM448.5 126l6.2 -3.6v7.2zM449.5 126.9l6.2 -3.6v7.2zM450.5 127.8l6.2 -3.6v7.3zM451.5 128.6l6.2 -3.6v7.3zM452.5 129.5l6.2 -3.6v7.3zM453.5 130.4l6.2 -3.6v7.3zM454.4 131.2l6.2 -3.6v7.3zM455.3 132l6.2 -3.6v7.3zM456.2 132.8l6.2 -3.6v7.3zM457.1 133.6l6.3 -3.6v7.3zM458 134.5l6.3 -3.7v7.3zM458.8 135.3l6.3 -3.7v7.3zM459.7 136.1l6.3 -3.7v7.3zM460.5 136.9l6.3 -3.7v7.3zM461.3 137.7l6.3 -3.7v7.3zM462.1 138.5l6.3 -3.7v7.3zM462.9 139.3l6.3 -3.7v7.3zM463.6 140l6.3 -3.7v7.3zM464.4 140.8l6.3 -3.7v7.3zM465.1 141.5l6.3 -3.7v7.3zM465.9 142.3l6.3 -3.7v7.4zM466.6 143l6.3 -3.7v7.4zM467.3 143.8l6.3 -3.7v7.4zM468 144.5l6.3 -3.7v7.4zM468.7 145.3l6.3 -3.7v7.4zM469.4 146l6.3 -3.7v7.4zM470.1 146.7l6.3 -3.7v7.4zM470.7 147.5l6.3 -3.7v7.4zM471.4 148.2l6.3 -3.7v7.4zM472 148.9l6.3 -3.7v7.4zM472.6 149.6l6.3 -3.7v7.4zM473.3 150.3l6.3 -3.7v7.4zM473.9 151l6.3 -3.7v7.4zM474.5 151.7l6.4 -3.7v7.4zM475.1 152.4l6.4 -3.7v7.4zM475.7 153.1l6.4 -3.7v7.4zM476.3 153.7l6.4 -3.7v7.4zM476.9 154.3l6.4 -3.7v7.4zM477.4 155l6.4 -3.7v7.4zM478 155.6l6.4 -3.7v7.4zM478.6 156.2l6.4 -3.7v7.4zM479.1 156.8l6.4 -3.7v7.4zM479.7 157.4l6.4 -3.7v7.4zM480.2 157.9l6.4 -3.7v7.4zM480.7 158.5l6.4 -3.7v7.5zM481.3 159l6.4 -3.7v7.5zM481.8 159.6l6.4 -3.7v7.5zM482.3 160.1l6.4 -3.7v7.5zM482.8 160.6l6.4 -3.7v7.5zM483.3 161.1l6.4 -3.7v7.5zM483.8 161.6l6.4 -3.7v7.5zM484.3 162.1l6.4 -3.7v7.5zM484.8 162.5l6.4 -3.7v7.5zM485.3 163.1l6.4 -3.7v7.5zM485.8 163.6l6.4 -3.7v7.5zM486.3 164.2l6.4 -3.7v7.5zM486.7 164.7l6.4 -3.7v7.5zM487.2 165.2l6.4 -3.7v7.5zM487.7 165.7l6.4 -3.7v7.5zM488.1 166.2l6.4 -3.7v7.5zM488.6 166.7l6.4 -3.8v7.5zM489 167.1l6.4 -3.8v7.5zM489.5 167.6l6.4 -3.8v7.5zM489.9 168.1l6.4 -3.8v7.5zM490.4 168.5l6.4 -3.8v7.5zM490.8 169l6.4 -3.8v7.5zM491.2 169.4l6.4 -3.8v7.5zM491.6 169.9l6.4 -3.8v7.5zM492.1 170.3l6.4 -3.8v7.5zM492.5 170.7l6.5 -3.8v7.5zM492.9 171.1l6.5 -3.8v7.5zM493.3 171.5l6.5 -3.8v7.5zM493.7 172l6.5 -3.8v7.5zM494.1 172.4l6.5 -3.8v7.5zM494.5 172.8l6.5 -3.8v7.5zM494.9 173.2l6.5 -3.8v7.5zM495.3 173.6l6.5 -3.8v7.5zM495.7 174l6.5 -3.8v7.5zM496.1 174.3l6.5 -3.8v7.5zM496.5 174.7l6.5 -3.8v7.6zM496.8 175.1l6.5 -3.8v7.6zM497.2 175.5l6.5 -3.8v7.6zM497.6 175.9l6.5 -3.8v7.6zM498 176.3l6.5 -3.8v7.6zM498.3 176.6l6.5 -3.8v7.6zM498.7 177l6.5 -3.8v7.6zM499.1 177.4l6.5 -3.8v7.6zM499.4 177.7l6.5 -3.8v7.6zM499.8 178.1l6.5 -3.8v7.6zM500.1 178.5l6.5 -3.8v7.6zM500.5 178.8l6.5 -3.8v7.6zM500.9 179.2l6.5 -3.8v7.6zM501.2 179.6l6.5 -3.8v7.6zM501.5 179.9l6.5 -3.8v7.6zM501.9 180.3l6.5 -3.8v7.6zM502.2 180.7l6.5 -3.8v7.6zM502.6 181l6.5 -3.8v7.6zM502.9 181.4l6.5 -3.8v7.6zM503.2 181.7l6.5 -3.8v7.6zM503.6 182.1l6.5 -3.8v7.6zM503.9 182.5l6.5 -3.8v7.6zM504.2 182.8l6.5 -3.8v7.6zM504.5 183.2l6.5 -3.8v7.6zM504.9 183.5l6.5 -3.8v7.6zM505.2 183.9l6.5 -3.8v7.6zM505.5 184.2l6.5 -3.8v7.6zM505.8 184.6l6.5 -3.8v7.6zM506.1 184.9l6.5 -3.8v7.6zM506.4 185.2l6.5 -3.8v7.6zM506.8 185.5l6.5 -3.8v7.6zM507.1 185.8l6.5 -3.8v7.6zM507.4 186.1l6.5 -3.8v7.6zM507.7 186.4l6.5 -3.8v7.6zM508 186.7l6.5 -3.8v7.6zM508.3 187l6.5 -3.8v7.6zM508.6 187.3l6.5 -3.8v7.6zM508.9 187.6l6.5 -3.8v7.6zM509.2 187.9l6.5 -3.8v7.6zM509.5 188.2l6.5 -3.8v7.6zM509.7 188.5l6.5 -3.8v7.6zM510 188.8l6.5 -3.8v7.6zM510.3 189.1l6.5 -3.8v7.6zM510.6 189.4l6.6 -3.8v7.6zM510.9 189.7l6.6 -3.8v7.6zM511.2 190l6.6 -3.8v7.6zM511.5 190.3l6.6 -3.8v7.6zM511.7 190.6l6.6 -3.8v7.7zM512 190.9l6.6 -3.8v7.7zM512.3 191.1l6.6 -3.8v7.7zM512.6 191.4l6.6 -3.8v7.7zM512.8 191.7l6.6 -3.8v7.7zM513.1 192l6.6 -3.8v7.7zM513.4 192.3l6.6 -3.8v7.7zM513.6 192.6l6.6 -3.8v7.7zM513.9 192.9l6.6 -3.8v7.7zM514.2 193.2l6.6 -3.8v7.7zM514.4 193.4l6.6 -3.8v7.7zM514.7 193.7l6.6 -3.8v7.7zM515 194l6.6 -3.8v7.7zM515.2 194.3l6.6 -3.8v7.7zM515.5 194.6l6.6 -3.8v7.7zM515.7 194.9l6.6 -3.8v7.7zM516 195.1l6.6 -3.8v7.7zM516.2 195.4l6.6 -3.8v7.7zM516.5 195.7l6.6 -3.8v7.7zM516.7 196l6.6 -3.8v7.7zM517 196.2l6.6 -3.8v7.7zM517.2 196.5l6.6 -3.8v7.7zM517.5 196.8l6.6 -3.8v7.7zM517.7 197l6.6 -3.8v7.7zM518 197.3l6.6 -3.8v7.7zM518.2 197.6l6.6 -3.8v7.7zM518.5 197.8l6.6 -3.8v7.7zM518.7 198.1l6.6 -3.8v7.7zM519 198.4l6.6 -3.8v7.7zM519.2 198.6l6.6 -3.8v7.7zM519.4 198.9l6.6 -3.9v7.7zM519.7 199.2l6.6 -3.9v7.7zM519.9 199.4l6.6 -3.9v7.7zM520.1 199.7l6.6 -3.9v7.7zM520.4 199.9l6.6 -3.9v7.7zM520.6 200.2l6.6 -3.9v7.7zM520.8 200.4l6.6 -3.9v7.7zM521.1 200.7l6.6 -3.9v7.7zM521.3 200.9l6.6 -3.9v7.7zM521.5 201.2l6.6 -3.9v7.7zM521.7 201.4l6.6 -3.9v7.7zM522 201.7l6.6 -3.9v7.7zM522.2 201.9l6.6 -3.9v7.7zM522.4 202.2l6.6 -3.9v7.7zM522.6 202.4l6.6 -3.9v7.7zM522.9 202.6l6.6 -3.9v7.7zM523.1 202.9l6.6 -3.9v7.7zM523.3 203.1l6.6 -3.9v7.7zM523.5 203.4l6.6 -3.9v7.7zM523.7 203.6l6.6 -3.9v7.7zM524 203.8l6.6 -3.9v7.7zM524.2 204.1l6.6 -3.9v7.7zM524.4 204.3l6.6 -3.9v7.7zM524.6 204.6l6.6 -3.9v7.7zM524.8 204.8l6.6 -3.9v7.7zM525 205l6.6 -3.9v7.7zM525.2 205.3l6.6 -3.9v7.7zM525.5 205.5l6.6 -3.9v7.7zM525.7 205.7l6.6 -3.9v7.7zM525.9 206l6.6 -3.9v7.7zM526.1 206.2l6.6 -3.9v7.7zM526.3 206.4l6.6 -3.9v7.7zM526.5 206.7l6.6 -3.9v7.7zM526.7 206.9l6.6 -3.9v7.7zM526.9 207.1l6.6 -3.9v7.7zM527.1 207.3l6.6 -3.9v7.7zM527.3 207.6l6.6 -3.9v7.7zM527.5 207.8l6.6 -3.9v7.7zM527.7 208l6.6 -3.9v7.7zM527.9 208.2l6.6 -3.9v7.7zM528.1 208.4l6.6 -3.9v7.7zM528.3 208.7l6.6 -3.9v7.7zM528.5 208.9l6.6 -3.9v7.7zM528.7 209.1l6.6 -3.9v7.7zM528.9 209.3l6.6 -3.9v7.7zM529.1 209.5l6.6 -3.9v7.7zM529.3 209.8l6.6 -3.9v7.7zM529.5 210l6.6 -3.9v7.7zM529.7 210.2l6.6 -3.9v7.7zM529.9 210.4l6.6 -3.9v7.7zM530 210.6l6.6 -3.9v7.7zM530.2 210.8l6.6 -3.9v7.7zM530.4 211l6.6 -3.9v7.7zM530.6 211.3l6.6 -3.9v7.7zM530.8 211.5l6.6 -3.9v7.7zM531 211.7l6.6 -3.9v7.7zM531.2 211.9l6.6 -3.9v7.7zM531.4 212.1l6.6 -3.9v7.7zM531.5 212.3l6.6 -3.9v7.7zM531.7 212.5l6.6 -3.9v7.7zM531.9 212.7l6.6 -3.9v7.7zM532.1 212.9l6.6 -3.9v7.7zM532.3 213.1l6.6 -3.9v7.7zM532.5 213.3l6.6 -3.9v7.7zM532.6 213.5l6.6 -3.9v7.7zM532.8 213.7l6.6 -3.9v7.7zM533 213.9l6.6 -3.9v7.7zM533.2 214.1l6.6 -3.9v7.7zM533.4 214.3l6.6 -3.9v7.7zM533.5 214.5l6.6 -3.9v7.7zM533.7 214.7l6.6 -3.9v7.7zM533.9 214.9l6.6 -3.9v7.7zM534.1 215.1l6.6 -3.9v7.7zM534.2 215.3l6.6 -3.9v7.7zM534.4 215.5l6.6 -3.9v7.7zM534.6 215.7l6.6 -3.9v7.7zM534.8 215.9l6.6 -3.9v7.7zM534.9 216.1l6.6 -3.9v7.7zM535.1 216.3l6.6 -3.9v7.7zM535.3 216.5l6.6 -3.9v7.7zM535.5 216.7l6.6 -3.9v7.7zM535.6 216.9l6.6 -3.9v7.7zM535.8 217.1l6.6 -3.9v7.7zM536 217.3l6.6 -3.9v7.7zM536.1 217.5l6.6 -3.9v7.7zM536.3 217.7l6.6 -3.9v7.7zM536.5 217.8l6.6 -3.9v7.7zM536.6 218l6.6 -3.9v7.7zM536.8 218.2l6.6 -3.9v7.7zM537 218.4l6.6 -3.9v7.7zM537.1 218.6l6.6 -3.9v7.7zM537.3 218.8l6.6 -3.9v7.7zM537.5 219l6.6 -3.9v7.7zM537.6 219.2l6.6 -3.9v7.7zM537.8 219.3l6.6 -3.9v7.7zM537.9 219.5l6.6 -3.9v7.7zM538.1 219.7l6.6 -3.9v7.7zM538.3 219.9l6.6 -3.9v7.7zM538.4 220.1l6.6 -3.9v7.7zM538.6 220.3l6.6 -3.9v7.7zM538.7 220.4l6.6 -3.9v7.7zM538.9 220.6l6.6 -3.9v7.7zM539.1 220.8l6.6 -3.9v7.7zM539.2 221l6.6 -3.9v7.7zM539.4 221.1l6.6 -3.9v7.7zM539.5 221.3l6.6 -3.9v7.7zM539.7 221.5l6.6 -3.9v7.7zM539.8 221.7l6.6 -3.9v7.7zM540 221.9l6.6 -3.9v7.7zM540.2 222l6.6 -3.9v7.7zM540.3 222.2l6.6 -3.9v7.7zM540.5 222.4l6.6 -3.9v7.7zM540.6 222.6l6.6 -3.9v7.7zM540.8 222.7l6.6 -3.9v7.7zM540.9 222.9l6.6 -3.9v7.7zM541.1 223.1l6.6 -3.9v7.7zM541.2 223.2l6.6 -3.9v7.7zM541.4 223.4l6.6 -3.9v7.7zM541.5 223.6l6.6 -3.9v7.7zM541.7 223.8l6.6 -3.9v7.7zM541.8 223.9l6.6 -3.9v7.7zM542 224.1l6.6 -3.9v7.7zM542.1 224.3l6.6 -3.9v7.7zM542.3 224.4l6.6 -3.9v7.7zM542.4 224.6l6.6 -3.9v7.7zM542.6 224.8l6.6 -3.9v7.7zM542.7 224.9l6.6 -3.9v7.7zM542.9 225.1l6.6 -3.9v7.7zM543 225.3l6.6 -3.9v7.7zM543.2 225.4l6.6 -3.9v7.7zM543.3 225.6l6.6 -3.9v7.7zM543.4 225.7l6.6 -3.9v7.7zM543.6 225.9l6.6 -3.9v7.7zM543.7 226.1l6.6 -3.9v7.7zM543.9 226.2l6.6 -3.9v7.7zM544 226.4l6.6 -3.9v7.7zM544.2 226.6l6.6 -3.9v7.7zM544.3 226.7l6.6 -3.9v7.7zM544.4 226.9l6.6 -3.9v7.7zM544.6 227l6.6 -3.9v7.7zM544.7 227.2l6.6 -3.9v7.7zM544.9 227.3l6.6 -3.9v7.7zM545 227.5l6.6 -3.9v7.7zM545.1 227.7l6.6 -3.9v7.7zM545.3 227.8l6.6 -3.9v7.7zM545.4 228l6.6 -3.9v7.7zM545.6 228.1l6.6 -3.9v7.7zM545.7 228.3l6.6 -3.9v7.7zM545.8 228.4l6.6 -3.9v7.7zM546 228.6l6.6 -3.9v7.7zM546.1 228.7l6.6 -3.9v7.7zM546.3 228.9l6.6 -3.9v7.7zM546.4 229l6.6 -3.9v7.7zM546.5 229.2l6.6 -3.9v7.7zM546.7 229.4l6.6 -3.9v7.7zM546.8 229.5l6.6 -3.9v7.7zM546.9 229.7l6.6 -3.9v7.7zM547.1 229.8l6.6 -3.9v7.7zM547.2 230l6.6 -3.9v7.7zM547.3 230.1l6.6 -3.9v7.7zM547.5 230.2l6.6 -3.9v7.7zM547.6 230.4l6.6 -3.9v7.7zM547.7 230.5l6.6 -3.9v7.7zM547.9 230.7l6.6 -3.9v7.7zM548 230.8l6.6 -3.9v7.7zM548.1 231l6.6 -3.9v7.7zM548.3 231.1l6.6 -3.9v7.7zM548.4 231.3l6.6 -3.9v7.7zM548.5 231.4l6.6 -3.9v7.7zM548.6 231.6l6.6 -3.9v7.7zM548.8 231.7l6.6 -3.9v7.7zM548.9 231.9l6.6 -3.9v7.7zM549 232l6.6 -3.9v7.7zM549.2 232.1l6.6 -3.9v7.7zM549.3 232.3l6.6 -3.9v7.7zM549.4 232.4l6.6 -3.9v7.7zM549.5 232.6l6.6 -3.9v7.7zM549.7 232.7l6.6 -3.9v7.7zM549.8 232.8l6.6 -3.9v7.7zM549.9 233l6.6 -3.9v7.7zM550.1 233.1l6.6 -3.9v7.7zM550.2 233.3l6.6 -3.9v7.7zM550.3 233.4l6.6 -3.9v7.7zM550.4 233.5l6.6 -3.9v7.7zM550.6 233.7l6.6 -3.9v7.7zM550.7 233.8l6.6 -3.9v7.7zM550.8 233.9l6.6 -3.9v7.7zM550.9 234.1l6.6 -3.9v7.7zM551.1 234.2l6.6 -3.9v7.7zM551.2 234.4l6.6 -3.9v7.7zM551.3 234.5l6.6 -3.9v7.7zM551.4 234.6l6.6 -3.9v7.7zM551.5 234.8l6.6 -3.9v7.7zM551.7 234.9l6.6 -3.9v7.7zM551.8 235l6.6 -3.9v7.7zM551.9 235.2l6.6 -3.9v7.7zM552 235.3l6.6 -3.9v7.7zM552.2 235.4l6.6 -3.9v7.7zM552.3 235.6l6.6 -3.9v7.7zM552.4 235.7l6.6 -3.9v7.7zM552.5 235.8l6.6 -3.9v7.7z" fill="#000080"/>

<path d="M190.6 60.9 193.9 61.0 197.1 61.2 200.0 61.3 202.7 61.4 205.3 61.5 207.7 61.5 210.0 61.6 212.2 61.7 214.3 61.7 216.3 61.8 218.2 61.8 220.0 61.9 221.7 61.9 223.4 61.9 225.0 62.0 226.6 62.0 228.1 62.1 229.5 62.1 230.9 62.2 232.3 62.4 233.6 62.6 234.8 62.7 236.1 62.9 237.3 63.0 238.4 63.2 239.6 63.3 240.7 63.5 241.8 63.6 242.8 63.8 243.9 63.9 244.9 64.0 245.8 64.2 246.8 64.3 247.7 64.4 248.7 64.5 249.6 64.6 250.4 64.8 251.3 64.9 252.2 65.0 253.0 65.1 253.8 65.2 254.6 65.3 255.4 65.4 256.2 65.5 256.9 65.6 257.7 65.7 258.4 65.8 259.1 65.9 259.8 66.0 260.5 66.1 261.2 66.2 261.9 66.3 262.6 66.4 263.2 66.4 263.9 66.5 264.5 66.6 265.1 66.7 265.8 66.7 266.4 66.8 267.0 66.9 267.6 67.0 268.1 67.0 268.7 67.1 269.3 67.2 269.9 67.3 270.4 67.3 271.0 67.4 271.5 67.5 272.0 67.5 272.6 67.6 273.1 67.7 273.6 67.7 274.1 67.8 274.6 67.9 275.1 67.9 275.6 68.0 276.1 68.1 276.6 68.1 277.1 68.2 277.6 68.2 278.0 68.3 278.5 68.4 278.9 68.4 279.4 68.5 279.8 68.5 280.3 68.6 280.7 68.7 281.2 68.7 281.6 68.8 282.0 68.8 282.4 68.9 282.9 68.9 286.9 67.6 290.5 67.8 293.9 68.1 297.0 68.3 300.0 68.5 302.7 68.7 305.3 68.9 307.8 69.1 310.1 69.3 312.3 69.5 314.5 69.7 316.5 69.9 318.4 70.1 320.3 70.2 322.0 70.4 323.8 70.6 325.4 70.8 327.0 71.0 328.5 71.1 330.0 71.3 331.5 71.5 332.9 71.7 334.2 71.9 335.5 72.2 336.8 72.4 338.1 72.6 339.3 72.9 340.5 73.1 341.6 73.3 342.7 73.6 343.8 73.8 344.9 74.1 346.0 74.3 347.0 74.5 348.0 74.7 349.0 75.0 349.9 75.2 350.9 75.4 351.8 75.6 352.7 75.9 353.6 76.1 354.4 76.3 355.3 76.5 356.1 76.7 357.0 77.0 357.8 77.2 358.6 77.4 359.3 77.6 360.1 77.8 360.9 78.0 361.6 78.3 362.3 78.5 363.1 78.7 363.8 78.9 364.5 79.1 365.2 79.3 365.8 79.6 366.5 79.8 367.2 80.0 367.8 80.2 368.5 80.5 369.1 80.7 369.7 80.9 370.3 81.2 370.9 81.4 371.5 81.6 372.1 81.9 372.7 82.1 373.3 82.3 373.9 82.5 374.4 82.8 375.0 83.0 375.5 83.2 376.1 83.4 376.6 83.6 377.1 83.8 377.7 84.0 378.2 84.3 378.7 84.5 379.2 84.7 379.7 84.9 380.2 85.1 380.7 85.3 381.2 85.5 381.7 85.7 382.1 85.8 382.6 86.0 383.1 86.2 383.5 86.4 384.0 86.6 388.4 88.5 392.3 90.2 396.0 91.9 399.4 93.6 402.6 95.0 405.5 96.2 408.3 97.5 411.0 98.7 413.5 99.9 415.9 101.0 418.1 102.1 420.3 103.1 422.3 104.2 424.3 105.2 426.2 106.2 428.0 107.3 429.8 108.3 431.5 109.3 433.1 110.3 434.7 111.3 436.2 112.3 437.7 113.2 439.1 114.2 440.5 115.2 441.9 116.2 443.2 117.3 444.5 118.3 445.7 119.3 447.0 120.3 448.2 121.3 449.3 122.3 450.4 123.3 451.5 124.2 452.6 125.2 453.7 126.1 454.7 127.0 455.7 127.9 456.7 128.8 457.7 129.7 458.6 130.6 459.6 131.4 460.5 132.3 461.4 133.1 462.3 133.9 463.1 134.7 464.0 135.5 464.8 136.3 465.6 137.1 466.4 137.9 467.2 138.7 468.0 139.4 468.8 140.2 469.5 140.9 470.3 141.7 471.0 142.4 471.7 143.2 472.4 143.9 473.1 144.6 473.8 145.4 474.5 146.1 475.2 146.8 475.8 147.6 476.5 148.3 477.1 149.0 477.8 149.7 478.4 150.3 479.0 151.0 479.6 151.7 480.2 152.3 480.8 153.0 481.4 153.6 482.0 154.2 482.6 154.8 483.1 155.4 483.7 156.0 484.3 156.6 484.8 157.2 485.3 157.7 485.9 158.3 486.4 158.8 486.9 159.3 487.5 159.8 488.0 160.3 488.5 160.8 489.0 161.3 489.5 161.9 490.0 162.4 490.5 162.9 490.9 163.3 491.4 163.8 491.9 164.3 492.4 164.7 492.8 165.2 493.3 165.6 493.7 166.1 494.2 166.5 494.6 166.9 495.1 167.4 495.5 167.8 495.9 168.2 496.4 168.6 496.8 169.0 497.2 169.4 497.6 169.8 498.1 170.2 498.5 170.6 498.9 170.9 499.3 171.3 499.7 171.7 500.1 172.1 500.5 172.4 500.9 172.8 501.3 173.2 501.7 173.5 502.0 173.9 502.4 174.2 502.8 174.6 503.2 175.0 503.5 175.3 503.9 175.7 504.3 176.0 504.6 176.4 505.0 176.7 505.3 177.1 505.7 177.4 506.1 177.8 506.4 178.1 506.8 178.5 507.1 178.8 507.4 179.2 507.8 179.5 508.1 179.9 508.5 180.2 508.8 180.6 509.1 180.9 509.4 181.3 509.8 181.6 510.1 182.0 510.4 182.3 510.7 182.7 511.0 183.0 511.4 183.3 511.7 183.7 512.0 184.0 512.3 184.4 512.6 184.7 512.9 185.1 513.2 185.4 513.5 185.7 513.8 186.1 514.1 186.4 514.4 186.8 514.7 187.1 515.0 187.4 515.3 187.8 515.6 188.1 515.9 188.4 516.1 188.8 516.4 189.1 516.7 189.4 517.0 189.8 517.3 190.1 517.6 190.4 517.8 190.7 518.1 191.1 518.4 191.4 518.6 191.7 518.9 192.0 519.2 192.3 519.5 192.7 519.7 193.0 520.0 193.3 520.2 193.6 520.5 193.9 520.8 194.2 521.0 194.5 521.3 194.8 521.5 195.1 521.8 195.4 522.0 195.7 522.3 196.0 522.5 196.3 522.8 196.6 523.0 196.9 523.3 197.2 523.5 197.5 523.8 197.8 524.0 198.1 524.3 198.3 524.5 198.6" fill="none" stroke="#8000ff" stroke-width="1"/>
<path d="M193.6 60.9l-6 -3.5v7zM196.9 61l-6 -3.5v7zM200.1 61.2l-6 -3.5v7zM203 61.3l-6 -3.5v7zM205.7 61.4l-6 -3.5v7zM208.3 61.5l-6 -3.5v7zM210.7 61.5l-6 -3.5v7zM213 61.6l-6 -3.5v7zM215.2 61.7l-6 -3.5v7zM217.3 61.7l-6 -3.5v7zM219.3 61.8l-6 -3.5v7zM221.2 61.8l-6 -3.5v7zM223 61.9l-6 -3.5v7zM224.7 61.9l-6 -3.5v7zM226.4 61.9l-6 -3.5v7zM228 62l-6 -3.5v7zM229.6 62l-6 -3.5v7zM231.1 62.1l-6 -3.5v7zM232.5 62.1l-6 -3.5v7zM233.9 62.2l-6 -3.5v7zM235.3 62.4l-6 -3.5v7zM236.6 62.6l-6 -3.5v7zM237.8 62.7l-6 -3.5v7zM239.1 62.9l-6 -3.5v7zM240.3 63l-6 -3.5v7zM241.4 63.2l-6 -3.5v7zM242.6 63.3l-6 -3.5v7zM243.7 63.5l-6 -3.5v7zM244.8 63.6l-6 -3.5v7zM245.8 63.8l-6 -3.5v7zM246.9 63.9l-6 -3.5v7zM247.9 64l-6 -3.5v7zM248.8 64.2l-6 -3.5v7zM249.8 64.3l-6 -3.5v7zM250.7 64.4l-6 -3.5v7zM251.7 64.5l-6 -3.5v7zM252.6 64.6l-6 -3.5v7zM253.4 64.8l-6 -3.5v7zM254.3 64.9l-6 -3.5v7zM255.2 65l-6 -3.5v7zM256 65.1l-6 -3.5v7zM256.8 65.2l-6 -3.5v7zM257.6 65.3l-6 -3.5v7zM258.4 65.4l-6 -3.5v7zM259.2 65.5l-6 -3.5v7zM259.9 65.6l-6 -3.5v7zM260.7 65.7l-6 -3.5v7zM261.4 65.8l-6 -3.5v7zM262.1 65.9l-6 -3.5v7zM262.8 66l-6 -3.5v7zM263.5 66.1l-6 -3.5v7zM264.2 66.2l-6 -3.5v7zM264.9 66.3l-6 -3.5v7zM265.6 66.4l-6 -3.5v7zM266.2 66.4l-6 -3.5v7zM266.9 66.5l-6 -3.5v7zM267.5 66.6l-6 -3.5v7zM268.1 66.7l-6 -3.5v7zM268.8 66.7l-6 -3.5v7zM269.4 66.8l-6 -3.5v7zM270 66.9l-6 -3.5v7zM270.6 67l-6 -3.5v7zM271.1 67l-6 -3.5v7zM271.7 67.1l-6 -3.5v7zM272.3 67.2l-6 -3.5v7zM272.9 67.3l-6 -3.5v7zM273.4 67.3l-6 -3.5v7zM274 67.4l-6 -3.5v7zM274.5 67.5l-6 -3.5v7zM275 67.5l-6 -3.5v7zM275.6 67.6l-6 -3.5v7zM276.1 67.7l-6 -3.5v7zM276.6 67.7l-6 -3.5v7zM277.1 67.8l-6 -3.5v7zM277.6 67.9l-6 -3.5v7zM278.1 67.9l-6 -3.5v7zM278.6 68l-6 -3.5v7zM279.1 68.1l-6 -3.5v7zM279.6 68.1l-6 -3.5v7zM280.1 68.2l-6 -3.5v7zM280.6 68.2l-6 -3.5v7zM281 68.3l-6 -3.5v7zM281.5 68.4l-6 -3.5v7zM281.9 68.4l-6 -3.5v7zM282.4 68.5l-6 -3.5v7zM282.8 68.5l-6 -3.5v7zM283.3 68.6l-6 -3.5v7zM283.7 68.7l-6 -3.5v7zM284.2 68.7l-6 -3.5v7zM284.6 68.8l-6 -3.5v7zM285 68.8l-6 -3.5v7zM285.4 68.9l-6 -3.5v7zM285.9 68.9l-6 -3.5v7zM289.9 67.6l-6 -3.5v7zM293.5 67.8l-6 -3.5v7zM296.9 68.1l-6 -3.5v7zM300 68.3l-6 -3.5v7zM303 68.5l-6 -3.5v7zM305.7 68.7l-6 -3.5v7zM308.3 68.9l-6 -3.5v7zM310.8 69.1l-6 -3.5v7zM313.1 69.3l-6 -3.5v7zM315.3 69.5l-6 -3.5v7zM317.5 69.7l-6 -3.5v7zM319.5 69.9l-6 -3.5v7zM321.4 70.1l-6 -3.5v7zM323.3 70.2l-6 -3.5v7zM325 70.4l-6 -3.5v7zM326.8 70.6l-6 -3.5v7zM328.4 70.8l-6 -3.5v7zM330 71l-6 -3.5v7zM331.5 71.1l-6 -3.5v7zM333 71.3l-6 -3.5v7zM334.5 71.5l-6 -3.5v7zM335.9 71.7l-6 -3.5v7zM337.2 71.9l-6 -3.5v7zM338.5 72.2l-6 -3.5v7zM339.8 72.4l-6 -3.5v7zM341.1 72.6l-6 -3.5v7zM342.3 72.9l-6 -3.5v7zM343.5 73.1l-6 -3.5v7zM344.6 73.3l-6 -3.5v7zM345.7 73.6l-6 -3.5v7zM346.8 73.8l-6 -3.5v7zM347.9 74.1l-6 -3.5v7zM349 74.3l-6 -3.5v7zM350 74.5l-6 -3.5v7zM351 74.7l-6 -3.5v7zM352 75l-6 -3.5v7zM352.9 75.2l-6 -3.5v7zM353.9 75.4l-6 -3.5v7zM354.8 75.6l-6 -3.5v7zM355.7 75.9l-6 -3.5v7zM356.6 76.1l-6 -3.5v7zM357.4 76.3l-6 -3.5v7zM358.3 76.5l-6 -3.5v7zM359.1 76.7l-6 -3.5v7zM360 77l-6 -3.5v7zM360.8 77.2l-6 -3.5v7zM361.6 77.4l-6 -3.5v7zM362.3 77.6l-6 -3.5v7zM363.1 77.8l-6 -3.5v7zM363.9 78l-6 -3.5v7zM364.6 78.3l-6 -3.5v7zM365.3 78.5l-6 -3.5v7zM366.1 78.7l-6 -3.5v7zM366.8 78.9l-6 -3.5v7zM367.5 79.1l-6 -3.5v7zM368.2 79.3l-6 -3.5v7zM368.8 79.6l-6 -3.5v7zM369.5 79.8l-6 -3.5v7zM370.2 80l-6 -3.5v7zM370.8 80.2l-6 -3.5v7zM371.5 80.5l-6 -3.5v7zM372.1 80.7l-6 -3.5v7zM372.7 80.9l-6 -3.5v7zM373.3 81.2l-6 -3.5v7zM373.9 81.4l-6 -3.5v7zM374.5 81.6l-6 -3.5v7zM375.1 81.9l-6 -3.5v7zM375.7 82.1l-6 -3.5v7zM376.3 82.3l-6 -3.5v7zM376.9 82.5l-6 -3.5v7zM377.4 82.8l-6 -3.5v7zM378 83l-6 -3.5v7zM378.5 83.2l-6 -3.5v7zM379.1 83.4l-6 -3.5v7zM379.6 83.6l-6 -3.5v7zM380.1 83.8l-6 -3.5v7zM380.7 84l-6 -3.5v7zM381.2 84.3l-6 -3.5v7zM381.7 84.5l-6 -3.5v7zM382.2 84.7l-6 -3.5v7zM382.7 84.9l-6 -3.5v7zM383.2 85.1l-6 -3.5v7zM383.7 85.3l-6 -3.5v7zM384.2 85.5l-6 -3.5v7zM384.7 85.7l-6 -3.5v7zM385.1 85.8l-6 -3.5v7zM385.6 86l-6 -3.5v7zM386.1 86.2l-6 -3.5v7zM386.5 86.4l-6 -3.5v7zM387 86.6l-6 -3.5v7zM391.4 88.5l-6.1 -3.5v7.1zM395.4 90.2l-6.1 -3.6v7.1zM399.1 91.9l-6.2 -3.6v7.2zM402.5 93.6l-6.2 -3.6v7.3zM405.7 95l-6.3 -3.7v7.3zM408.7 96.2l-6.3 -3.7v7.4zM411.5 97.5l-6.3 -3.7v7.4zM414.2 98.7l-6.4 -3.7v7.4zM416.7 99.9l-6.4 -3.7v7.5zM419.1 101l-6.5 -3.8v7.5zM421.4 102.1l-6.5 -3.8v7.6zM423.5 103.1l-6.5 -3.8v7.6zM425.6 104.2l-6.5 -3.8v7.6zM427.6 105.2l-6.6 -3.8v7.7zM429.5 106.2l-6.6 -3.8v7.7zM431.3 107.3l-6.6 -3.9v7.7zM433.1 108.3l-6.6 -3.9v7.8zM434.8 109.3l-6.7 -3.9v7.8zM436.5 110.3l-6.7 -3.9v7.8zM438.1 111.3l-6.7 -3.9v7.8zM439.6 112.3l-6.7 -3.9v7.9zM441.1 113.2l-6.8 -3.9v7.9zM442.5 114.2l-6.8 -4v7.9zM443.9 115.2l-6.8 -4v7.9zM445.3 116.2l-6.8 -4v8zM446.6 117.3l-6.8 -4v8zM447.9 118.3l-6.9 -4v8zM449.2 119.3l-6.9 -4v8zM450.4 120.3l-6.9 -4v8zM451.6 121.3l-6.9 -4v8.1zM452.8 122.3l-6.9 -4v8.1zM453.9 123.3l-6.9 -4v8.1zM455 124.2l-7 -4.1v8.1zM456.1 125.2l-7 -4.1v8.1zM457.2 126.1l-7 -4.1v8.1zM458.2 127l-7 -4.1v8.2zM459.2 127.9l-7 -4.1v8.2zM460.2 128.8l-7 -4.1v8.2zM461.2 129.7l-7 -4.1v8.2zM462.2 130.6l-7 -4.1v8.2zM463.1 131.4l-7.1 -4.1v8.2zM464 132.3l-7.1 -4.1v8.3zM464.9 133.1l-7.1 -4.1v8.3zM465.8 133.9l-7.1 -4.1v8.3zM466.7 134.7l-7.1 -4.1v8.3zM467.5 135.5l-7.1 -4.2v8.3zM468.4 136.3l-7.1 -4.2v8.3zM469.2 137.1l-7.1 -4.2v8.3zM470 137.9l-7.2 -4.2v8.3zM470.8 138.7l-7.2 -4.2v8.4zM471.6 139.4l-7.2 -4.2v8.4zM472.4 140.2l-7.2 -4.2v8.4zM473.1 140.9l-7.2 -4.2v8.4zM473.9 141.7l-7.2 -4.2v8.4zM474.6 142.4l-7.2 -4.2v8.4zM475.3 143.2l-7.2 -4.2v8.4zM476.1 143.9l-7.2 -4.2v8.4zM476.8 144.6l-7.2 -4.2v8.5zM477.5 145.4l-7.3 -4.2v8.5zM478.1 146.1l-7.3 -4.2v8.5zM478.8 146.8l-7.3 -4.2v8.5zM479.5 147.6l-7.3 -4.3v8.5zM480.1 148.3l-7.3 -4.3v8.5zM480.8 149l-7.3 -4.3v8.5zM481.4 149.7l-7.3 -4.3v8.5zM482.1 150.3l-7.3 -4.3v8.5zM482.7 151l-7.3 -4.3v8.6zM483.3 151.7l-7.3 -4.3v8.6zM483.9 152.3l-7.3 -4.3v8.6zM484.5 153l-7.4 -4.3v8.6zM485.1 153.6l-7.4 -4.3v8.6zM485.7 154.2l-7.4 -4.3v8.6zM486.3 154.8l-7.4 -4.3v8.6zM486.8 155.4l-7.4 -4.3v8.6zM487.4 156l-7.4 -4.3v8.6zM488 156.6l-7.4 -4.3v8.6zM488.5 157.2l-7.4 -4.3v8.6zM489.1 157.7l-7.4 -4.3v8.7zM489.6 158.3l-7.4 -4.3v8.7zM490.1 158.8l-7.4 -4.3v8.7zM490.7 159.3l-7.4 -4.3v8.7zM491.2 159.8l-7.4 -4.3v8.7zM491.7 160.3l-7.5 -4.3v8.7zM492.2 160.8l-7.5 -4.4v8.7zM492.7 161.3l-7.5 -4.4v8.7zM493.2 161.9l-7.5 -4.4v8.7zM493.7 162.4l-7.5 -4.4v8.7zM494.2 162.9l-7.5 -4.4v8.7zM494.7 163.3l-7.5 -4.4v8.7zM495.2 163.8l-7.5 -4.4v8.8zM495.6 164.3l-7.5 -4.4v8.8zM496.1 164.7l-7.5 -4.4v8.8zM496.6 165.2l-7.5 -4.4v8.8zM497 165.6l-7.5 -4.4v8.8zM497.5 166.1l-7.5 -4.4v8.8zM497.9 166.5l-7.5 -4.4v8.8zM498.4 166.9l-7.5 -4.4v8.8zM498.8 167.4l-7.5 -4.4v8.8zM499.3 167.8l-7.5 -4.4v8.8zM499.7 168.2l-7.5 -4.4v8.8zM500.1 168.6l-7.5 -4.4v8.8zM500.6 169l-7.5 -4.4v8.8zM501 169.4l-7.5 -4.4v8.8zM501.4 169.8l-7.5 -4.4v8.8zM501.8 170.2l-7.5 -4.4v8.8zM502.2 170.6l-7.5 -4.4v8.8zM502.6 170.9l-7.5 -4.4v8.8zM503 171.3l-7.5 -4.4v8.8zM503.4 171.7l-7.5 -4.4v8.8zM503.8 172.1l-7.5 -4.4v8.8zM504.2 172.4l-7.5 -4.4v8.8zM504.6 172.8l-7.5 -4.4v8.8zM505 173.2l-7.5 -4.4v8.8zM505.4 173.5l-7.5 -4.4v8.8zM505.8 173.9l-7.5 -4.4v8.8zM506.2 174.2l-7.5 -4.4v8.8zM506.5 174.6l-7.5 -4.4v8.8zM506.9 175l-7.5 -4.4v8.8zM507.3 175.3l-7.5 -4.4v8.8zM507.7 175.7l-7.5 -4.4v8.8zM508 176l-7.5 -4.4v8.8zM508.4 176.4l-7.5 -4.4v8.8zM508.7 176.7l-7.5 -4.4v8.8zM509.1 177.1l-7.5 -4.4v8.8zM509.5 177.4l-7.5 -4.4v8.8zM509.8 177.8l-7.5 -4.4v8.8zM510.2 178.1l-7.5 -4.4v8.8zM510.5 178.5l-7.5 -4.4v8.8zM510.8 178.8l-7.5 -4.4v8.8zM511.2 179.2l-7.5 -4.4v8.8zM511.5 179.5l-7.5 -4.4v8.8zM511.9 179.9l-7.5 -4.4v8.8zM512.2 180.2l-7.5 -4.4v8.8zM512.5 180.6l-7.5 -4.4v8.8zM512.9 180.9l-7.5 -4.4v8.8zM513.2 181.3l-7.5 -4.4v8.8zM513.5 181.6l-7.5 -4.4v8.8zM513.8 182l-7.5 -4.4v8.8zM514.2 182.3l-7.5 -4.4v8.8zM514.5 182.7l-7.5 -4.4v8.8zM514.8 183l-7.5 -4.4v8.8zM515.1 183.3l-7.5 -4.4v8.8zM515.4 183.7l-7.5 -4.4v8.8zM515.7 184l-7.5 -4.4v8.8zM516 184.4l-7.5 -4.4v8.8zM516.4 184.7l-7.5 -4.4v8.8zM516.7 185.1l-7.5 -4.4v8.8zM517 185.4l-7.5 -4.4v8.8zM517.3 185.7l-7.5 -4.4v8.8zM517.6 186.1l-7.5 -4.4v8.8zM517.9 186.4l-7.5 -4.4v8.8zM518.2 186.8l-7.5 -4.4v8.8zM518.5 187.1l-7.5 -4.4v8.8zM518.7 187.4l-7.5 -4.4v8.8zM519 187.8l-7.5 -4.4v8.8zM519.3 188.1l-7.5 -4.4v8.8zM519.6 188.4l-7.5 -4.4v8.8zM519.9 188.8l-7.5 -4.4v8.8zM520.2 189.1l-7.5 -4.4v8.8zM520.5 189.4l-7.5 -4.4v8.8zM520.7 189.8l-7.5 -4.4v8.8zM521 190.1l-7.5 -4.4v8.8zM521.3 190.4l-7.5 -4.4v8.8zM521.6 190.7l-7.5 -4.4v8.8zM521.9 191.1l-7.5 -4.4v8.8zM522.1 191.4l-7.5 -4.4v8.8zM522.4 191.7l-7.5 -4.4v8.8zM522.7 192l-7.5 -4.4v8.8zM522.9 192.3l-7.5 -4.4v8.8zM523.2 192.7l-7.5 -4.4v8.8zM523.5 193l-7.5 -4.4v8.8zM523.7 193.3l-7.5 -4.4v8.8zM524 193.6l-7.5 -4.4v8.8zM524.3 193.9l-7.5 -4.4v8.8zM524.5 194.2l-7.5 -4.4v8.8zM524.8 194.5l-7.5 -4.4v8.8zM525 194.8l-7.5 -4.4v8.8zM525.3 195.1l-7.5 -4.4v8.8zM525.5 195.4l-7.5 -4.4v8.8zM525.8 195.7l-7.5 -4.4v8.8zM526 196l-7.5 -4.4v8.8zM526.3 196.3l-7.5 -4.4v8.8zM526.5 196.6l-7.5 -4.4v8.8zM526.8 196.9l-7.5 -4.4v8.8zM527 197.2l-7.5 -4.4v8.8zM527.3 197.5l-7.5 -4.4v8.8zM527.5 197.8l-7.5 -4.4v8.8zM527.8 198.1l-7.5 -4.4v8.8zM528 198.3l-7.5 -4.4v8.8zM528.2 198.6l-7.5 -4.4v8.8z" fill="#8000ff"/>

<path d="M151.4 61.6 155.2 61.6 158.8 61.6 162.1 61.6 165.2 61.6 168.1 61.6 170.9 61.6 173.4 61.6 175.9 61.6 178.2 61.7 180.4 61.7 182.4 61.8 184.4 61.8 186.3 61.9 188.1 61.9 189.9 62.0 191.5 62.0 193.2 62.0 194.7 62.1 196.2 62.1 197.6 62.1 199.0 62.1 200.4 62.1 201.7 62.3 203.0 62.4 204.2 62.6 205.4 62.7 206.6 62.8 207.7 62.9 208.8 63.0 209.9 63.1 211.0 63.2 212.0 63.3 213.0 63.4 214.0 63.5 215.0 63.6 215.9 63.7 216.8 63.8 217.7 63.9 218.6 64.0 219.5 64.1 220.3 64.2 221.1 64.2 222.0 64.3 222.8 64.4 223.5 64.5 224.3 64.5 225.1 64.6 225.8 64.7 226.6 64.8 227.3 64.8 228.0 64.9 228.7 65.0 229.4 65.0 230.0 65.1 230.7 65.2 231.4 65.2 232.0 65.3 232.7 65.4 233.3 65.4 233.9 65.5 234.5 65.6 235.1 65.6 235.7 65.7 236.3 65.7 236.9 65.8 237.4 65.9 238.0 65.9 238.6 66.0 239.1 66.0 239.7 66.1 240.2 66.1 240.7 66.2 241.2 66.2 241.8 66.3 242.3 66.3 242.8 66.4 243.3 66.4 243.8 66.5 244.3 66.5 244.7 66.6 245.2 66.6 245.7 66.7 246.2 66.7 246.6 66.8 247.1 66.8 247.5 66.9 248.0 66.9 248.4 67.0 248.9 67.0 249.3 67.1 249.7 67.1 250.2 67.1 250.6 67.2 251.0 67.2 255.0 66.9 258.7 67.0 262.0 67.1 265.2 67.2 268.1 67.3 270.9 67.4 273.5 67.5 275.9 67.6 278.3 67.7 280.5 67.8 282.6 67.9 284.6 68.0 286.6 68.1 288.4 68.2 290.2 68.3 291.9 68.4 293.5 68.5 295.1 68.6 296.7 68.7 298.2 68.8 299.6 69.0 301.0 69.1 302.4 69.2 303.7 69.3 305.0 69.4 306.2 69.5 307.4 69.6 308.6 69.7 309.8 69.8 310.9 69.9 312.0 70.0 313.1 70.1 314.1 70.2 315.1 70.2 316.1 70.3 317.1 70.4 318.1 70.5 319.0 70.6 319.9 70.7 320.8 70.8 321.7 70.9 322.6 71.0 323.4 71.1 324.3 71.1 325.1 71.2 325.9 71.3 326.7 71.4 327.5 71.5 328.3 71.6 329.0 71.7 329.8 71.8 330.5 71.9 331.2 72.0 331.9 72.1 332.6 72.2 333.3 72.3 334.0 72.4 334.6 72.5 335.3 72.6 336.0 72.7 336.6 72.8 337.2 73.0 337.9 73.1 338.5 73.2 339.1 73.3 339.7 73.4 340.3 73.6 340.9 73.7 341.4 73.8 342.0 73.9 342.6 74.1 343.1 74.2 343.7 74.3 344.2 74.4 344.8 74.6 345.3 74.7 345.8 74.8 346.3 75.0 346.8 75.1 347.3 75.2 347.9 75.3 348.3 75.4 348.8 75.6 349.3 75.7 349.8 75.8 350.3 75.9 350.8 76.0 351.2 76.1 351.7 76.3 352.1 76.4 356.5 77.5 360.5 78.7 364.1 79.8 367.5 81.0 370.7 82.2 373.7 83.4 376.5 84.5 379.1 85.6 381.6 86.6 384.0 87.5 386.3 88.3 388.4 89.2 390.5 90.0 392.5 90.8 394.4 91.6 396.2 92.4 397.9 93.2 399.6 94.0 401.3 94.7 402.8 95.5 404.4 96.2 405.9 96.9 407.3 97.6 408.7 98.3 410.0 98.9 411.4 99.6 412.6 100.2 413.9 100.8 415.1 101.5 416.3 102.1 417.5 102.7 418.6 103.3 419.7 103.8 420.8 104.4 421.8 105.1 422.9 105.7 423.9 106.3 424.9 106.9 425.8 107.5 426.8 108.1 427.7 108.7 428.6 109.3 429.5 109.9 430.4 110.5 431.3 111.1 432.1 111.7 433.0 112.2 433.8 112.8 434.6 113.4 435.4 114.0 436.1 114.5 436.9 115.1 437.7 115.6 438.4 116.2 439.1 116.7 439.9 117.3 440.6 117.8 441.3 118.3 442.0 118.9 442.7 119.4 443.3 119.9 444.0 120.5 444.6 121.0 445.3 121.5 445.9 122.1 446.5 122.6 447.2 123.2 447.8 123.7 448.4 124.2 449.0 124.8 449.6 125.3 450.1 125.8 450.7 126.3 451.3 126.8 451.8 127.3 452.4 127.8 452.9 128.4 453.5 128.9 454.0 129.3 454.6 129.8 455.1 130.3 455.6 130.8 456.1 131.3 456.6 131.8 457.1 132.3 457.6 132.7 458.1 133.2 458.6 133.7 459.1 134.1 459.6 134.6 460.0 135.0 460.5 135.5 461.0 135.9 461.4 136.3 461.9 136.8 462.3 137.2 462.8 137.6 463.2 138.0 463.7 138.4 464.1 138.9 464.5 139.3 464.9 139.7 465.4 140.1 465.8 140.5 466.2 140.9 466.6 141.3 467.0 141.7 467.4 142.1 467.8 142.4 468.2 142.8 468.6 143.2 469.0 143.6 469.4 144.0 469.8 144.4 470.2 144.8 470.6 145.2 470.9 145.5 471.3 145.9 471.7 146.3 472.0 146.7 472.4 147.1 472.8 147.5 473.1 147.8 473.5 148.2 473.8 148.6 474.2 149.0 474.6 149.4 474.9 149.7 475.2 150.1 475.6 150.5 475.9 150.8 476.3 151.2 476.6 151.6 476.9 151.9 477.3 152.3 477.6 152.7 477.9 153.0 478.2 153.4 478.6 153.7 478.9 154.1 479.2 154.4 479.5 154.8 479.8 155.1 480.1 155.4 480.4 155.8 480.8 156.1 481.1 156.4 481.4 156.8 481.7 157.1 482.0 157.4 482.3 157.7 482.6 158.0 482.9 158.3 483.1 158.6 483.4 159.0 483.7 159.3 484.0 159.6 484.3 159.8 484.6 160.1 484.9 160.4 485.1 160.7 485.4 161.0 485.7 161.3 486.0 161.5 486.2 161.8 486.5 162.1 486.8 162.3 487.1 162.6 487.3 162.9 487.6 163.1 487.9 163.4 488.1 163.6 488.4 163.9 488.6 164.1 488.9 164.3 489.2 164.6 489.4 164.8 489.7 165.0 489.9 165.3 490.2 165.5 490.4 165.7 490.7 165.9 490.9 166.2 491.2 166.4 491.4 166.6 491.7 166.8 491.9 167.0 492.2 167.2 492.4 167.4 492.6 167.6" fill="none" stroke="#800080" stroke-width="1"/>
<path d="M151.4 58.1l3.1 1.8v3.6l-3.1 1.8l-3.1 -1.8v-3.6zM155.2 58l3.1 1.8v3.6l-3.1 1.8l-3.1 -1.8v-3.6zM158.8 58.1l3.1 1.8v3.6l-3.1 1.8l-3.1 -1.8v-3.6zM162.1 58.1l3.1 1.8v3.6l-3.1 1.8l-3.1 -1.8v-3.6zM165.2 58.1l3.1 1.8v3.6l-3.1 1.8l-3.1 -1.8v-3.6zM168.1 58.1l3.1 1.8v3.6l-3.1 1.8l-3.1 -1.8v-3.6zM170.9 58l3.1 1.8v3.6l-3.1 1.8l-3.1 -1.8v-3.6zM173.4 58l3.1 1.8v3.6l-3.1 1.8l-3.1 -1.8v-3.6zM175.9 58l3.1 1.8v3.6l-3.1 1.8l-3.1 -1.8v-3.6zM178.2 58.1l3.1 1.8v3.6l-3.1 1.8l-3.1 -1.8v-3.6zM180.4 58.2l3.1 1.8v3.6l-3.1 1.8l-3.1 -1.8v-3.6zM182.4 58.2l3.1 1.8v3.6l-3.1 1.8l-3.1 -1.8v-3.6zM184.4 58.3l3.1 1.8v3.6l-3.1 1.8l-3.1 -1.8v-3.6zM186.3 58.3l3.1 1.8v3.6l-3.1 1.8l-3.1 -1.8v-3.6zM188.1 58.4l3.1 1.8v3.6l-3.1 1.8l-3.1 -1.8v-3.6zM189.9 58.4l3.1 1.8v3.6l-3.1 1.8l-3.1 -1.8v-3.6zM191.5 58.4l3.1 1.8v3.6l-3.1 1.8l-3.1 -1.8v-3.6zM193.2 58.5l3.1 1.8v3.6l-3.1 1.8l-3.1 -1.8v-3.6zM194.7 58.5l3.1 1.8v3.6l-3.1 1.8l-3.1 -1.8v-3.6zM196.2 58.5l3.1 1.8v3.6l-3.1 1.8l-3.1 -1.8v-3.6zM197.6 58.5l3.1 1.8v3.6l-3.1 1.8l-3.1 -1.8v-3.6zM199 58.5l3.1 1.8v3.6l-3.1 1.8l-3.1 -1.8v-3.6zM200.4 58.6l3.1 1.8v3.6l-3.1 1.8l-3.1 -1.8v-3.6zM201.7 58.7l3.1 1.8v3.6l-3.1 1.8l-3.1 -1.8v-3.6zM203 58.9l3.1 1.8v3.6l-3.1 1.8l-3.1 -1.8v-3.6zM204.2 59l3.1 1.8v3.6l-3.1 1.8l-3.1 -1.8v-3.6zM205.4 59.1l3.1 1.8v3.6l-3.1 1.8l-3.1 -1.8v-3.6zM206.6 59.2l3.1 1.8v3.6l-3.1 1.8l-3.1 -1.8v-3.6zM207.7 59.3l3.1 1.8v3.6l-3.1 1.8l-3.1 -1.8v-3.6zM208.8 59.5l3.1 1.8v3.6l-3.1 1.8l-3.1 -1.8v-3.6zM209.9 59.6l3.1 1.8v3.6l-3.1 1.8l-3.1 -1.8v-3.6zM211 59.7l3.1 1.8v3.6l-3.1 1.8l-3.1 -1.8v-3.6zM212 59.8l3.1 1.8v3.6l-3.1 1.8l-3.1 -1.8v-3.6zM213 59.9l3.1 1.8v3.6l-3.1 1.8l-3.1 -1.8v-3.6zM214 60l3.1 1.8v3.6l-3.1 1.8l-3.1 -1.8v-3.6zM215 60.1l3.1 1.8v3.6l-3.1 1.8l-3.1 -1.8v-3.6zM215.9 60.2l3.1 1.8v3.6l-3.1 1.8l-3.1 -1.8v-3.6zM216.8 60.2l3.1 1.8v3.6l-3.1 1.8l-3.1 -1.8v-3.6zM217.7 60.3l3.1 1.8v3.6l-3.1 1.8l-3.1 -1.8v-3.6zM218.6 60.4l3.1 1.8v3.6l-3.1 1.8l-3.1 -1.8v-3.6zM219.5 60.5l3.1 1.8v3.6l-3.1 1.8l-3.1 -1.8v-3.6zM220.3 60.6l3.1 1.8v3.6l-3.1 1.8l-3.1 -1.8v-3.6zM221.1 60.7l3.1 1.8v3.6l-3.1 1.8l-3.1 -1.8v-3.6zM222 60.7l3.1 1.8v3.6l-3.1 1.8l-3.1 -1.8v-3.6zM222.8 60.8l3.1 1.8v3.6l-3.1 1.8l-3.1 -1.8v-3.6zM223.5 60.9l3.1 1.8v3.6l-3.1 1.8l-3.1 -1.8v-3.6zM224.3 61l3.1 1.8v3.6l-3.1 1.8l-3.1 -1.8v-3.6zM225.1 61.1l3.1 1.8v3.6l-3.1 1.8l-3.1 -1.8v-3.6zM225.8 61.1l3.1 1.8v3.6l-3.1 1.8l-3.1 -1.8v-3.6zM226.6 61.2l3.1 1.8v3.6l-3.1 1.8l-3.1 -1.8v-3.6zM227.3 61.3l3.1 1.8v3.6l-3.1 1.8l-3.1 -1.8v-3.6zM228 61.3l3.1 1.8v3.6l-3.1 1.8l-3.1 -1.8v-3.6zM228.7 61.4l3.1 1.8v3.6l-3.1 1.8l-3.1 -1.8v-3.6zM229.4 61.5l3.1 1.8v3.6l-3.1 1.8l-3.1 -1.8v-3.6zM230 61.5l3.1 1.8v3.6l-3.1 1.8l-3.1 -1.8v-3.6zM230.7 61.6l3.1 1.8v3.6l-3.1 1.8l-3.1 -1.8v-3.6zM231.4 61.7l3.1 1.8v3.6l-3.1 1.8l-3.1 -1.8v-3.6zM232 61.7l3.1 1.8v3.6l-3.1 1.8l-3.1 -1.8v-3.6zM232.7 61.8l3.1 1.8v3.6l-3.1 1.8l-3.1 -1.8v-3.6zM233.3 61.9l3.1 1.8v3.6l-3.1 1.8l-3.1 -1.8v-3.6zM233.9 61.9l3.1 1.8v3.6l-3.1 1.8l-3.1 -1.8v-3.6zM234.5 62l3.1 1.8v3.6l-3.1 1.8l-3.1 -1.8v-3.6zM235.1 62l3.1 1.8v3.6l-3.1 1.8l-3.1 -1.8v-3.6zM235.7 62.1l3.1 1.8v3.6l-3.1 1.8l-3.1 -1.8v-3.6zM236.3 62.2l3.1 1.8v3.6l-3.1 1.8l-3.1 -1.8v-3.6zM236.9 62.2l3.1 1.8v3.6l-3.1 1.8l-3.1 -1.8v-3.6zM237.4 62.3l3.1 1.8v3.6l-3.1 1.8l-3.1 -1.8v-3.6zM238 62.3l3.1 1.8v3.6l-3.1 1.8l-3.1 -1.8v-3.6zM238.6 62.4l3.1 1.8v3.6l-3.1 1.8l-3.1 -1.8v-3.6zM239.1 62.5l3.1 1.8v3.6l-3.1 1.8l-3.1 -1.8v-3.6zM239.7 62.5l3.1 1.8v3.6l-3.1 1.8l-3.1 -1.8v-3.6zM240.2 62.6l3.1 1.8v3.6l-3.1 1.8l-3.1 -1.8v-3.6zM240.7 62.6l3.1 1.8v3.6l-3.1 1.8l-3.1 -1.8v-3.6zM241.2 62.7l3.1 1.8v3.6l-3.1 1.8l-3.1 -1.8v-3.6zM241.8 62.7l3.1 1.8v3.6l-3.1 1.8l-3.1 -1.8v-3.6zM242.3 62.8l3.1 1.8v3.6l-3.1 1.8l-3.1 -1.8v-3.6zM242.8 62.8l3.1 1.8v3.6l-3.1 1.8l-3.1 -1.8v-3.6zM243.3 62.9l3.1 1.8v3.6l-3.1 1.8l-3.1 -1.8v-3.6zM243.8 62.9l3.1 1.8v3.6l-3.1 1.8l-3.1 -1.8v-3.6zM244.3 63l3.1 1.8v3.6l-3.1 1.8l-3.1 -1.8v-3.6zM244.7 63l3.1 1.8v3.6l-3.1 1.8l-3.1 -1.8v-3.6zM245.2 63.1l3.1 1.8v3.6l-3.1 1.8l-3.1 -1.8v-3.6zM245.7 63.1l3.1 1.8v3.6l-3.1 1.8l-3.1 -1.8v-3.6zM246.2 63.2l3.1 1.8v3.6l-3.1 1.8l-3.1 -1.8v-3.6zM246.6 63.2l3.1 1.8v3.6l-3.1 1.8l-3.1 -1.8v-3.6zM247.1 63.3l3.1 1.8v3.6l-3.1 1.8l-3.1 -1.8v-3.6zM247.5 63.3l3.1 1.8v3.6l-3.1 1.8l-3.1 -1.8v-3.6zM248 63.3l3.1 1.8v3.6l-3.1 1.8l-3.1 -1.8v-3.6zM248.4 63.4l3.1 1.8v3.6l-3.1 1.8l-3.1 -1.8v-3.6zM248.9 63.4l3.1 1.8v3.6l-3.1 1.8l-3.1 -1.8v-3.6zM249.3 63.5l3.1 1.8v3.6l-3.1 1.8l-3.1 -1.8v-3.6zM249.7 63.5l3.1 1.8v3.6l-3.1 1.8l-3.1 -1.8v-3.6zM250.2 63.6l3.1 1.8v3.6l-3.1 1.8l-3.1 -1.8v-3.6zM250.6 63.6l3.1 1.8v3.6l-3.1 1.8l-3.1 -1.8v-3.6zM251 63.7l3.1 1.8v3.6l-3.1 1.8l-3.1 -1.8v-3.6zM255 63.3l3.1 1.8v3.6l-3.1 1.8l-3.1 -1.8v-3.6zM258.7 63.4l3.1 1.8v3.6l-3.1 1.8l-3.1 -1.8v-3.6zM262 63.5l3.1 1.8v3.6l-3.1 1.8l-3.1 -1.8v-3.6zM265.2 63.6l3.1 1.8v3.6l-3.1 1.8l-3.1 -1.8v-3.6zM268.1 63.8l3.1 1.8v3.6l-3.1 1.8l-3.1 -1.8v-3.6zM270.9 63.9l3.1 1.8v3.6l-3.1 1.8l-3.1 -1.8v-3.6zM273.5 64l3.1 1.8v3.6l-3.1 1.8l-3.1 -1.8v-3.6zM275.9 64.1l3.1 1.8v3.6l-3.1 1.8l-3.1 -1.8v-3.6zM278.3 64.2l3.1 1.8v3.6l-3.1 1.8l-3.1 -1.8v-3.6zM280.5 64.3l3.1 1.8v3.6l-3.1 1.8l-3.1 -1.8v-3.6zM282.6 64.4l3.1 1.8v3.6l-3.1 1.8l-3.1 -1.8v-3.6zM284.6 64.5l3.1 1.8v3.6l-3.1 1.8l-3.1 -1.8v-3.6zM286.6 64.6l3.1 1.8v3.6l-3.1 1.8l-3.1 -1.8v-3.6zM288.4 64.7l3.1 1.8v3.6l-3.1 1.8l-3.1 -1.8v-3.6zM290.2 64.8l3.1 1.8v3.6l-3.1 1.8l-3.1 -1.8v-3.6zM291.9 64.9l3.1 1.8v3.6l-3.1 1.8l-3.1 -1.8v-3.6zM293.5 65l3.1 1.8v3.6l-3.1 1.8l-3.1 -1.8v-3.6zM295.1 65.1l3.1 1.8v3.6l-3.1 1.8l-3.1 -1.8v-3.6zM296.7 65.2l3.1 1.8v3.6l-3.1 1.8l-3.1 -1.8v-3.6zM298.2 65.3l3.1 1.8v3.6l-3.1 1.8l-3.1 -1.8v-3.6zM299.6 65.4l3.1 1.8v3.6l-3.1 1.8l-3.1 -1.8v-3.6zM301 65.5l3.1 1.8v3.6l-3.1 1.8l-3.1 -1.8v-3.6zM302.4 65.6l3.1 1.8v3.6l-3.1 1.8l-3.1 -1.8v-3.6zM303.7 65.7l3.1 1.8v3.6l-3.1 1.8l-3.1 -1.8v-3.6zM305 65.8l3.1 1.8v3.6l-3.1 1.8l-3.1 -1.8v-3.6zM306.2 65.9l3.1 1.8v3.6l-3.1 1.8l-3.1 -1.8v-3.6zM307.4 66l3.1 1.8v3.6l-3.1 1.8l-3.1 -1.8v-3.6zM308.6 66.1l3.1 1.8v3.6l-3.1 1.8l-3.1 -1.8v-3.6zM309.8 66.2l3.1 1.8v3.6l-3.1 1.8l-3.1 -1.8v-3.6zM310.9 66.3l3.1 1.8v3.6l-3.1 1.8l-3.1 -1.8v-3.6zM312 66.4l3.1 1.8v3.6l-3.1 1.8l-3.1 -1.8v-3.6zM313.1 66.5l3.1 1.8v3.6l-3.1 1.8l-3.1 -1.8v-3.6zM314.1 66.6l3.1 1.8v3.6l-3.1 1.8l-3.1 -1.8v-3.6zM315.1 66.7l3.1 1.8v3.6l-3.1 1.8l-3.1 -1.8v-3.6zM316.1 66.8l3.1 1.8v3.6l-3.1 1.8l-3.1 -1.8v-3.6zM317.1 66.9l3.1 1.8v3.6l-3.1 1.8l-3.1 -1.8v-3.6zM318.1 66.9l3.1 1.8v3.6l-3.1 1.8l-3.1 -1.8v-3.6zM319 67l3.1 1.8v3.6l-3.1 1.8l-3.1 -1.8v-3.6zM319.9 67.1l3.1 1.8v3.6l-3.1 1.8l-3.1 -1.8v-3.6zM320.8 67.2l3.1 1.8v3.6l-3.1 1.8l-3.1 -1.8v-3.6zM321.7 67.3l3.1 1.8v3.6l-3.1 1.8l-3.1 -1.8v-3.6zM322.6 67.4l3.1 1.8v3.6l-3.1 1.8l-3.1 -1.8v-3.6zM323.4 67.5l3.1 1.8v3.6l-3.1 1.8l-3.1 -1.8v-3.6zM324.3 67.6l3.1 1.8v3.6l-3.1 1.8l-3.1 -1.8v-3.6zM325.1 67.7l3.1 1.8v3.6l-3.1 1.8l-3.1 -1.8v-3.6zM325.9 67.8l3.1 1.8v3.6l-3.1 1.8l-3.1 -1.8v-3.6zM326.7 67.9l3.1 1.8v3.6l-3.1 1.8l-3.1 -1.8v-3.6zM327.5 67.9l3.1 1.8v3.6l-3.1 1.8l-3.1 -1.8v-3.6zM328.3 68l3.1 1.8v3.6l-3.1 1.8l-3.1 -1.8v-3.6zM329 68.1l3.1 1.8v3.6l-3.1 1.8l-3.1 -1.8v-3.6zM329.8 68.2l3.1 1.8v3.6l-3.1 1.8l-3.1 -1.8v-3.6zM330.5 68.3l3.1 1.8v3.6l-3.1 1.8l-3.1 -1.8v-3.6zM331.2 68.4l3.1 1.8v3.6l-3.1 1.8l-3.1 -1.8v-3.6zM331.9 68.5l3.1 1.8v3.6l-3.1 1.8l-3.1 -1.8v-3.6zM332.6 68.6l3.1 1.8v3.6l-3.1 1.8l-3.1 -1.8v-3.6zM333.3 68.7l3.1 1.8v3.6l-3.1 1.8l-3.1 -1.8v-3.6zM334 68.8l3.1 1.8v3.6l-3.1 1.8l-3.1 -1.8v-3.6zM334.6 68.9l3.1 1.8v3.6l-3.1 1.8l-3.1 -1.8v-3.6zM335.3 69l3.1 1.8v3.6l-3.1 1.8l-3.1 -1.8v-3.6zM336 69.2l3.1 1.8v3.6l-3.1 1.8l-3.1 -1.8v-3.6zM336.6 69.3l3.1 1.8v3.6l-3.1 1.8l-3.1 -1.8v-3.6zM337.2 69.4l3.1 1.8v3.6l-3.1 1.8l-3.1 -1.8v-3.6zM337.9 69.5l3.1 1.8v3.6l-3.1 1.8l-3.1 -1.8v-3.6zM338.5 69.6l3.1 1.8v3.6l-3.1 1.8l-3.1 -1.8v-3.6zM339.1 69.7l3.1 1.8v3.6l-3.1 1.8l-3.1 -1.8v-3.6zM339.7 69.9l3.1 1.8v3.6l-3.1 1.8l-3.1 -1.8v-3.6zM340.3 70l3.1 1.8v3.6l-3.1 1.8l-3.1 -1.8v-3.6zM340.9 70.1l3.1 1.8v3.6l-3.1 1.8l-3.1 -1.8v-3.6zM341.4 70.2l3.1 1.8v3.6l-3.1 1.8l-3.1 -1.8v-3.6zM342 70.4l3.1 1.8v3.6l-3.1 1.8l-3.1 -1.8v-3.6zM342.6 70.5l3.1 1.8v3.6l-3.1 1.8l-3.1 -1.8v-3.6zM343.1 70.6l3.1 1.8v3.6l-3.1 1.8l-3.1 -1.8v-3.6zM343.7 70.8l3.1 1.8v3.6l-3.1 1.8l-3.1 -1.8v-3.6zM344.2 70.9l3.1 1.8v3.6l-3.1 1.8l-3.1 -1.8v-3.6zM344.8 71l3.1 1.8v3.6l-3.1 1.8l-3.1 -1.8v-3.6zM345.3 71.1l3.1 1.8v3.6l-3.1 1.8l-3.1 -1.8v-3.6zM345.8 71.3l3.1 1.8v3.6l-3.1 1.8l-3.1 -1.8v-3.6zM346.3 71.4l3.1 1.8v3.6l-3.1 1.8l-3.1 -1.8v-3.6zM346.8 71.5l3.1 1.8v3.6l-3.1 1.8l-3.1 -1.8v-3.6zM347.3 71.6l3.1 1.8v3.6l-3.1 1.8l-3.1 -1.8v-3.6zM347.9 71.7l3.1 1.8v3.6l-3.1 1.8l-3.1 -1.8v-3.6zM348.3 71.9l3.1 1.8v3.6l-3.1 1.8l-3.1 -1.8v-3.6zM348.8 72l3.1 1.8v3.6l-3.1 1.8l-3.1 -1.8v-3.6zM349.3 72.1l3.1 1.8v3.6l-3.1 1.8l-3.1 -1.8v-3.6zM349.8 72.2l3.1 1.8v3.6l-3.1 1.8l-3.1 -1.8v-3.6zM350.3 72.3l3.1 1.8v3.6l-3.1 1.8l-3.1 -1.8v-3.6zM350.8 72.5l3.1 1.8v3.6l-3.1 1.8l-3.1 -1.8v-3.6zM351.2 72.6l3.1 1.8v3.6l-3.1 1.8l-3.1 -1.8v-3.6zM351.7 72.7l3.1 1.8v3.6l-3.1 1.8l-3.1 -1.8v-3.6zM352.1 72.8l3.1 1.8v3.6l-3.1 1.8l-3.1 -1.8v-3.6zM356.5 74l3.1 1.8v3.6l-3.1 1.8l-3.1 -1.8v-3.6zM360.5 75.1l3.1 1.8v3.6l-3.1 1.8l-3.1 -1.8v-3.6zM364.1 76.2l3.1 1.8v3.6l-3.1 1.8l-3.1 -1.8v-3.6zM367.5 77.4l3.1 1.8v3.6l-3.1 1.8l-3.1 -1.8v-3.6zM370.7 78.6l3.1 1.8v3.6l-3.1 1.8l-3.1 -1.8v-3.6zM373.7 79.7l3.2 1.8v3.6l-3.2 1.8l-3.2 -1.8v-3.6zM376.5 80.9l3.2 1.8v3.6l-3.2 1.8l-3.2 -1.8v-3.6zM379.1 82l3.2 1.8v3.7l-3.2 1.8l-3.2 -1.8v-3.7zM381.6 82.9l3.2 1.8v3.7l-3.2 1.8l-3.2 -1.8v-3.7zM384 83.8l3.2 1.8v3.7l-3.2 1.8l-3.2 -1.8v-3.7zM386.3 84.7l3.2 1.8v3.7l-3.2 1.8l-3.2 -1.8v-3.7zM388.4 85.5l3.2 1.8v3.7l-3.2 1.8l-3.2 -1.8v-3.7zM390.5 86.3l3.2 1.8v3.7l-3.2 1.8l-3.2 -1.8v-3.7zM392.5 87.1l3.2 1.8v3.7l-3.2 1.8l-3.2 -1.8v-3.7zM394.4 87.9l3.2 1.9v3.7l-3.2 1.9l-3.2 -1.9v-3.7zM396.2 88.7l3.2 1.9v3.7l-3.2 1.9l-3.2 -1.9v-3.7zM397.9 89.5l3.2 1.9v3.7l-3.2 1.9l-3.2 -1.9v-3.7zM399.6 90.3l3.2 1.9v3.7l-3.2 1.9l-3.2 -1.9v-3.7zM401.3 91l3.2 1.9v3.7l-3.2 1.9l-3.2 -1.9v-3.7zM402.8 91.7l3.2 1.9v3.7l-3.2 1.9l-3.2 -1.9v-3.7zM404.4 92.5l3.2 1.9v3.7l-3.2 1.9l-3.2 -1.9v-3.7zM405.9 93.2l3.2 1.9v3.7l-3.2 1.9l-3.2 -1.9v-3.7zM407.3 93.8l3.2 1.9v3.7l-3.2 1.9l-3.2 -1.9v-3.7zM408.7 94.5l3.2 1.9v3.8l-3.2 1.9l-3.2 -1.9v-3.8zM410 95.2l3.3 1.9v3.8l-3.3 1.9l-3.3 -1.9v-3.8zM411.4 95.8l3.3 1.9v3.8l-3.3 1.9l-3.3 -1.9v-3.8zM412.6 96.4l3.3 1.9v3.8l-3.3 1.9l-3.3 -1.9v-3.8zM413.9 97.1l3.3 1.9v3.8l-3.3 1.9l-3.3 -1.9v-3.8zM415.1 97.7l3.3 1.9v3.8l-3.3 1.9l-3.3 -1.9v-3.8zM416.3 98.3l3.3 1.9v3.8l-3.3 1.9l-3.3 -1.9v-3.8zM417.5 98.9l3.3 1.9v3.8l-3.3 1.9l-3.3 -1.9v-3.8zM418.6 99.5l3.3 1.9v3.8l-3.3 1.9l-3.3 -1.9v-3.8zM419.7 100.1l3.3 1.9v3.8l-3.3 1.9l-3.3 -1.9v-3.8zM420.8 100.7l3.3 1.9v3.8l-3.3 1.9l-3.3 -1.9v-3.8zM421.8 101.3l3.3 1.9v3.8l-3.3 1.9l-3.3 -1.9v-3.8zM422.9 101.9l3.3 1.9v3.8l-3.3 1.9l-3.3 -1.9v-3.8zM423.9 102.5l3.3 1.9v3.8l-3.3 1.9l-3.3 -1.9v-3.8zM424.9 103.1l3.3 1.9v3.8l-3.3 1.9l-3.3 -1.9v-3.8zM425.8 103.7l3.3 1.9v3.8l-3.3 1.9l-3.3 -1.9v-3.8zM426.8 104.3l3.3 1.9v3.8l-3.3 1.9l-3.3 -1.9v-3.8zM427.7 104.9l3.3 1.9v3.8l-3.3 1.9l-3.3 -1.9v-3.8zM428.6 105.5l3.3 1.9v3.8l-3.3 1.9l-3.3 -1.9v-3.8zM429.5 106.1l3.3 1.9v3.8l-3.3 1.9l-3.3 -1.9v-3.8zM430.4 106.7l3.3 1.9v3.8l-3.3 1.9l-3.3 -1.9v-3.8zM431.3 107.3l3.3 1.9v3.8l-3.3 1.9l-3.3 -1.9v-3.8zM432.1 107.8l3.3 1.9v3.8l-3.3 1.9l-3.3 -1.9v-3.8zM433 108.4l3.3 1.9v3.8l-3.3 1.9l-3.3 -1.9v-3.8zM433.8 109l3.3 1.9v3.8l-3.3 1.9l-3.3 -1.9v-3.8zM434.6 109.6l3.3 1.9v3.8l-3.3 1.9l-3.3 -1.9v-3.8zM435.4 110.1l3.3 1.9v3.8l-3.3 1.9l-3.3 -1.9v-3.8zM436.1 110.7l3.3 1.9v3.8l-3.3 1.9l-3.3 -1.9v-3.8zM436.9 111.2l3.3 1.9v3.8l-3.3 1.9l-3.3 -1.9v-3.8zM437.7 111.8l3.3 1.9v3.8l-3.3 1.9l-3.3 -1.9v-3.8zM438.4 112.3l3.3 1.9v3.8l-3.3 1.9l-3.3 -1.9v-3.8zM439.1 112.9l3.3 1.9v3.8l-3.3 1.9l-3.3 -1.9v-3.8zM439.9 113.4l3.3 1.9v3.8l-3.3 1.9l-3.3 -1.9v-3.8zM440.6 114l3.3 1.9v3.9l-3.3 1.9l-3.3 -1.9v-3.9zM441.3 114.5l3.3 1.9v3.9l-3.3 1.9l-3.3 -1.9v-3.9zM442 115l3.3 1.9v3.9l-3.3 1.9l-3.3 -1.9v-3.9zM442.7 115.5l3.3 1.9v3.9l-3.3 1.9l-3.3 -1.9v-3.9zM443.3 116.1l3.3 1.9v3.9l-3.3 1.9l-3.3 -1.9v-3.9zM444 116.6l3.3 1.9v3.9l-3.3 1.9l-3.3 -1.9v-3.9zM444.6 117.1l3.3 1.9v3.9l-3.3 1.9l-3.3 -1.9v-3.9zM445.3 117.7l3.3 1.9v3.9l-3.3 1.9l-3.3 -1.9v-3.9zM445.9 118.2l3.3 1.9v3.9l-3.3 1.9l-3.3 -1.9v-3.9zM446.5 118.7l3.4 1.9v3.9l-3.4 1.9l-3.4 -1.9v-3.9zM447.2 119.3l3.4 1.9v3.9l-3.4 1.9l-3.4 -1.9v-3.9zM447.8 119.8l3.4 1.9v3.9l-3.4 1.9l-3.4 -1.9v-3.9zM448.4 120.3l3.4 1.9v3.9l-3.4 1.9l-3.4 -1.9v-3.9zM449 120.9l3.4 1.9v3.9l-3.4 1.9l-3.4 -1.9v-3.9zM449.6 121.4l3.4 1.9v3.9l-3.4 1.9l-3.4 -1.9v-3.9zM450.1 121.9l3.4 1.9v3.9l-3.4 1.9l-3.4 -1.9v-3.9zM450.7 122.4l3.4 1.9v3.9l-3.4 1.9l-3.4 -1.9v-3.9zM451.3 122.9l3.4 1.9v3.9l-3.4 1.9l-3.4 -1.9v-3.9zM451.8 123.5l3.4 1.9v3.9l-3.4 1.9l-3.4 -1.9v-3.9zM452.4 124l3.4 1.9v3.9l-3.4 1.9l-3.4 -1.9v-3.9zM452.9 124.5l3.4 1.9v3.9l-3.4 1.9l-3.4 -1.9v-3.9zM453.5 125l3.4 1.9v3.9l-3.4 1.9l-3.4 -1.9v-3.9zM454 125.5l3.4 1.9v3.9l-3.4 1.9l-3.4 -1.9v-3.9zM454.6 125.9l3.4 1.9v3.9l-3.4 1.9l-3.4 -1.9v-3.9zM455.1 126.4l3.4 1.9v3.9l-3.4 1.9l-3.4 -1.9v-3.9zM455.6 126.9l3.4 1.9v3.9l-3.4 1.9l-3.4 -1.9v-3.9zM456.1 127.4l3.4 1.9v3.9l-3.4 1.9l-3.4 -1.9v-3.9zM456.6 127.9l3.4 2v3.9l-3.4 2l-3.4 -2v-3.9zM457.1 128.4l3.4 2v3.9l-3.4 2l-3.4 -2v-3.9zM457.6 128.8l3.4 2v3.9l-3.4 2l-3.4 -2v-3.9zM458.1 129.3l3.4 2v3.9l-3.4 2l-3.4 -2v-3.9zM458.6 129.8l3.4 2v3.9l-3.4 2l-3.4 -2v-3.9zM459.1 130.2l3.4 2v3.9l-3.4 2l-3.4 -2v-3.9zM459.6 130.7l3.4 2v3.9l-3.4 2l-3.4 -2v-3.9zM460 131.1l3.4 2v3.9l-3.4 2l-3.4 -2v-3.9zM460.5 131.6l3.4 2v3.9l-3.4 2l-3.4 -2v-3.9zM461 132l3.4 2v3.9l-3.4 2l-3.4 -2v-3.9zM461.4 132.4l3.4 2v3.9l-3.4 2l-3.4 -2v-3.9zM461.9 132.9l3.4 2v3.9l-3.4 2l-3.4 -2v-3.9zM462.3 133.3l3.4 2v3.9l-3.4 2l-3.4 -2v-3.9zM462.8 133.7l3.4 2v3.9l-3.4 2l-3.4 -2v-3.9zM463.2 134.1l3.4 2v3.9l-3.4 2l-3.4 -2v-3.9zM463.7 134.5l3.4 2v3.9l-3.4 2l-3.4 -2v-3.9zM464.1 134.9l3.4 2v3.9l-3.4 2l-3.4 -2v-3.9zM464.5 135.4l3.4 2v3.9l-3.4 2l-3.4 -2v-3.9zM464.9 135.8l3.4 2v3.9l-3.4 2l-3.4 -2v-3.9zM465.4 136.2l3.4 2v3.9l-3.4 2l-3.4 -2v-3.9zM465.8 136.6l3.4 2v3.9l-3.4 2l-3.4 -2v-3.9zM466.2 137l3.4 2v3.9l-3.4 2l-3.4 -2v-3.9zM466.6 137.4l3.4 2v3.9l-3.4 2l-3.4 -2v-3.9zM467 137.8l3.4 2v3.9l-3.4 2l-3.4 -2v-3.9zM467.4 138.1l3.4 2v3.9l-3.4 2l-3.4 -2v-3.9zM467.8 138.5l3.4 2v3.9l-3.4 2l-3.4 -2v-3.9zM468.2 138.9l3.4 2v3.9l-3.4 2l-3.4 -2v-3.9zM468.6 139.3l3.4 2v3.9l-3.4 2l-3.4 -2v-3.9zM469 139.7l3.4 2v3.9l-3.4 2l-3.4 -2v-3.9zM469.4 140.1l3.4 2v3.9l-3.4 2l-3.4 -2v-3.9zM469.8 140.5l3.4 2v3.9l-3.4 2l-3.4 -2v-3.9zM470.2 140.9l3.4 2v3.9l-3.4 2l-3.4 -2v-3.9zM470.6 141.2l3.4 2v3.9l-3.4 2l-3.4 -2v-3.9zM470.9 141.6l3.4 2v3.9l-3.4 2l-3.4 -2v-3.9zM471.3 142l3.4 2v3.9l-3.4 2l-3.4 -2v-3.9zM471.7 142.4l3.4 2v3.9l-3.4 2l-3.4 -2v-3.9zM472 142.8l3.4 2v3.9l-3.4 2l-3.4 -2v-3.9zM472.4 143.2l3.4 2v3.9l-3.4 2l-3.4 -2v-3.9zM472.8 143.6l3.4 2v3.9l-3.4 2l-3.4 -2v-3.9zM473.1 143.9l3.4 2v3.9l-3.4 2l-3.4 -2v-3.9zM473.5 144.3l3.4 2v3.9l-3.4 2l-3.4 -2v-3.9zM473.8 144.7l3.4 2v3.9l-3.4 2l-3.4 -2v-3.9zM474.2 145.1l3.4 2v3.9l-3.4 2l-3.4 -2v-3.9zM474.6 145.4l3.4 2v3.9l-3.4 2l-3.4 -2v-3.9zM474.9 145.8l3.4 2v3.9l-3.4 2l-3.4 -2v-3.9zM475.2 146.2l3.4 2v3.9l-3.4 2l-3.4 -2v-3.9zM475.6 146.6l3.4 2v3.9l-3.4 2l-3.4 -2v-3.9zM475.9 146.9l3.4 2v3.9l-3.4 2l-3.4 -2v-3.9zM476.3 147.3l3.4 2v3.9l-3.4 2l-3.4 -2v-3.9zM476.6 147.7l3.4 2v3.9l-3.4 2l-3.4 -2v-3.9zM476.9 148l3.4 2v3.9l-3.4 2l-3.4 -2v-3.9zM477.3 148.4l3.4 2v3.9l-3.4 2l-3.4 -2v-3.9zM477.6 148.8l3.4 2v3.9l-3.4 2l-3.4 -2v-3.9zM477.9 149.1l3.4 2v3.9l-3.4 2l-3.4 -2v-3.9zM478.2 149.5l3.4 2v3.9l-3.4 2l-3.4 -2v-3.9zM478.6 149.8l3.4 2v3.9l-3.4 2l-3.4 -2v-3.9zM478.9 150.2l3.4 2v3.9l-3.4 2l-3.4 -2v-3.9zM479.2 150.5l3.4 2v3.9l-3.4 2l-3.4 -2v-3.9zM479.5 150.8l3.4 2v3.9l-3.4 2l-3.4 -2v-3.9zM479.8 151.2l3.4 2v3.9l-3.4 2l-3.4 -2v-3.9zM480.1 151.5l3.4 2v3.9l-3.4 2l-3.4 -2v-3.9zM480.4 151.9l3.4 2v3.9l-3.4 2l-3.4 -2v-3.9zM480.8 152.2l3.4 2v3.9l-3.4 2l-3.4 -2v-3.9zM481.1 152.5l3.4 2v3.9l-3.4 2l-3.4 -2v-3.9zM481.4 152.8l3.4 2v3.9l-3.4 2l-3.4 -2v-3.9zM481.7 153.2l3.4 2v3.9l-3.4 2l-3.4 -2v-3.9zM482 153.5l3.4 2v3.9l-3.4 2l-3.4 -2v-3.9zM482.3 153.8l3.4 2v3.9l-3.4 2l-3.4 -2v-3.9zM482.6 154.1l3.4 2v3.9l-3.4 2l-3.4 -2v-3.9zM482.9 154.4l3.4 2v3.9l-3.4 2l-3.4 -2v-3.9zM483.1 154.7l3.4 2v3.9l-3.4 2l-3.4 -2v-3.9zM483.4 155l3.4 2v3.9l-3.4 2l-3.4 -2v-3.9zM483.7 155.3l3.4 2v3.9l-3.4 2l-3.4 -2v-3.9zM484 155.6l3.4 2v3.9l-3.4 2l-3.4 -2v-3.9zM484.3 155.9l3.4 2v3.9l-3.4 2l-3.4 -2v-3.9zM484.6 156.2l3.4 2v3.9l-3.4 2l-3.4 -2v-3.9zM484.9 156.5l3.4 2v3.9l-3.4 2l-3.4 -2v-3.9zM485.1 156.8l3.4 2v3.9l-3.4 2l-3.4 -2v-3.9zM485.4 157.1l3.4 2v3.9l-3.4 2l-3.4 -2v-3.9zM485.7 157.4l3.4 2v3.9l-3.4 2l-3.4 -2v-3.9zM486 157.6l3.4 2v3.9l-3.4 2l-3.4 -2v-3.9zM486.2 157.9l3.4 2v3.9l-3.4 2l-3.4 -2v-3.9zM486.5 158.2l3.4 2v3.9l-3.4 2l-3.4 -2v-3.9zM486.8 158.4l3.4 2v3.9l-3.4 2l-3.4 -2v-3.9zM487.1 158.7l3.4 2v3.9l-3.4 2l-3.4 -2v-3.9zM487.3 159l3.4 2v3.9l-3.4 2l-3.4 -2v-3.9zM487.6 159.2l3.4 2v3.9l-3.4 2l-3.4 -2v-3.9zM487.9 159.5l3.4 2v3.9l-3.4 2l-3.4 -2v-3.9zM488.1 159.7l3.4 2v3.9l-3.4 2l-3.4 -2v-3.9zM488.4 160l3.4 2v3.9l-3.4 2l-3.4 -2v-3.9zM488.6 160.2l3.4 2v3.9l-3.4 2l-3.4 -2v-3.9zM488.9 160.4l3.4 2v3.9l-3.4 2l-3.4 -2v-3.9zM489.2 160.7l3.4 2v3.9l-3.4 2l-3.4 -2v-3.9zM489.4 160.9l3.4 2v3.9l-3.4 2l-3.4 -2v-3.9zM489.7 161.1l3.4 2v3.9l-3.4 2l-3.4 -2v-3.9zM489.9 161.4l3.4 2v3.9l-3.4 2l-3.4 -2v-3.9zM490.2 161.6l3.4 2v3.9l-3.4 2l-3.4 -2v-3.9zM490.4 161.8l3.4 2v3.9l-3.4 2l-3.4 -2v-3.9zM490.7 162l3.4 2v3.9l-3.4 2l-3.4 -2v-3.9zM490.9 162.3l3.4 2v3.9l-3.4 2l-3.4 -2v-3.9zM491.2 162.5l3.4 2v3.9l-3.4 2l-3.4 -2v-3.9zM491.4 162.7l3.4 2v3.9l-3.4 2l-3.4 -2v-3.9zM491.7 162.9l3.4 2v3.9l-3.4 2l-3.4 -2v-3.9zM491.9 163.1l3.4 2v3.9l-3.4 2l-3.4 -2v-3.9zM492.2 163.3l3.4 2v3.9l-3.4 2l-3.4 -2v-3.9zM492.4 163.5l3.4 2v3.9l-3.4 2l-3.4 -2v-3.9zM492.6 163.7l3.4 2v3.9l-3.4 2l-3.4 -2v-3.9z" fill="#800080"/>

<path d="M108.6 61.5 112.4 61.5 116.0 61.4 119.3 61.4 122.4 61.3 125.4 61.3 128.1 61.3 130.7 61.2 133.1 61.2 135.4 61.2 137.6 61.2 139.7 61.2 141.6 61.2 143.5 61.3 145.4 61.3 147.1 61.4 148.8 61.5 150.4 61.6 151.9 61.7 153.4 61.7 154.9 61.8 156.3 61.9 157.6 62.0 158.9 62.1 160.2 62.2 161.4 62.3 162.6 62.3 163.8 62.4 165.0 62.5 166.1 62.6 167.1 62.6 168.2 62.7 169.2 62.8 170.2 62.8 171.2 62.9 172.2 62.9 173.1 63.0 174.0 63.0 174.9 63.1 175.8 63.1 176.7 63.2 177.5 63.3 178.4 63.3 179.2 63.4 180.0 63.4 180.8 63.5 181.5 63.5 182.3 63.6 183.0 63.6 183.8 63.7 184.5 63.7 185.2 63.8 185.9 63.8 186.6 63.8 187.3 63.9 187.9 63.9 188.6 64.0 189.2 64.0 189.9 64.1 190.5 64.1 191.1 64.1 191.7 64.2 192.3 64.2 192.9 64.2 193.5 64.3 194.1 64.3 194.7 64.3 195.2 64.4 195.8 64.4 196.3 64.4 196.9 64.5 197.4 64.5 197.9 64.5 198.5 64.5 199.0 64.6 199.5 64.6 200.0 64.6 200.5 64.6 201.0 64.6 201.5 64.7 202.0 64.7 202.4 64.7 202.9 64.7 203.4 64.7 203.8 64.8 204.3 64.8 204.8 64.8 205.2 64.8 205.7 64.8 206.1 64.8 206.5 64.9 207.0 64.9 207.4 64.9 207.8 64.9 208.2 64.9 212.2 65.1 215.9 65.2 219.3 65.3 222.4 65.4 225.3 65.5 228.1 65.5 230.7 65.6 233.2 65.7 235.5 65.8 237.7 65.8 239.8 65.9 241.8 65.9 243.8 66.0 245.6 66.1 247.4 66.1 249.1 66.2 250.8 66.2 252.4 66.3 253.9 66.3 255.4 66.4 256.8 66.4 258.2 66.5 259.6 66.5 260.9 66.6 262.2 66.6 263.4 66.7 264.6 66.7 265.8 66.7 267.0 66.8 268.1 66.8 269.2 66.9 270.3 66.9 271.3 66.9 272.3 67.0 273.3 67.0 274.3 67.1 275.3 67.1 276.2 67.1 277.1 67.2 278.1 67.2 278.9 67.3 279.8 67.3 280.7 67.3 281.5 67.4 282.3 67.4 283.1 67.5 283.9 67.5 284.7 67.5 285.5 67.6 286.2 67.6 287.0 67.6 287.7 67.7 288.4 67.7 289.1 67.8 289.8 67.8 290.5 67.8 291.2 67.9 291.9 67.9 292.5 68.0 293.2 68.0 293.8 68.0 294.5 68.1 295.1 68.1 295.7 68.2 296.3 68.2 296.9 68.3 297.5 68.3 298.1 68.3 298.7 68.4 299.2 68.4 299.8 68.5 300.3 68.5 300.9 68.6 301.4 68.6 302.0 68.6 302.5 68.7 303.0 68.7 303.5 68.8 304.1 68.8 304.6 68.8 305.1 68.9 305.6 68.9 306.1 69.0 306.5 69.0 307.0 69.0 307.5 69.1 308.0 69.1 308.4 69.2 308.9 69.2 309.4 69.2 313.7 69.6 317.7 70.0 321.4 70.3 324.8 70.7 327.9 71.1 330.9 71.5 333.7 71.9 336.3 72.3 338.8 72.8 341.2 73.2 343.5 73.7 345.6 74.2 347.7 74.7 349.7 75.1 351.6 75.6 353.4 76.0 355.2 76.5 356.8 76.9 358.5 77.4 360.1 77.8 361.6 78.3 363.1 78.7 364.5 79.1 365.9 79.6 367.3 80.1 368.6 80.5 369.9 81.0 371.1 81.5 372.3 81.9 373.5 82.4 374.7 82.9 375.8 83.3 376.9 83.7 378.0 84.2 379.0 84.6 380.1 85.0 381.1 85.5 382.1 85.9 383.0 86.3 384.0 86.7 384.9 87.2 385.8 87.6 386.7 88.0 387.6 88.4 388.5 88.8 389.3 89.2 390.2 89.6 391.0 90.0 391.8 90.4 392.6 90.7 393.4 91.1 394.1 91.5 394.9 91.9 395.6 92.3 396.4 92.7 397.1 93.0 397.8 93.4 398.5 93.8 399.2 94.2 399.9 94.5 400.5 94.9 401.2 95.2 401.9 95.6 402.5 95.9 403.1 96.3 403.8 96.6 404.4 97.0 405.0 97.3 405.6 97.6 406.2 98.0 406.8 98.3 407.4 98.6 407.9 99.0 408.5 99.3 409.1 99.7 409.6 100.0 410.2 100.3 410.7 100.7 411.2 101.0 411.8 101.3 412.3 101.6 412.8 102.0 413.3 102.3 413.8 102.6 414.3 102.9 414.8 103.2 415.3 103.6 415.8 103.9 416.3 104.2 416.8 104.5 417.3 104.7 417.7 105.0 418.2 105.3 418.6 105.6 419.1 105.9 419.6 106.2 420.0 106.5 420.4 106.7 420.9 107.0 421.3 107.3 421.7 107.6 422.2 107.9 422.6 108.1 423.0 108.4 423.4 108.7 423.8 109.0 424.2 109.2 424.7 109.5 425.1 109.8 425.5 110.0 425.9 110.3 426.2 110.5 426.6 110.8 427.0 111.1 427.4 111.3 427.8 111.6 428.2 111.8 428.5 112.1 428.9 112.3 429.3 112.6 429.6 112.8 430.0 113.1 430.4 113.3 430.7 113.6 431.1 113.8 431.4 114.1 431.8 114.3 432.1 114.6 432.5 114.8 432.8 115.1 433.1 115.3 433.5 115.6 433.8 115.8 434.1 116.1 434.5 116.3 434.8 116.6 435.1 116.8 435.5 117.1 435.8 117.4 436.1 117.6 436.4 117.8 436.7 118.1 437.0 118.3 437.4 118.6 437.7 118.8 438.0 119.1 438.3 119.3 438.6 119.6 438.9 119.8 439.2 120.1 439.5 120.3 439.8 120.5 440.1 120.8 440.4 121.0 440.7 121.3 440.9 121.5 441.2 121.7 441.5 122.0 441.8 122.2 442.1 122.4 442.4 122.7 442.6 122.9 442.9 123.2 443.2 123.4 443.5 123.6 443.7 123.9 444.0 124.1 444.3 124.3 444.6 124.5 444.8 124.8 445.1 125.0 445.3 125.2 445.6 125.4 445.9 125.7 446.1 125.9 446.4 126.1 446.6 126.3 446.9 126.6 447.2 126.8 447.4 127.0 447.7 127.2 447.9 127.4 448.2 127.6 448.4 127.9 448.7 128.1 448.9 128.3 449.1 128.5 449.4 128.7 449.6 128.9 449.9 129.2" fill="none" stroke="#800000" stroke-width="1"/>
<path d="M108.6 57.9L109.4 60.3L111.9 60.4L110 62L110.7 64.4L108.6 63L106.5 64.4L107.2 62L105.2 60.4L107.7 60.3zM112.4 57.9L113.3 60.2L115.8 60.4L113.8 61.9L114.5 64.3L112.4 62.9L110.3 64.3L111 61.9L109 60.4L111.5 60.2zM116 57.9L116.8 60.2L119.3 60.3L117.4 61.9L118.1 64.3L116 62.9L113.9 64.3L114.6 61.9L112.6 60.3L115.1 60.2zM119.3 57.8L120.2 60.2L122.7 60.3L120.7 61.8L121.4 64.2L119.3 62.9L117.2 64.2L117.9 61.8L115.9 60.3L118.4 60.2zM122.4 57.8L123.3 60.1L125.8 60.2L123.9 61.8L124.5 64.2L122.4 62.8L120.3 64.2L121 61.8L119.1 60.2L121.6 60.1zM125.4 57.7L126.2 60.1L128.7 60.2L126.8 61.7L127.4 64.2L125.4 62.8L123.3 64.2L123.9 61.7L122 60.2L124.5 60.1zM128.1 57.7L129 60L131.5 60.2L129.5 61.7L130.2 64.1L128.1 62.7L126 64.1L126.7 61.7L124.7 60.2L127.2 60zM130.7 57.7L131.5 60L134 60.1L132.1 61.7L132.8 64.1L130.7 62.7L128.6 64.1L129.2 61.7L127.3 60.1L129.8 60zM133.1 57.7L134 60L136.5 60.1L134.5 61.7L135.2 64.1L133.1 62.7L131 64.1L131.7 61.7L129.7 60.1L132.2 60zM135.4 57.7L136.3 60L138.8 60.1L136.8 61.7L137.5 64.1L135.4 62.7L133.3 64.1L134 61.7L132 60.1L134.5 60zM137.6 57.7L138.5 60L141 60.1L139 61.7L139.7 64.1L137.6 62.7L135.5 64.1L136.2 61.7L134.2 60.1L136.7 60zM139.7 57.7L140.5 60L143 60.1L141.1 61.7L141.8 64.1L139.7 62.7L137.6 64.1L138.2 61.7L136.3 60.1L138.8 60zM141.6 57.7L142.5 60L145 60.1L143.1 61.7L143.7 64.1L141.6 62.7L139.6 64.1L140.2 61.7L138.3 60.1L140.8 60zM143.5 57.7L144.4 60.1L146.9 60.2L145 61.7L145.6 64.2L143.5 62.8L141.5 64.2L142.1 61.7L140.2 60.2L142.7 60.1zM145.4 57.8L146.2 60.1L148.7 60.2L146.8 61.8L147.4 64.2L145.4 62.8L143.3 64.2L143.9 61.8L142 60.2L144.5 60.1zM147.1 57.9L148 60.2L150.5 60.3L148.5 61.9L149.2 64.3L147.1 62.9L145 64.3L145.7 61.9L143.7 60.3L146.2 60.2zM148.8 57.9L149.6 60.3L152.1 60.4L150.2 62L150.9 64.4L148.8 63L146.7 64.4L147.3 62L145.4 60.4L147.9 60.3zM150.4 58L151.3 60.4L153.8 60.5L151.8 62L152.5 64.4L150.4 63.1L148.3 64.4L149 62L147 60.5L149.5 60.4zM151.9 58.1L152.8 60.5L155.3 60.6L153.3 62.1L154 64.5L151.9 63.1L149.8 64.5L150.5 62.1L148.5 60.6L151 60.5zM153.4 58.2L154.3 60.5L156.8 60.6L154.8 62.2L155.5 64.6L153.4 63.2L151.3 64.6L152 62.2L150 60.6L152.5 60.5zM154.9 58.3L155.7 60.6L158.2 60.7L156.3 62.3L157 64.7L154.9 63.3L152.8 64.7L153.4 62.3L151.5 60.7L154 60.6zM156.3 58.4L157.1 60.7L159.6 60.8L157.7 62.4L158.4 64.8L156.3 63.4L154.2 64.8L154.8 62.4L152.9 60.8L155.4 60.7zM157.6 58.5L158.5 60.8L161 60.9L159 62.5L159.7 64.9L157.6 63.5L155.5 64.9L156.2 62.5L154.2 60.9L156.7 60.8zM158.9 58.5L159.8 60.9L162.3 61L160.3 62.6L161 65L158.9 63.6L156.8 65L157.5 62.6L155.6 61L158.1 60.9zM160.2 58.6L161.1 61L163.6 61.1L161.6 62.6L162.3 65.1L160.2 63.7L158.1 65.1L158.8 62.6L156.8 61.1L159.3 61zM161.4 58.7L162.3 61.1L164.8 61.2L162.9 62.7L163.5 65.1L161.4 63.8L159.4 65.1L160 62.7L158.1 61.2L160.6 61.1zM162.6 58.8L163.5 61.1L166 61.2L164.1 62.8L164.7 65.2L162.6 63.8L160.6 65.2L161.2 62.8L159.3 61.2L161.8 61.1zM163.8 58.9L164.7 61.2L167.2 61.3L165.2 62.9L165.9 65.3L163.8 63.9L161.7 65.3L162.4 62.9L160.4 61.3L162.9 61.2zM165 58.9L165.8 61.3L168.3 61.4L166.4 63L167 65.4L165 64L162.9 65.4L163.5 63L161.6 61.4L164.1 61.3zM166.1 59L166.9 61.4L169.4 61.5L167.5 63L168.1 65.4L166.1 64.1L164 65.4L164.6 63L162.7 61.5L165.2 61.4zM167.1 59.1L168 61.4L170.5 61.5L168.6 63.1L169.2 65.5L167.1 64.1L165.1 65.5L165.7 63.1L163.8 61.5L166.3 61.4zM168.2 59.1L169.1 61.5L171.6 61.6L169.6 63.2L170.3 65.6L168.2 64.2L166.1 65.6L166.8 63.2L164.8 61.6L167.3 61.5zM169.2 59.2L170.1 61.6L172.6 61.7L170.6 63.2L171.3 65.6L169.2 64.2L167.1 65.6L167.8 63.2L165.8 61.7L168.3 61.6zM170.2 59.3L171.1 61.6L173.6 61.7L171.6 63.3L172.3 65.7L170.2 64.3L168.1 65.7L168.8 63.3L166.9 61.7L169.4 61.6zM171.2 59.3L172.1 61.7L174.6 61.8L172.6 63.3L173.3 65.7L171.2 64.4L169.1 65.7L169.8 63.3L167.8 61.8L170.3 61.7zM172.2 59.4L173 61.7L175.5 61.8L173.6 63.4L174.3 65.8L172.2 64.4L170.1 65.8L170.8 63.4L168.8 61.8L171.3 61.7zM173.1 59.4L174 61.8L176.5 61.9L174.5 63.4L175.2 65.9L173.1 64.5L171 65.9L171.7 63.4L169.7 61.9L172.2 61.8zM174 59.5L174.9 61.8L177.4 61.9L175.5 63.5L176.1 65.9L174 64.5L171.9 65.9L172.6 63.5L170.7 61.9L173.2 61.8zM174.9 59.5L175.8 61.9L178.3 62L176.4 63.5L177 66L174.9 64.6L172.8 66L173.5 63.5L171.6 62L174.1 61.9zM175.8 59.6L176.7 61.9L179.2 62L177.2 63.6L177.9 66L175.8 64.6L173.7 66L174.4 63.6L172.4 62L174.9 61.9zM176.7 59.6L177.6 62L180.1 62.1L178.1 63.7L178.8 66.1L176.7 64.7L174.6 66.1L175.3 63.7L173.3 62.1L175.8 62zM177.5 59.7L178.4 62L180.9 62.2L178.9 63.7L179.6 66.1L177.5 64.7L175.4 66.1L176.1 63.7L174.2 62.2L176.7 62zM178.4 59.8L179.2 62.1L181.7 62.2L179.8 63.8L180.4 66.2L178.4 64.8L176.3 66.2L176.9 63.8L175 62.2L177.5 62.1zM179.2 59.8L180.1 62.2L182.6 62.3L180.6 63.8L181.3 66.2L179.2 64.9L177.1 66.2L177.8 63.8L175.8 62.3L178.3 62.2zM180 59.9L180.9 62.2L183.4 62.3L181.4 63.9L182.1 66.3L180 64.9L177.9 66.3L178.6 63.9L176.6 62.3L179.1 62.2zM180.8 59.9L181.6 62.3L184.1 62.4L182.2 63.9L182.8 66.3L180.8 65L178.7 66.3L179.3 63.9L177.4 62.4L179.9 62.3zM181.5 60L182.4 62.3L184.9 62.4L183 64L183.6 66.4L181.5 65L179.4 66.4L180.1 64L178.2 62.4L180.7 62.3zM182.3 60L183.2 62.4L185.7 62.5L183.7 64L184.4 66.4L182.3 65.1L180.2 66.4L180.9 64L178.9 62.5L181.4 62.4zM183 60.1L183.9 62.4L186.4 62.5L184.5 64.1L185.1 66.5L183 65.1L181 66.5L181.6 64.1L179.7 62.5L182.2 62.4zM183.8 60.1L184.7 62.5L187.2 62.6L185.2 64.1L185.9 66.5L183.8 65.2L181.7 66.5L182.4 64.1L180.4 62.6L182.9 62.5zM184.5 60.2L185.4 62.5L187.9 62.6L185.9 64.2L186.6 66.6L184.5 65.2L182.4 66.6L183.1 64.2L181.1 62.6L183.6 62.5zM185.2 60.2L186.1 62.6L188.6 62.7L186.6 64.2L187.3 66.6L185.2 65.2L183.1 66.6L183.8 64.2L181.8 62.7L184.3 62.6zM185.9 60.3L186.8 62.6L189.3 62.7L187.3 64.3L188 66.7L185.9 65.3L183.8 66.7L184.5 64.3L182.5 62.7L185 62.6zM186.6 60.3L187.5 62.6L190 62.8L188 64.3L188.7 66.7L186.6 65.3L184.5 66.7L185.2 64.3L183.2 62.8L185.7 62.6zM187.3 60.3L188.1 62.7L190.6 62.8L188.7 64.4L189.4 66.8L187.3 65.4L185.2 66.8L185.8 64.4L183.9 62.8L186.4 62.7zM187.9 60.4L188.8 62.7L191.3 62.8L189.4 64.4L190 66.8L187.9 65.4L185.8 66.8L186.5 64.4L184.6 62.8L187.1 62.7zM188.6 60.4L189.5 62.8L192 62.9L190 64.4L190.7 66.8L188.6 65.5L186.5 66.8L187.2 64.4L185.2 62.9L187.7 62.8zM189.2 60.5L190.1 62.8L192.6 62.9L190.7 64.5L191.3 66.9L189.2 65.5L187.2 66.9L187.8 64.5L185.9 62.9L188.4 62.8zM189.9 60.5L190.8 62.9L193.3 63L191.3 64.5L192 66.9L189.9 65.5L187.8 66.9L188.5 64.5L186.5 63L189 62.9zM190.5 60.5L191.4 62.9L193.9 63L191.9 64.6L192.6 67L190.5 65.6L188.4 67L189.1 64.6L187.1 63L189.6 62.9zM191.1 60.6L192 62.9L194.5 63L192.5 64.6L193.2 67L191.1 65.6L189 67L189.7 64.6L187.7 63L190.2 62.9zM191.7 60.6L192.6 63L195.1 63.1L193.2 64.6L193.8 67L191.7 65.7L189.6 67L190.3 64.6L188.4 63.1L190.9 63zM192.3 60.7L193.2 63L195.7 63.1L193.8 64.7L194.4 67.1L192.3 65.7L190.2 67.1L190.9 64.7L189 63.1L191.5 63zM192.9 60.7L193.8 63L196.3 63.1L194.3 64.7L195 67.1L192.9 65.7L190.8 67.1L191.5 64.7L189.6 63.1L192.1 63zM193.5 60.7L194.4 63.1L196.9 63.2L194.9 64.7L195.6 67.1L193.5 65.8L191.4 67.1L192.1 64.7L190.1 63.2L192.6 63.1zM194.1 60.8L195 63.1L197.5 63.2L195.5 64.8L196.2 67.2L194.1 65.8L192 67.2L192.7 64.8L190.7 63.2L193.2 63.1zM194.7 60.8L195.5 63.1L198 63.2L196.1 64.8L196.8 67.2L194.7 65.8L192.6 67.2L193.2 64.8L191.3 63.2L193.8 63.1zM195.2 60.8L196.1 63.2L198.6 63.3L196.6 64.8L197.3 67.2L195.2 65.9L193.1 67.2L193.8 64.8L191.9 63.3L194.4 63.2zM195.8 60.8L196.7 63.2L199.2 63.3L197.2 64.9L197.9 67.3L195.8 65.9L193.7 67.3L194.4 64.9L192.4 63.3L194.9 63.2zM196.3 60.9L197.2 63.2L199.7 63.3L197.8 64.9L198.4 67.3L196.3 65.9L194.2 67.3L194.9 64.9L193 63.3L195.5 63.2zM196.9 60.9L197.8 63.2L200.3 63.4L198.3 64.9L199 67.3L196.9 65.9L194.8 67.3L195.5 64.9L193.5 63.4L196 63.2zM197.4 60.9L198.3 63.3L200.8 63.4L198.8 64.9L199.5 67.4L197.4 66L195.3 67.4L196 64.9L194 63.4L196.5 63.3zM197.9 61L198.8 63.3L201.3 63.4L199.4 65L200 67.4L197.9 66L195.9 67.4L196.5 65L194.6 63.4L197.1 63.3zM198.5 61L199.3 63.3L201.8 63.4L199.9 65L200.6 67.4L198.5 66L196.4 67.4L197 65L195.1 63.4L197.6 63.3zM199 61L199.9 63.3L202.4 63.5L200.4 65L201.1 67.4L199 66L196.9 67.4L197.6 65L195.6 63.5L198.1 63.3zM199.5 61L200.4 63.4L202.9 63.5L200.9 65L201.6 67.5L199.5 66.1L197.4 67.5L198.1 65L196.1 63.5L198.6 63.4zM200 61.1L200.9 63.4L203.4 63.5L201.4 65.1L202.1 67.5L200 66.1L197.9 67.5L198.6 65.1L196.6 63.5L199.1 63.4zM200.5 61.1L201.4 63.4L203.9 63.5L201.9 65.1L202.6 67.5L200.5 66.1L198.4 67.5L199.1 65.1L197.1 63.5L199.6 63.4zM201 61.1L201.9 63.4L204.4 63.5L202.4 65.1L203.1 67.5L201 66.1L198.9 67.5L199.6 65.1L197.6 63.5L200.1 63.4zM201.5 61.1L202.4 63.5L204.9 63.6L202.9 65.1L203.6 67.5L201.5 66.2L199.4 67.5L200.1 65.1L198.1 63.6L200.6 63.5zM202 61.1L202.8 63.5L205.3 63.6L203.4 65.1L204.1 67.6L202 66.2L199.9 67.6L200.5 65.1L198.6 63.6L201.1 63.5zM202.4 61.2L203.3 63.5L205.8 63.6L203.9 65.2L204.5 67.6L202.4 66.2L200.4 67.6L201 65.2L199.1 63.6L201.6 63.5zM202.9 61.2L203.8 63.5L206.3 63.6L204.3 65.2L205 67.6L202.9 66.2L200.8 67.6L201.5 65.2L199.5 63.6L202 63.5zM203.4 61.2L204.3 63.5L206.8 63.6L204.8 65.2L205.5 67.6L203.4 66.2L201.3 67.6L202 65.2L200 63.6L202.5 63.5zM203.8 61.2L204.7 63.6L207.2 63.7L205.3 65.2L205.9 67.6L203.8 66.2L201.8 67.6L202.4 65.2L200.5 63.7L203 63.6zM204.3 61.2L205.2 63.6L207.7 63.7L205.7 65.2L206.4 67.6L204.3 66.3L202.2 67.6L202.9 65.2L200.9 63.7L203.4 63.6zM204.8 61.2L205.6 63.6L208.1 63.7L206.2 65.3L206.8 67.7L204.8 66.3L202.7 67.7L203.3 65.3L201.4 63.7L203.9 63.6zM205.2 61.3L206.1 63.6L208.6 63.7L206.6 65.3L207.3 67.7L205.2 66.3L203.1 67.7L203.8 65.3L201.8 63.7L204.3 63.6zM205.7 61.3L206.5 63.6L209 63.7L207.1 65.3L207.7 67.7L205.7 66.3L203.6 67.7L204.2 65.3L202.3 63.7L204.8 63.6zM206.1 61.3L207 63.6L209.5 63.7L207.5 65.3L208.2 67.7L206.1 66.3L204 67.7L204.7 65.3L202.7 63.7L205.2 63.6zM206.5 61.3L207.4 63.7L209.9 63.8L207.9 65.3L208.6 67.7L206.5 66.3L204.4 67.7L205.1 65.3L203.2 63.8L205.7 63.7zM207 61.3L207.8 63.7L210.3 63.8L208.4 65.3L209 67.7L207 66.4L204.9 67.7L205.5 65.3L203.6 63.8L206.1 63.7zM207.4 61.3L208.3 63.7L210.8 63.8L208.8 65.3L209.5 67.8L207.4 66.4L205.3 67.8L206 65.3L204 63.8L206.5 63.7zM207.8 61.4L208.7 63.7L211.2 63.8L209.2 65.4L209.9 67.8L207.8 66.4L205.7 67.8L206.4 65.4L204.4 63.8L206.9 63.7zM208.2 61.4L209.1 63.7L211.6 63.8L209.6 65.4L210.3 67.8L208.2 66.4L206.1 67.8L206.8 65.4L204.9 63.8L207.4 63.7zM212.2 61.5L213.1 63.8L215.6 64L213.6 65.5L214.3 67.9L212.2 66.5L210.1 67.9L210.8 65.5L208.8 64L211.3 63.8zM215.9 61.6L216.8 64L219.3 64.1L217.3 65.6L218 68L215.9 66.7L213.8 68L214.5 65.6L212.5 64.1L215 64zM219.3 61.7L220.1 64.1L222.6 64.2L220.7 65.7L221.4 68.1L219.3 66.8L217.2 68.1L217.8 65.7L215.9 64.2L218.4 64.1zM222.4 61.8L223.3 64.2L225.8 64.3L223.8 65.8L224.5 68.2L222.4 66.9L220.3 68.2L221 65.8L219 64.3L221.5 64.2zM225.3 61.9L226.2 64.3L228.7 64.4L226.8 65.9L227.4 68.3L225.3 66.9L223.3 68.3L223.9 65.9L222 64.4L224.5 64.3zM228.1 62L229 64.3L231.5 64.4L229.5 66L230.2 68.4L228.1 67L226 68.4L226.7 66L224.7 64.4L227.2 64.3zM230.7 62.1L231.6 64.4L234.1 64.5L232.1 66.1L232.8 68.5L230.7 67.1L228.6 68.5L229.3 66.1L227.3 64.5L229.8 64.4zM233.2 62.1L234 64.5L236.5 64.6L234.6 66.2L235.2 68.6L233.2 67.2L231.1 68.6L231.7 66.2L229.8 64.6L232.3 64.5zM235.5 62.2L236.4 64.6L238.9 64.7L236.9 66.2L237.6 68.6L235.5 67.3L233.4 68.6L234.1 66.2L232.1 64.7L234.6 64.6zM237.7 62.3L238.6 64.6L241.1 64.7L239.1 66.3L239.8 68.7L237.7 67.3L235.6 68.7L236.3 66.3L234.3 64.7L236.8 64.6zM239.8 62.3L240.7 64.7L243.2 64.8L241.2 66.4L241.9 68.8L239.8 67.4L237.7 68.8L238.4 66.4L236.4 64.8L238.9 64.7zM241.8 62.4L242.7 64.7L245.2 64.9L243.3 66.4L243.9 68.8L241.8 67.4L239.8 68.8L240.4 66.4L238.5 64.9L241 64.7zM243.8 62.5L244.6 64.8L247.1 64.9L245.2 66.5L245.9 68.9L243.8 67.5L241.7 68.9L242.4 66.5L240.4 64.9L242.9 64.8zM245.6 62.5L246.5 64.9L249 65L247 66.5L247.7 68.9L245.6 67.6L243.5 68.9L244.2 66.5L242.2 65L244.7 64.9zM247.4 62.6L248.3 64.9L250.8 65L248.8 66.6L249.5 69L247.4 67.6L245.3 69L246 66.6L244 65L246.5 64.9zM249.1 62.6L250 65L252.5 65.1L250.5 66.6L251.2 69L249.1 67.7L247 69L247.7 66.6L245.7 65.1L248.2 65zM250.8 62.7L251.6 65L254.1 65.1L252.2 66.7L252.9 69.1L250.8 67.7L248.7 69.1L249.4 66.7L247.4 65.1L249.9 65zM252.4 62.7L253.2 65.1L255.7 65.2L253.8 66.7L254.5 69.2L252.4 67.8L250.3 69.2L250.9 66.7L249 65.2L251.5 65.1zM253.9 62.8L254.8 65.1L257.3 65.2L255.3 66.8L256 69.2L253.9 67.8L251.8 69.2L252.5 66.8L250.5 65.2L253 65.1zM255.4 62.8L256.3 65.2L258.8 65.3L256.8 66.8L257.5 69.3L255.4 67.9L253.3 69.3L254 66.8L252 65.3L254.5 65.2zM256.8 62.9L257.7 65.2L260.2 65.3L258.3 66.9L258.9 69.3L256.8 67.9L254.7 69.3L255.4 66.9L253.5 65.3L256 65.2zM258.2 62.9L259.1 65.3L261.6 65.4L259.7 66.9L260.3 69.3L258.2 68L256.1 69.3L256.8 66.9L254.9 65.4L257.4 65.3zM259.6 63L260.5 65.3L263 65.4L261 67L261.7 69.4L259.6 68L257.5 69.4L258.2 67L256.2 65.4L258.7 65.3zM260.9 63L261.8 65.4L264.3 65.5L262.3 67L263 69.4L260.9 68.1L258.8 69.4L259.5 67L257.5 65.5L260 65.4zM262.2 63.1L263.1 65.4L265.6 65.5L263.6 67.1L264.3 69.5L262.2 68.1L260.1 69.5L260.8 67.1L258.8 65.5L261.3 65.4zM263.4 63.1L264.3 65.5L266.8 65.6L264.9 67.1L265.5 69.5L263.4 68.1L261.3 69.5L262 67.1L260.1 65.6L262.6 65.5zM264.6 63.2L265.5 65.5L268 65.6L266.1 67.2L266.7 69.6L264.6 68.2L262.6 69.6L263.2 67.2L261.3 65.6L263.8 65.5zM265.8 63.2L266.7 65.5L269.2 65.6L267.2 67.2L267.9 69.6L265.8 68.2L263.7 69.6L264.4 67.2L262.5 65.6L265 65.5zM267 63.2L267.9 65.6L270.4 65.7L268.4 67.2L269.1 69.7L267 68.3L264.9 69.7L265.6 67.2L263.6 65.7L266.1 65.6zM268.1 63.3L269 65.6L271.5 65.7L269.5 67.3L270.2 69.7L268.1 68.3L266 69.7L266.7 67.3L264.7 65.7L267.2 65.6zM269.2 63.3L270.1 65.7L272.6 65.8L270.6 67.3L271.3 69.7L269.2 68.4L267.1 69.7L267.8 67.3L265.8 65.8L268.3 65.7zM270.3 63.4L271.2 65.7L273.7 65.8L271.7 67.4L272.4 69.8L270.3 68.4L268.2 69.8L268.9 67.4L266.9 65.8L269.4 65.7zM271.3 63.4L272.2 65.7L274.7 65.9L272.7 67.4L273.4 69.8L271.3 68.4L269.2 69.8L269.9 67.4L267.9 65.9L270.4 65.7zM272.3 63.4L273.2 65.8L275.7 65.9L273.8 67.4L274.4 69.9L272.3 68.5L270.3 69.9L270.9 67.4L269 65.9L271.5 65.8zM273.3 63.5L274.2 65.8L276.7 65.9L274.8 67.5L275.4 69.9L273.3 68.5L271.3 69.9L271.9 67.5L270 65.9L272.5 65.8zM274.3 63.5L275.2 65.9L277.7 66L275.7 67.5L276.4 69.9L274.3 68.6L272.2 69.9L272.9 67.5L271 66L273.5 65.9zM275.3 63.6L276.2 65.9L278.7 66L276.7 67.6L277.4 70L275.3 68.6L273.2 70L273.9 67.6L271.9 66L274.4 65.9zM276.2 63.6L277.1 65.9L279.6 66.1L277.6 67.6L278.3 70L276.2 68.6L274.1 70L274.8 67.6L272.9 66.1L275.4 65.9zM277.1 63.6L278 66L280.5 66.1L278.6 67.6L279.2 70.1L277.1 68.7L275.1 70.1L275.7 67.6L273.8 66.1L276.3 66zM278.1 63.7L278.9 66L281.4 66.1L279.5 67.7L280.1 70.1L278.1 68.7L276 70.1L276.6 67.7L274.7 66.1L277.2 66zM278.9 63.7L279.8 66.1L282.3 66.2L280.4 67.7L281 70.1L278.9 68.8L276.9 70.1L277.5 67.7L275.6 66.2L278.1 66.1zM279.8 63.8L280.7 66.1L283.2 66.2L281.2 67.8L281.9 70.2L279.8 68.8L277.7 70.2L278.4 67.8L276.4 66.2L278.9 66.1zM280.7 63.8L281.5 66.1L284 66.2L282.1 67.8L282.7 70.2L280.7 68.8L278.6 70.2L279.2 67.8L277.3 66.2L279.8 66.1zM281.5 63.8L282.4 66.2L284.9 66.3L282.9 67.8L283.6 70.3L281.5 68.9L279.4 70.3L280.1 67.8L278.1 66.3L280.6 66.2zM282.3 63.9L283.2 66.2L285.7 66.3L283.7 67.9L284.4 70.3L282.3 68.9L280.2 70.3L280.9 67.9L278.9 66.3L281.4 66.2zM283.1 63.9L284 66.2L286.5 66.4L284.5 67.9L285.2 70.3L283.1 68.9L281 70.3L281.7 67.9L279.8 66.4L282.3 66.2zM283.9 63.9L284.8 66.3L287.3 66.4L285.3 68L286 70.4L283.9 69L281.8 70.4L282.5 68L280.5 66.4L283 66.3zM284.7 64L285.6 66.3L288.1 66.4L286.1 68L286.8 70.4L284.7 69L282.6 70.4L283.3 68L281.3 66.4L283.8 66.3zM285.5 64L286.4 66.4L288.9 66.5L286.9 68L287.6 70.4L285.5 69.1L283.4 70.4L284.1 68L282.1 66.5L284.6 66.4zM286.2 64.1L287.1 66.4L289.6 66.5L287.6 68.1L288.3 70.5L286.2 69.1L284.1 70.5L284.8 68.1L282.9 66.5L285.4 66.4zM287 64.1L287.9 66.4L290.4 66.5L288.4 68.1L289.1 70.5L287 69.1L284.9 70.5L285.6 68.1L283.6 66.5L286.1 66.4zM287.7 64.1L288.6 66.5L291.1 66.6L289.1 68.1L289.8 70.6L287.7 69.2L285.6 70.6L286.3 68.1L284.3 66.6L286.8 66.5zM288.4 64.2L289.3 66.5L291.8 66.6L289.8 68.2L290.5 70.6L288.4 69.2L286.3 70.6L287 68.2L285.1 66.6L287.5 66.5zM289.1 64.2L290 66.6L292.5 66.7L290.6 68.2L291.2 70.6L289.1 69.3L287 70.6L287.7 68.2L285.8 66.7L288.3 66.6zM289.8 64.3L290.7 66.6L293.2 66.7L291.3 68.3L291.9 70.7L289.8 69.3L287.7 70.7L288.4 68.3L286.5 66.7L289 66.6zM290.5 64.3L291.4 66.6L293.9 66.7L291.9 68.3L292.6 70.7L290.5 69.3L288.4 70.7L289.1 68.3L287.1 66.7L289.6 66.6zM291.2 64.3L292.1 66.7L294.6 66.8L292.6 68.3L293.3 70.8L291.2 69.4L289.1 70.8L289.8 68.3L287.8 66.8L290.3 66.7zM291.9 64.4L292.7 66.7L295.2 66.8L293.3 68.4L294 70.8L291.9 69.4L289.8 70.8L290.5 68.4L288.5 66.8L291 66.7zM292.5 64.4L293.4 66.8L295.9 66.9L293.9 68.4L294.6 70.8L292.5 69.5L290.4 70.8L291.1 68.4L289.2 66.9L291.7 66.8zM293.2 64.5L294.1 66.8L296.6 66.9L294.6 68.5L295.3 70.9L293.2 69.5L291.1 70.9L291.8 68.5L289.8 66.9L292.3 66.8zM293.8 64.5L294.7 66.8L297.2 66.9L295.2 68.5L295.9 70.9L293.8 69.5L291.7 70.9L292.4 68.5L290.4 66.9L292.9 66.8zM294.5 64.5L295.3 66.9L297.8 67L295.9 68.5L296.5 71L294.5 69.6L292.4 71L293 68.5L291.1 67L293.6 66.9zM295.1 64.6L296 66.9L298.5 67L296.5 68.6L297.2 71L295.1 69.6L293 71L293.7 68.6L291.7 67L294.2 66.9zM295.7 64.6L296.6 67L299.1 67.1L297.1 68.6L297.8 71L295.7 69.7L293.6 71L294.3 68.6L292.3 67.1L294.8 67zM296.3 64.7L297.2 67L299.7 67.1L297.7 68.7L298.4 71.1L296.3 69.7L294.2 71.1L294.9 68.7L292.9 67.1L295.4 67zM296.9 64.7L297.8 67L300.3 67.2L298.3 68.7L299 71.1L296.9 69.7L294.8 71.1L295.5 68.7L293.5 67.2L296 67zM297.5 64.7L298.4 67.1L300.9 67.2L298.9 68.8L299.6 71.2L297.5 69.8L295.4 71.2L296.1 68.8L294.1 67.2L296.6 67.1zM298.1 64.8L299 67.1L301.5 67.2L299.5 68.8L300.2 71.2L298.1 69.8L296 71.2L296.7 68.8L294.7 67.2L297.2 67.1zM298.7 64.8L299.5 67.2L302 67.3L300.1 68.8L300.7 71.3L298.7 69.9L296.6 71.3L297.2 68.8L295.3 67.3L297.8 67.2zM299.2 64.9L300.1 67.2L302.6 67.3L300.6 68.9L301.3 71.3L299.2 69.9L297.1 71.3L297.8 68.9L295.8 67.3L298.3 67.2zM299.8 64.9L300.7 67.3L303.2 67.4L301.2 68.9L301.9 71.3L299.8 70L297.7 71.3L298.4 68.9L296.4 67.4L298.9 67.3zM300.3 65L301.2 67.3L303.7 67.4L301.8 69L302.4 71.4L300.3 70L298.3 71.4L298.9 69L297 67.4L299.5 67.3zM300.9 65L301.8 67.3L304.3 67.5L302.3 69L303 71.4L300.9 70L298.8 71.4L299.5 69L297.5 67.5L300 67.3zM301.4 65L302.3 67.4L304.8 67.5L302.9 69.1L303.5 71.5L301.4 70.1L299.3 71.5L300 69.1L298.1 67.5L300.6 67.4zM302 65.1L302.8 67.4L305.3 67.5L303.4 69.1L304.1 71.5L302 70.1L299.9 71.5L300.6 69.1L298.6 67.5L301.1 67.4zM302.5 65.1L303.4 67.5L305.9 67.6L303.9 69.1L304.6 71.6L302.5 70.2L300.4 71.6L301.1 69.1L299.1 67.6L301.6 67.5zM303 65.2L303.9 67.5L306.4 67.6L304.4 69.2L305.1 71.6L303 70.2L300.9 71.6L301.6 69.2L299.7 67.6L302.2 67.5zM303.5 65.2L304.4 67.6L306.9 67.7L305 69.2L305.6 71.6L303.5 70.3L301.5 71.6L302.1 69.2L300.2 67.7L302.7 67.6zM304.1 65.3L304.9 67.6L307.4 67.7L305.5 69.3L306.1 71.7L304.1 70.3L302 71.7L302.6 69.3L300.7 67.7L303.2 67.6zM304.6 65.3L305.4 67.6L307.9 67.7L306 69.3L306.7 71.7L304.6 70.3L302.5 71.7L303.2 69.3L301.2 67.7L303.7 67.6zM305.1 65.3L305.9 67.7L308.4 67.8L306.5 69.3L307.2 71.8L305.1 70.4L303 71.8L303.7 69.3L301.7 67.8L304.2 67.7zM305.6 65.4L306.4 67.7L308.9 67.8L307 69.4L307.7 71.8L305.6 70.4L303.5 71.8L304.2 69.4L302.2 67.8L304.7 67.7zM306.1 65.4L306.9 67.8L309.4 67.9L307.5 69.4L308.1 71.8L306.1 70.5L304 71.8L304.6 69.4L302.7 67.9L305.2 67.8zM306.5 65.5L307.4 67.8L309.9 67.9L308 69.5L308.6 71.9L306.5 70.5L304.5 71.9L305.1 69.5L303.2 67.9L305.7 67.8zM307 65.5L307.9 67.8L310.4 68L308.4 69.5L309.1 71.9L307 70.5L304.9 71.9L305.6 69.5L303.7 68L306.2 67.8zM307.5 65.5L308.4 67.9L310.9 68L308.9 69.5L309.6 72L307.5 70.6L305.4 72L306.1 69.5L304.1 68L306.6 67.9zM308 65.6L308.9 67.9L311.4 68L309.4 69.6L310.1 72L308 70.6L305.9 72L306.6 69.6L304.6 68L307.1 67.9zM308.4 65.6L309.3 68L311.8 68.1L309.9 69.6L310.5 72L308.4 70.7L306.4 72L307 69.6L305.1 68.1L307.6 68zM308.9 65.7L309.8 68L312.3 68.1L310.3 69.7L311 72.1L308.9 70.7L306.8 72.1L307.5 69.7L305.5 68.1L308 68zM309.4 65.7L310.2 68L312.7 68.1L310.8 69.7L311.5 72.1L309.4 70.7L307.3 72.1L307.9 69.7L306 68.1L308.5 68zM313.7 66.1L314.6 68.4L317.1 68.5L315.1 70.1L315.8 72.5L313.7 71.1L311.6 72.5L312.3 70.1L310.3 68.5L312.8 68.4zM317.7 66.4L318.6 68.8L321.1 68.9L319.1 70.4L319.8 72.9L317.7 71.5L315.6 72.9L316.3 70.4L314.3 68.9L316.8 68.8zM321.4 66.8L322.2 69.1L324.7 69.2L322.8 70.8L323.5 73.2L321.4 71.8L319.3 73.2L319.9 70.8L318 69.2L320.5 69.1zM324.8 67.2L325.6 69.5L328.1 69.6L326.2 71.2L326.9 73.6L324.8 72.2L322.7 73.6L323.4 71.2L321.4 69.6L323.9 69.5zM327.9 67.5L328.8 69.9L331.3 70L329.4 71.5L330 73.9L327.9 72.6L325.9 73.9L326.5 71.5L324.6 70L327.1 69.9zM330.9 67.9L331.8 70.2L334.3 70.4L332.3 71.9L333 74.3L330.9 72.9L328.8 74.3L329.5 71.9L327.5 70.4L330 70.2zM333.7 68.3L334.6 70.6L337.1 70.8L335.1 72.3L335.8 74.7L333.7 73.3L331.6 74.7L332.3 72.3L330.3 70.8L332.8 70.6zM336.3 68.7L337.2 71.1L339.7 71.2L337.8 72.8L338.4 75.2L336.3 73.8L334.3 75.2L334.9 72.8L333 71.2L335.5 71.1zM338.8 69.2L339.7 71.6L342.2 71.7L340.3 73.2L340.9 75.6L338.8 74.3L336.8 75.6L337.4 73.2L335.5 71.7L338 71.6zM341.2 69.7L342.1 72L344.6 72.2L342.6 73.7L343.3 76.1L341.2 74.7L339.1 76.1L339.8 73.7L337.8 72.2L340.3 72zM343.5 70.2L344.4 72.5L346.9 72.6L344.9 74.2L345.6 76.6L343.5 75.2L341.4 76.6L342.1 74.2L340.1 72.6L342.6 72.5zM345.6 70.7L346.5 73L349 73.1L347.1 74.7L347.7 77.1L345.6 75.7L343.6 77.1L344.2 74.7L342.3 73.1L344.8 73zM347.7 71.1L348.6 73.5L351.1 73.6L349.1 75.1L349.8 77.6L347.7 76.2L345.6 77.6L346.3 75.1L344.3 73.6L346.8 73.5zM349.7 71.6L350.6 73.9L353.1 74L351.1 75.6L351.8 78L349.7 76.6L347.6 78L348.3 75.6L346.3 74L348.8 73.9zM351.6 72L352.5 74.4L355 74.5L353 76L353.7 78.5L351.6 77.1L349.5 78.5L350.2 76L348.2 74.5L350.7 74.4zM353.4 72.5L354.3 74.8L356.8 74.9L354.8 76.5L355.5 78.9L353.4 77.5L351.3 78.9L352 76.5L350 74.9L352.5 74.8zM355.2 72.9L356 75.3L358.5 75.4L356.6 76.9L357.2 79.4L355.2 78L353.1 79.4L353.7 76.9L351.8 75.4L354.3 75.3zM356.8 73.4L357.7 75.7L360.2 75.8L358.3 77.4L358.9 79.8L356.8 78.4L354.8 79.8L355.4 77.4L353.5 75.8L356 75.7zM358.5 73.8L359.4 76.2L361.9 76.3L359.9 77.8L360.6 80.2L358.5 78.9L356.4 80.2L357.1 77.8L355.1 76.3L357.6 76.2zM360.1 74.3L360.9 76.6L363.4 76.7L361.5 78.3L362.2 80.7L360.1 79.3L358 80.7L358.6 78.3L356.7 76.7L359.2 76.6zM361.6 74.7L362.5 77.1L365 77.2L363 78.7L363.7 81.1L361.6 79.8L359.5 81.1L360.2 78.7L358.2 77.2L360.7 77.1zM363.1 75.2L364 77.5L366.5 77.6L364.5 79.2L365.2 81.6L363.1 80.2L361 81.6L361.7 79.2L359.7 77.6L362.2 77.5zM364.5 75.6L365.4 77.9L367.9 78.1L365.9 79.6L366.6 82L364.5 80.6L362.4 82L363.1 79.6L361.1 78.1L363.6 77.9zM365.9 76L366.8 78.4L369.3 78.5L367.3 80.1L368 82.5L365.9 81.1L363.8 82.5L364.5 80.1L362.5 78.5L365 78.4zM367.3 76.5L368.1 78.8L370.6 79L368.7 80.5L369.4 82.9L367.3 81.5L365.2 82.9L365.8 80.5L363.9 79L366.4 78.8zM368.6 77L369.5 79.3L372 79.4L370 81L370.7 83.4L368.6 82L366.5 83.4L367.2 81L365.2 79.4L367.7 79.3zM369.9 77.4L370.7 79.8L373.2 79.9L371.3 81.5L372 83.9L369.9 82.5L367.8 83.9L368.4 81.5L366.5 79.9L369 79.8zM371.1 77.9L372 80.3L374.5 80.4L372.5 81.9L373.2 84.3L371.1 83L369 84.3L369.7 81.9L367.7 80.4L370.2 80.3zM372.3 78.4L373.2 80.7L375.7 80.8L373.8 82.4L374.4 84.8L372.3 83.4L370.2 84.8L370.9 82.4L369 80.8L371.5 80.7zM373.5 78.8L374.4 81.2L376.9 81.3L374.9 82.9L375.6 85.3L373.5 83.9L371.4 85.3L372.1 82.9L370.1 81.3L372.6 81.2zM374.7 79.3L375.6 81.6L378.1 81.8L376.1 83.3L376.8 85.7L374.7 84.3L372.6 85.7L373.3 83.3L371.3 81.8L373.8 81.6zM375.8 79.8L376.7 82.1L379.2 82.2L377.2 83.8L377.9 86.2L375.8 84.8L373.7 86.2L374.4 83.8L372.4 82.2L374.9 82.1zM376.9 80.2L377.8 82.5L380.3 82.6L378.3 84.2L379 86.6L376.9 85.2L374.8 86.6L375.5 84.2L373.5 82.6L376 82.5zM378 80.6L378.9 83L381.4 83.1L379.4 84.6L380.1 87L378 85.7L375.9 87L376.6 84.6L374.6 83.1L377.1 83zM379 81L379.9 83.4L382.4 83.5L380.5 85.1L381.1 87.5L379 86.1L377 87.5L377.6 85.1L375.7 83.5L378.2 83.4zM380.1 81.5L381 83.8L383.5 83.9L381.5 85.5L382.2 87.9L380.1 86.5L378 87.9L378.7 85.5L376.7 83.9L379.2 83.8zM381.1 81.9L382 84.2L384.5 84.4L382.5 85.9L383.2 88.3L381.1 86.9L379 88.3L379.7 85.9L377.7 84.4L380.2 84.2zM382.1 82.3L383 84.7L385.5 84.8L383.5 86.4L384.2 88.8L382.1 87.4L380 88.8L380.7 86.4L378.7 84.8L381.2 84.7zM383 82.8L383.9 85.1L386.4 85.2L384.5 86.8L385.1 89.2L383 87.8L381 89.2L381.6 86.8L379.7 85.2L382.2 85.1zM384 83.2L384.9 85.5L387.4 85.6L385.4 87.2L386.1 89.6L384 88.2L381.9 89.6L382.6 87.2L380.6 85.6L383.1 85.5zM384.9 83.6L385.8 86L388.3 86.1L386.3 87.6L387 90L384.9 88.7L382.8 90L383.5 87.6L381.6 86.1L384.1 86zM385.8 84L386.7 86.4L389.2 86.5L387.3 88L387.9 90.4L385.8 89.1L383.8 90.4L384.4 88L382.5 86.5L385 86.4zM386.7 84.4L387.6 86.8L390.1 86.9L388.2 88.4L388.8 90.9L386.7 89.5L384.7 90.9L385.3 88.4L383.4 86.9L385.9 86.8zM387.6 84.8L388.5 87.2L391 87.3L389 88.9L389.7 91.3L387.6 89.9L385.5 91.3L386.2 88.9L384.2 87.3L386.7 87.2zM388.5 85.2L389.4 87.6L391.9 87.7L389.9 89.3L390.6 91.7L388.5 90.3L386.4 91.7L387.1 89.3L385.1 87.7L387.6 87.6zM389.3 85.6L390.2 88L392.7 88.1L390.8 89.7L391.4 92.1L389.3 90.7L387.3 92.1L387.9 89.7L386 88.1L388.5 88zM390.2 86L391 88.4L393.5 88.5L391.6 90L392.3 92.5L390.2 91.1L388.1 92.5L388.8 90L386.8 88.5L389.3 88.4zM391 86.4L391.9 88.8L394.4 88.9L392.4 90.4L393.1 92.8L391 91.5L388.9 92.8L389.6 90.4L387.6 88.9L390.1 88.8zM391.8 86.8L392.7 89.2L395.2 89.3L393.2 90.8L393.9 93.2L391.8 91.9L389.7 93.2L390.4 90.8L388.4 89.3L390.9 89.2zM392.6 87.2L393.5 89.5L396 89.6L394 91.2L394.7 93.6L392.6 92.2L390.5 93.6L391.2 91.2L389.2 89.6L391.7 89.5zM393.4 87.6L394.2 89.9L396.7 90L394.8 91.6L395.5 94L393.4 92.6L391.3 94L392 91.6L390 90L392.5 89.9zM394.1 88L395 90.3L397.5 90.4L395.6 92L396.2 94.4L394.1 93L392.1 94.4L392.7 92L390.8 90.4L393.3 90.3zM394.9 88.4L395.8 90.7L398.3 90.8L396.3 92.4L397 94.8L394.9 93.4L392.8 94.8L393.5 92.4L391.5 90.8L394 90.7zM395.6 88.7L396.5 91.1L399 91.2L397.1 92.7L397.7 95.2L395.6 93.8L393.6 95.2L394.2 92.7L392.3 91.2L394.8 91.1zM396.4 89.1L397.2 91.5L399.7 91.6L397.8 93.1L398.5 95.5L396.4 94.2L394.3 95.5L395 93.1L393 91.6L395.5 91.5zM397.1 89.5L398 91.8L400.5 91.9L398.5 93.5L399.2 95.9L397.1 94.5L395 95.9L395.7 93.5L393.7 91.9L396.2 91.8zM397.8 89.9L398.7 92.2L401.2 92.3L399.2 93.9L399.9 96.3L397.8 94.9L395.7 96.3L396.4 93.9L394.4 92.3L396.9 92.2zM398.5 90.2L399.4 92.6L401.9 92.7L399.9 94.2L400.6 96.7L398.5 95.3L396.4 96.7L397.1 94.2L395.1 92.7L397.6 92.6zM399.2 90.6L400.1 92.9L402.6 93.1L400.6 94.6L401.3 97L399.2 95.6L397.1 97L397.8 94.6L395.8 93.1L398.3 92.9zM399.9 91L400.7 93.3L403.2 93.4L401.3 95L402 97.4L399.9 96L397.8 97.4L398.5 95L396.5 93.4L399 93.3zM400.5 91.3L401.4 93.7L403.9 93.8L402 95.3L402.6 97.7L400.5 96.4L398.5 97.7L399.1 95.3L397.2 93.8L399.7 93.7zM401.2 91.7L402.1 94L404.6 94.1L402.6 95.7L403.3 98.1L401.2 96.7L399.1 98.1L399.8 95.7L397.8 94.1L400.3 94zM401.9 92L402.7 94.4L405.2 94.5L403.3 96L403.9 98.5L401.9 97.1L399.8 98.5L400.4 96L398.5 94.5L401 94.4zM402.5 92.4L403.4 94.7L405.9 94.8L403.9 96.4L404.6 98.8L402.5 97.4L400.4 98.8L401.1 96.4L399.1 94.8L401.6 94.7zM403.1 92.7L404 95.1L406.5 95.2L404.6 96.7L405.2 99.2L403.1 97.8L401 99.2L401.7 96.7L399.8 95.2L402.3 95.1zM403.8 93.1L404.6 95.4L407.1 95.5L405.2 97.1L405.8 99.5L403.8 98.1L401.7 99.5L402.3 97.1L400.4 95.5L402.9 95.4zM404.4 93.4L405.3 95.8L407.8 95.9L405.8 97.4L406.5 99.8L404.4 98.5L402.3 99.8L403 97.4L401 95.9L403.5 95.8zM405 93.8L405.9 96.1L408.4 96.2L406.4 97.8L407.1 100.2L405 98.8L402.9 100.2L403.6 97.8L401.6 96.2L404.1 96.1zM405.6 94.1L406.5 96.4L409 96.6L407 98.1L407.7 100.5L405.6 99.1L403.5 100.5L404.2 98.1L402.2 96.6L404.7 96.4zM406.2 94.4L407.1 96.8L409.6 96.9L407.6 98.4L408.3 100.9L406.2 99.5L404.1 100.9L404.8 98.4L402.8 96.9L405.3 96.8zM406.8 94.8L407.7 97.1L410.2 97.2L408.2 98.8L408.9 101.2L406.8 99.8L404.7 101.2L405.4 98.8L403.4 97.2L405.9 97.1zM407.4 95.1L408.2 97.4L410.7 97.5L408.8 99.1L409.4 101.5L407.4 100.1L405.3 101.5L405.9 99.1L404 97.5L406.5 97.4zM407.9 95.4L408.8 97.8L411.3 97.9L409.4 99.4L410 101.9L407.9 100.5L405.9 101.9L406.5 99.4L404.6 97.9L407.1 97.8zM408.5 95.8L409.4 98.1L411.9 98.2L409.9 99.8L410.6 102.2L408.5 100.8L406.4 102.2L407.1 99.8L405.1 98.2L407.6 98.1zM409.1 96.1L409.9 98.5L412.4 98.6L410.5 100.1L411.2 102.5L409.1 101.1L407 102.5L407.6 100.1L405.7 98.6L408.2 98.5zM409.6 96.4L410.5 98.8L413 98.9L411 100.5L411.7 102.9L409.6 101.5L407.5 102.9L408.2 100.5L406.2 98.9L408.7 98.8zM410.2 96.8L411 99.1L413.5 99.2L411.6 100.8L412.3 103.2L410.2 101.8L408.1 103.2L408.8 100.8L406.8 99.2L409.3 99.1zM410.7 97.1L411.6 99.5L414.1 99.6L412.1 101.1L412.8 103.5L410.7 102.2L408.6 103.5L409.3 101.1L407.3 99.6L409.8 99.5zM411.2 97.4L412.1 99.8L414.6 99.9L412.7 101.5L413.3 103.9L411.2 102.5L409.2 103.9L409.8 101.5L407.9 99.9L410.4 99.8zM411.8 97.8L412.7 100.1L415.2 100.2L413.2 101.8L413.9 104.2L411.8 102.8L409.7 104.2L410.4 101.8L408.4 100.2L410.9 100.1zM412.3 98.1L413.2 100.4L415.7 100.6L413.7 102.1L414.4 104.5L412.3 103.1L410.2 104.5L410.9 102.1L408.9 100.6L411.4 100.4zM412.8 98.4L413.7 100.8L416.2 100.9L414.2 102.4L414.9 104.8L412.8 103.5L410.7 104.8L411.4 102.4L409.4 100.9L411.9 100.8zM413.3 98.7L414.2 101.1L416.7 101.2L414.8 102.8L415.4 105.2L413.3 103.8L411.2 105.2L411.9 102.8L410 101.2L412.5 101.1zM413.8 99.1L414.7 101.4L417.2 101.5L415.3 103.1L415.9 105.5L413.8 104.1L411.8 105.5L412.4 103.1L410.5 101.5L413 101.4zM414.3 99.4L415.2 101.7L417.7 101.8L415.8 103.4L416.4 105.8L414.3 104.4L412.3 105.8L412.9 103.4L411 101.8L413.5 101.7zM414.8 99.7L415.7 102L418.2 102.1L416.3 103.7L416.9 106.1L414.8 104.7L412.8 106.1L413.4 103.7L411.5 102.1L414 102zM415.3 100L416.2 102.4L418.7 102.5L416.8 104L417.4 106.4L415.3 105L413.2 106.4L413.9 104L412 102.5L414.5 102.4zM415.8 100.3L416.7 102.7L419.2 102.8L417.2 104.3L417.9 106.7L415.8 105.4L413.7 106.7L414.4 104.3L412.4 102.8L414.9 102.7zM416.3 100.6L417.2 103L419.7 103.1L417.7 104.6L418.4 107L416.3 105.7L414.2 107L414.9 104.6L412.9 103.1L415.4 103zM416.8 100.9L417.7 103.2L420.2 103.4L418.2 104.9L418.9 107.3L416.8 105.9L414.7 107.3L415.4 104.9L413.4 103.4L415.9 103.2zM417.3 101.2L418.1 103.5L420.6 103.7L418.7 105.2L419.3 107.6L417.3 106.2L415.2 107.6L415.8 105.2L413.9 103.7L416.4 103.5zM417.7 101.5L418.6 103.8L421.1 103.9L419.1 105.5L419.8 107.9L417.7 106.5L415.6 107.9L416.3 105.5L414.3 103.9L416.8 103.8zM418.2 101.8L419.1 104.1L421.6 104.2L419.6 105.8L420.3 108.2L418.2 106.8L416.1 108.2L416.8 105.8L414.8 104.2L417.3 104.1zM418.6 102.1L419.5 104.4L422 104.5L420.1 106.1L420.7 108.5L418.6 107.1L416.6 108.5L417.2 106.1L415.3 104.5L417.8 104.4zM419.1 102.4L420 104.7L422.5 104.8L420.5 106.4L421.2 108.8L419.1 107.4L417 108.8L417.7 106.4L415.7 104.8L418.2 104.7zM419.6 102.6L420.4 105L422.9 105.1L421 106.6L421.6 109.1L419.6 107.7L417.5 109.1L418.1 106.6L416.2 105.1L418.7 105zM420 102.9L420.9 105.3L423.4 105.4L421.4 106.9L422.1 109.3L420 108L417.9 109.3L418.6 106.9L416.6 105.4L419.1 105.3zM420.4 103.2L421.3 105.5L423.8 105.7L421.9 107.2L422.5 109.6L420.4 108.2L418.4 109.6L419 107.2L417.1 105.7L419.6 105.5zM420.9 103.5L421.8 105.8L424.3 105.9L422.3 107.5L423 109.9L420.9 108.5L418.8 109.9L419.5 107.5L417.5 105.9L420 105.8zM421.3 103.8L422.2 106.1L424.7 106.2L422.7 107.8L423.4 110.2L421.3 108.8L419.2 110.2L419.9 107.8L417.9 106.2L420.4 106.1zM421.7 104L422.6 106.4L425.1 106.5L423.2 108L423.8 110.5L421.7 109.1L419.7 110.5L420.3 108L418.4 106.5L420.9 106.4zM422.2 104.3L423 106.7L425.5 106.8L423.6 108.3L424.3 110.7L422.2 109.3L420.1 110.7L420.8 108.3L418.8 106.8L421.3 106.7zM422.6 104.6L423.5 106.9L426 107L424 108.6L424.7 111L422.6 109.6L420.5 111L421.2 108.6L419.2 107L421.7 106.9zM423 104.9L423.9 107.2L426.4 107.3L424.4 108.9L425.1 111.3L423 109.9L420.9 111.3L421.6 108.9L419.6 107.3L422.1 107.2zM423.4 105.1L424.3 107.5L426.8 107.6L424.8 109.1L425.5 111.6L423.4 110.2L421.3 111.6L422 109.1L420.1 107.6L422.6 107.5zM423.8 105.4L424.7 107.7L427.2 107.9L425.3 109.4L425.9 111.8L423.8 110.4L421.8 111.8L422.4 109.4L420.5 107.9L423 107.7zM424.2 105.7L425.1 108L427.6 108.1L425.7 109.7L426.3 112.1L424.2 110.7L422.2 112.1L422.8 109.7L420.9 108.1L423.4 108zM424.7 105.9L425.5 108.3L428 108.4L426.1 110L426.7 112.4L424.7 111L422.6 112.4L423.2 110L421.3 108.4L423.8 108.3zM425.1 106.2L425.9 108.6L428.4 108.7L426.5 110.2L427.1 112.6L425.1 111.3L423 112.6L423.6 110.2L421.7 108.7L424.2 108.6zM425.5 106.5L426.3 108.8L428.8 108.9L426.9 110.5L427.5 112.9L425.5 111.5L423.4 112.9L424 110.5L422.1 108.9L424.6 108.8zM425.9 106.7L426.7 109.1L429.2 109.2L427.3 110.8L427.9 113.2L425.9 111.8L423.8 113.2L424.4 110.8L422.5 109.2L425 109.1zM426.2 107L427.1 109.3L429.6 109.5L427.7 111L428.3 113.4L426.2 112L424.2 113.4L424.8 111L422.9 109.5L425.4 109.3zM426.6 107.3L427.5 109.6L430 109.7L428 111.3L428.7 113.7L426.6 112.3L424.5 113.7L425.2 111.3L423.3 109.7L425.8 109.6zM427 107.5L427.9 109.8L430.4 110L428.4 111.5L429.1 113.9L427 112.5L424.9 113.9L425.6 111.5L423.6 110L426.1 109.8zM427.4 107.8L428.3 110.1L430.8 110.2L428.8 111.8L429.5 114.2L427.4 112.8L425.3 114.2L426 111.8L424 110.2L426.5 110.1zM427.8 108L428.7 110.4L431.2 110.5L429.2 112L429.9 114.4L427.8 113.1L425.7 114.4L426.4 112L424.4 110.5L426.9 110.4zM428.2 108.3L429 110.6L431.5 110.7L429.6 112.3L430.2 114.7L428.2 113.3L426.1 114.7L426.7 112.3L424.8 110.7L427.3 110.6zM428.5 108.5L429.4 110.9L431.9 111L429.9 112.5L430.6 114.9L428.5 113.6L426.4 114.9L427.1 112.5L425.2 111L427.7 110.9zM428.9 108.8L429.8 111.1L432.3 111.2L430.3 112.8L431 115.2L428.9 113.8L426.8 115.2L427.5 112.8L425.5 111.2L428 111.1zM429.3 109L430.1 111.4L432.6 111.5L430.7 113L431.4 115.4L429.3 114.1L427.2 115.4L427.9 113L425.9 111.5L428.4 111.4zM429.6 109.3L430.5 111.6L433 111.7L431.1 113.3L431.7 115.7L429.6 114.3L427.5 115.7L428.2 113.3L426.3 111.7L428.8 111.6zM430 109.5L430.9 111.9L433.4 112L431.4 113.5L432.1 115.9L430 114.6L427.9 115.9L428.6 113.5L426.6 112L429.1 111.9zM430.4 109.8L431.2 112.1L433.7 112.2L431.8 113.8L432.4 116.2L430.4 114.8L428.3 116.2L428.9 113.8L427 112.2L429.5 112.1zM430.7 110L431.6 112.4L434.1 112.5L432.1 114L432.8 116.4L430.7 115.1L428.6 116.4L429.3 114L427.3 112.5L429.8 112.4zM431.1 110.3L431.9 112.6L434.4 112.7L432.5 114.3L433.2 116.7L431.1 115.3L429 116.7L429.7 114.3L427.7 112.7L430.2 112.6zM431.4 110.5L432.3 112.9L434.8 113L432.8 114.5L433.5 116.9L431.4 115.6L429.3 116.9L430 114.5L428 113L430.5 112.9zM431.8 110.8L432.6 113.1L435.1 113.2L433.2 114.8L433.9 117.2L431.8 115.8L429.7 117.2L430.4 114.8L428.4 113.2L430.9 113.1zM432.1 111L433 113.4L435.5 113.5L433.5 115L434.2 117.4L432.1 116L430 117.4L430.7 115L428.7 113.5L431.2 113.4zM432.5 111.3L433.3 113.6L435.8 113.7L433.9 115.3L434.5 117.7L432.5 116.3L430.4 117.7L431 115.3L429.1 113.7L431.6 113.6zM432.8 111.5L433.7 113.8L436.2 114L434.2 115.5L434.9 117.9L432.8 116.5L430.7 117.9L431.4 115.5L429.4 114L431.9 113.8zM433.1 111.8L434 114.1L436.5 114.2L434.6 115.8L435.2 118.2L433.1 116.8L431.1 118.2L431.7 115.8L429.8 114.2L432.3 114.1zM433.5 112L434.4 114.4L436.9 114.5L434.9 116L435.6 118.4L433.5 117.1L431.4 118.4L432.1 116L430.1 114.5L432.6 114.4zM433.8 112.3L434.7 114.6L437.2 114.7L435.2 116.3L435.9 118.7L433.8 117.3L431.7 118.7L432.4 116.3L430.4 114.7L432.9 114.6zM434.1 112.5L435 114.9L437.5 115L435.6 116.5L436.2 119L434.1 117.6L432.1 119L432.7 116.5L430.8 115L433.3 114.9zM434.5 112.8L435.4 115.1L437.9 115.2L435.9 116.8L436.6 119.2L434.5 117.8L432.4 119.2L433.1 116.8L431.1 115.2L433.6 115.1zM434.8 113L435.7 115.4L438.2 115.5L436.2 117.1L436.9 119.5L434.8 118.1L432.7 119.5L433.4 117.1L431.4 115.5L433.9 115.4zM435.1 113.3L436 115.6L438.5 115.8L436.6 117.3L437.2 119.7L435.1 118.3L433 119.7L433.7 117.3L431.8 115.8L434.3 115.6zM435.5 113.5L436.3 115.9L438.8 116L436.9 117.6L437.5 120L435.5 118.6L433.4 120L434 117.6L432.1 116L434.6 115.9zM435.8 113.8L436.7 116.1L439.2 116.3L437.2 117.8L437.9 120.2L435.8 118.8L433.7 120.2L434.4 117.8L432.4 116.3L434.9 116.1zM436.1 114.1L437 116.4L439.5 116.5L437.5 118.1L438.2 120.5L436.1 119.1L434 120.5L434.7 118.1L432.7 116.5L435.2 116.4zM436.4 114.3L437.3 116.6L439.8 116.8L437.8 118.3L438.5 120.7L436.4 119.3L434.3 120.7L435 118.3L433 116.8L435.5 116.6zM436.7 114.5L437.6 116.9L440.1 117L438.1 118.6L438.8 121L436.7 119.6L434.6 121L435.3 118.6L433.4 117L435.9 116.9zM437 114.8L437.9 117.1L440.4 117.2L438.5 118.8L439.1 121.2L437 119.8L435 121.2L435.6 118.8L433.7 117.2L436.2 117.1zM437.4 115L438.2 117.4L440.7 117.5L438.8 119.1L439.4 121.5L437.4 120.1L435.3 121.5L435.9 119.1L434 117.5L436.5 117.4zM437.7 115.3L438.5 117.6L441 117.7L439.1 119.3L439.8 121.7L437.7 120.3L435.6 121.7L436.2 119.3L434.3 117.7L436.8 117.6zM438 115.5L438.8 117.9L441.3 118L439.4 119.5L440.1 122L438 120.6L435.9 122L436.6 119.5L434.6 118L437.1 117.9zM438.3 115.8L439.2 118.1L441.7 118.2L439.7 119.8L440.4 122.2L438.3 120.8L436.2 122.2L436.9 119.8L434.9 118.2L437.4 118.1zM438.6 116L439.5 118.4L442 118.5L440 120L440.7 122.4L438.6 121.1L436.5 122.4L437.2 120L435.2 118.5L437.7 118.4zM438.9 116.3L439.8 118.6L442.3 118.7L440.3 120.3L441 122.7L438.9 121.3L436.8 122.7L437.5 120.3L435.5 118.7L438 118.6zM439.2 116.5L440.1 118.8L442.6 119L440.6 120.5L441.3 122.9L439.2 121.5L437.1 122.9L437.8 120.5L435.8 119L438.3 118.8zM439.5 116.7L440.4 119.1L442.9 119.2L440.9 120.8L441.6 123.2L439.5 121.8L437.4 123.2L438.1 120.8L436.1 119.2L438.6 119.1zM439.8 117L440.7 119.3L443.2 119.4L441.2 121L441.9 123.4L439.8 122L437.7 123.4L438.4 121L436.4 119.4L438.9 119.3zM440.1 117.2L440.9 119.6L443.4 119.7L441.5 121.2L442.2 123.6L440.1 122.3L438 123.6L438.7 121.2L436.7 119.7L439.2 119.6zM440.4 117.5L441.2 119.8L443.7 119.9L441.8 121.5L442.5 123.9L440.4 122.5L438.3 123.9L438.9 121.5L437 119.9L439.5 119.8zM440.7 117.7L441.5 120.1L444 120.2L442.1 121.7L442.7 124.1L440.7 122.7L438.6 124.1L439.2 121.7L437.3 120.2L439.8 120.1zM440.9 117.9L441.8 120.3L444.3 120.4L442.4 122L443 124.4L440.9 123L438.9 124.4L439.5 122L437.6 120.4L440.1 120.3zM441.2 118.2L442.1 120.5L444.6 120.6L442.6 122.2L443.3 124.6L441.2 123.2L439.1 124.6L439.8 122.2L437.9 120.6L440.4 120.5zM441.5 118.4L442.4 120.8L444.9 120.9L442.9 122.4L443.6 124.8L441.5 123.5L439.4 124.8L440.1 122.4L438.1 120.9L440.6 120.8zM441.8 118.7L442.7 121L445.2 121.1L443.2 122.7L443.9 125.1L441.8 123.7L439.7 125.1L440.4 122.7L438.4 121.1L440.9 121zM442.1 118.9L443 121.2L445.5 121.4L443.5 122.9L444.2 125.3L442.1 123.9L440 125.3L440.7 122.9L438.7 121.4L441.2 121.2zM442.4 119.1L443.2 121.5L445.7 121.6L443.8 123.1L444.4 125.6L442.4 124.2L440.3 125.6L440.9 123.1L439 121.6L441.5 121.5zM442.6 119.4L443.5 121.7L446 121.8L444.1 123.4L444.7 125.8L442.6 124.4L440.6 125.8L441.2 123.4L439.3 121.8L441.8 121.7zM442.9 119.6L443.8 122L446.3 122.1L444.3 123.6L445 126L442.9 124.6L440.8 126L441.5 123.6L439.5 122.1L442 122zM443.2 119.8L444.1 122.2L446.6 122.3L444.6 123.9L445.3 126.3L443.2 124.9L441.1 126.3L441.8 123.9L439.8 122.3L442.3 122.2zM443.5 120.1L444.3 122.4L446.8 122.5L444.9 124.1L445.6 126.5L443.5 125.1L441.4 126.5L442.1 124.1L440.1 122.5L442.6 122.4zM443.7 120.3L444.6 122.7L447.1 122.8L445.2 124.3L445.8 126.7L443.7 125.4L441.7 126.7L442.3 124.3L440.4 122.8L442.9 122.7zM444 120.5L444.9 122.9L447.4 123L445.4 124.6L446.1 127L444 125.6L441.9 127L442.6 124.6L440.6 123L443.1 122.9zM444.3 120.8L445.2 123.1L447.7 123.2L445.7 124.8L446.4 127.2L444.3 125.8L442.2 127.2L442.9 124.8L440.9 123.2L443.4 123.1zM444.6 121L445.4 123.3L447.9 123.4L446 125L446.6 127.4L444.6 126L442.5 127.4L443.1 125L441.2 123.4L443.7 123.3zM444.8 121.2L445.7 123.6L448.2 123.7L446.2 125.2L446.9 127.6L444.8 126.3L442.7 127.6L443.4 125.2L441.4 123.7L443.9 123.6zM445.1 121.4L446 123.8L448.5 123.9L446.5 125.5L447.2 127.9L445.1 126.5L443 127.9L443.7 125.5L441.7 123.9L444.2 123.8zM445.3 121.7L446.2 124L448.7 124.1L446.8 125.7L447.4 128.1L445.3 126.7L443.3 128.1L443.9 125.7L442 124.1L444.5 124zM445.6 121.9L446.5 124.2L449 124.3L447 125.9L447.7 128.3L445.6 126.9L443.5 128.3L444.2 125.9L442.2 124.3L444.7 124.2zM445.9 122.1L446.7 124.5L449.2 124.6L447.3 126.1L448 128.5L445.9 127.2L443.8 128.5L444.5 126.1L442.5 124.6L445 124.5zM446.1 122.3L447 124.7L449.5 124.8L447.5 126.3L448.2 128.8L446.1 127.4L444 128.8L444.7 126.3L442.8 124.8L445.3 124.7zM446.4 122.6L447.3 124.9L449.8 125L447.8 126.6L448.5 129L446.4 127.6L444.3 129L445 126.6L443 125L445.5 124.9zM446.6 122.8L447.5 125.1L450 125.2L448.1 126.8L448.7 129.2L446.6 127.8L444.6 129.2L445.2 126.8L443.3 125.2L445.8 125.1zM446.9 123L447.8 125.3L450.3 125.5L448.3 127L449 129.4L446.9 128L444.8 129.4L445.5 127L443.5 125.5L446 125.3zM447.2 123.2L448 125.6L450.5 125.7L448.6 127.2L449.2 129.6L447.2 128.3L445.1 129.6L445.7 127.2L443.8 125.7L446.3 125.6zM447.4 123.4L448.3 125.8L450.8 125.9L448.8 127.5L449.5 129.9L447.4 128.5L445.3 129.9L446 127.5L444 125.9L446.5 125.8zM447.7 123.7L448.5 126L451 126.1L449.1 127.7L449.7 130.1L447.7 128.7L445.6 130.1L446.2 127.7L444.3 126.1L446.8 126zM447.9 123.9L448.8 126.2L451.3 126.3L449.3 127.9L450 130.3L447.9 128.9L445.8 130.3L446.5 127.9L444.5 126.3L447 126.2zM448.2 124.1L449 126.4L451.5 126.5L449.6 128.1L450.2 130.5L448.2 129.1L446.1 130.5L446.7 128.1L444.8 126.5L447.3 126.4zM448.4 124.3L449.3 126.7L451.8 126.8L449.8 128.3L450.5 130.7L448.4 129.4L446.3 130.7L447 128.3L445 126.8L447.5 126.7zM448.7 124.5L449.5 126.9L452 127L450.1 128.5L450.7 130.9L448.7 129.6L446.6 130.9L447.2 128.5L445.3 127L447.8 126.9zM448.9 124.7L449.8 127.1L452.3 127.2L450.3 128.8L451 131.2L448.9 129.8L446.8 131.2L447.5 128.8L445.5 127.2L448 127.1zM449.1 125L450 127.3L452.5 127.4L450.6 129L451.2 131.4L449.1 130L447.1 131.4L447.7 129L445.8 127.4L448.3 127.3zM449.4 125.2L450.3 127.5L452.8 127.6L450.8 129.2L451.5 131.6L449.4 130.2L447.3 131.6L448 129.2L446 127.6L448.5 127.5zM449.6 125.4L450.5 127.7L453 127.8L451 129.4L451.7 131.8L449.6 130.4L447.5 131.8L448.2 129.4L446.2 127.8L448.7 127.7zM449.9 125.6L450.7 127.9L453.2 128.1L451.3 129.6L452 132L449.9 130.6L447.8 132L448.4 129.6L446.5 128.1L449 127.9z" fill="#800000" stroke="#800000" stroke-width="0.9" stroke-linejoin="round"/>

</g>
<rect x="74.40" y="5.90" width="666.10" height="451.50" fill="none" stroke="#000" stroke-width="2"/>
<path d="M89.65 457.40v-5.0M89.65 5.90v5.0M101.55 457.40v-5.0M101.55 5.90v5.0M111.27 457.40v-5.0M111.27 5.90v5.0M119.49 457.40v-5.0M119.49 5.90v5.0M126.60 457.40v-5.0M126.60 5.90v5.0M132.88 457.40v-5.0M132.88 5.90v5.0M138.50 457.40v-9.5M138.50 5.90v9.5M175.45 457.40v-5.0M175.45 5.90v5.0M197.07 457.40v-5.0M197.07 5.90v5.0M212.40 457.40v-5.0M212.40 5.90v5.0M224.30 457.40v-5.0M224.30 5.90v5.0M234.02 457.40v-5.0M234.02 5.90v5.0M242.24 457.40v-5.0M242.24 5.90v5.0M249.35 457.40v-5.0M249.35 5.90v5.0M255.63 457.40v-5.0M255.63 5.90v5.0M261.25 457.40v-9.5M261.25 5.90v9.5M298.20 457.40v-5.0M298.20 5.90v5.0M319.82 457.40v-5.0M319.82 5.90v5.0M335.15 457.40v-5.0M335.15 5.90v5.0M347.05 457.40v-5.0M347.05 5.90v5.0M356.77 457.40v-5.0M356.77 5.90v5.0M364.99 457.40v-5.0M364.99 5.90v5.0M372.10 457.40v-5.0M372.10 5.90v5.0M378.38 457.40v-5.0M378.38 5.90v5.0M384.00 457.40v-9.5M384.00 5.90v9.5M420.95 457.40v-5.0M420.95 5.90v5.0M442.57 457.40v-5.0M442.57 5.90v5.0M457.90 457.40v-5.0M457.90 5.90v5.0M469.80 457.40v-5.0M469.80 5.90v5.0M479.52 457.40v-5.0M479.52 5.90v5.0M487.74 457.40v-5.0M487.74 5.90v5.0M494.85 457.40v-5.0M494.85 5.90v5.0M501.13 457.40v-5.0M501.13 5.90v5.0M506.75 457.40v-9.5M506.75 5.90v9.5M543.70 457.40v-5.0M543.70 5.90v5.0M565.32 457.40v-5.0M565.32 5.90v5.0M580.65 457.40v-5.0M580.65 5.90v5.0M592.55 457.40v-5.0M592.55 5.90v5.0M602.27 457.40v-5.0M602.27 5.90v5.0M610.49 457.40v-5.0M610.49 5.90v5.0M617.60 457.40v-5.0M617.60 5.90v5.0M623.88 457.40v-5.0M623.88 5.90v5.0M629.50 457.40v-9.5M629.50 5.90v9.5M666.45 457.40v-5.0M666.45 5.90v5.0M688.07 457.40v-5.0M688.07 5.90v5.0M703.40 457.40v-5.0M703.40 5.90v5.0M715.30 457.40v-5.0M715.30 5.90v5.0M725.02 457.40v-5.0M725.02 5.90v5.0M733.24 457.40v-5.0M733.24 5.90v5.0M74.40 417.72h5.0M740.50 417.72h-5.0M74.40 389.49h5.0M740.50 389.49h-5.0M74.40 367.60h5.0M740.50 367.60h-5.0M74.40 349.72h5.0M740.50 349.72h-5.0M74.40 334.59h5.0M740.50 334.59h-5.0M74.40 321.49h5.0M740.50 321.49h-5.0M74.40 309.94h5.0M740.50 309.94h-5.0M74.40 299.60h9.5M740.50 299.60h-9.5M74.40 231.60h5.0M740.50 231.60h-5.0M74.40 191.82h5.0M740.50 191.82h-5.0M74.40 163.59h5.0M740.50 163.59h-5.0M74.40 141.70h5.0M740.50 141.70h-5.0M74.40 123.82h5.0M740.50 123.82h-5.0M74.40 108.69h5.0M740.50 108.69h-5.0M74.40 95.59h5.0M740.50 95.59h-5.0M74.40 84.04h5.0M740.50 84.04h-5.0M74.40 73.70h9.5M740.50 73.70h-9.5" stroke="#000" stroke-width="2" fill="none"/>
<g filter="url(#ng)">
<rect x="182.8" y="95.9" width="130.4" height="334.2" fill="#fff" stroke="#333" stroke-width="1"/>
<text x="194" y="135.4" font-size="25.5">line</text>
<text x="264.5" y="135.4" font-size="25.5">t<tspan font-size="16" dy="10.4">w</tspan></text>
<path d="M194.3 167.10H219.3M226.5 167.10H251.7" stroke="#000000" stroke-width="1.25" opacity="0.72"/>
<path d="M219.9 164.1h6v6h-6z" fill="#000000"/>
<text x="258.2" y="175.50" font-size="24.8">10</text>
<path d="M194.3 198.22H219.3M226.5 198.22H251.7" stroke="#ff0000" stroke-width="1.25" opacity="0.72"/>
<path d="M219.8 198.2a3.1 3.1 0 1 0 6.2 0a3.1 3.1 0 1 0 -6.2 0z" fill="#ff0000"/>
<text x="258.2" y="206.62" font-size="24.8">20</text>
<path d="M194.3 229.34H219.3M226.5 229.34H251.7" stroke="#0000ff" stroke-width="1.25" opacity="0.72"/>
<path d="M222.9 226.3l3.5 6h-7z" fill="#0000ff"/>
<text x="258.2" y="237.74" font-size="24.8">50</text>
<path d="M194.3 260.46H219.3M226.5 260.46H251.7" stroke="#ff00ff" stroke-width="1.25" opacity="0.72"/>
<path d="M222.9 263.5l3.5 -6h-7z" fill="#ff00ff"/>
<text x="258.2" y="268.86" font-size="24.8">100</text>
<path d="M194.3 291.58H219.3M226.5 291.58H251.7" stroke="#008000" stroke-width="1.25" opacity="0.72"/>
<path d="M222.9 288.1l3.5 3.5l-3.5 3.5l-3.5 -3.5z" fill="#008000"/>
<text x="258.2" y="299.98" font-size="24.8">200</text>
<path d="M194.3 322.70H219.3M226.5 322.70H251.7" stroke="#000080" stroke-width="1.25" opacity="0.72"/>
<path d="M219.9 322.7l6 -3.5v7z" fill="#000080"/>
<text x="258.2" y="331.10" font-size="24.8">500</text>
<path d="M194.3 353.82H219.3M226.5 353.82H251.7" stroke="#8000ff" stroke-width="1.25" opacity="0.72"/>
<path d="M225.9 353.8l-6 -3.5v7z" fill="#8000ff"/>
<text x="258.2" y="362.22" font-size="24.8">1000</text>
<path d="M194.3 384.94H219.3M226.5 384.94H251.7" stroke="#800080" stroke-width="1.25" opacity="0.72"/>
<path d="M222.9 381.5l2.9 1.7v3.4l-2.9 1.7l-2.9 -1.7v-3.4z" fill="#800080"/>
<text x="258.2" y="393.34" font-size="24.8">2000</text>
<path d="M194.3 416.06H219.3M226.5 416.06H251.7" stroke="#800000" stroke-width="1.25" opacity="0.72"/>
<path d="M222.9 413.2L223.7 415.3L225.9 415.4L224.2 416.8L224.8 418.9L222.9 417.7L221 418.9L221.6 416.8L219.9 415.4L222.1 415.3z" fill="#800000" stroke="#800000" stroke-width="0.6" stroke-linejoin="round"/>
<text x="258.2" y="424.46" font-size="24.8">5000</text>
<text transform="translate(137.6,485.1) scale(1,1.11)" font-size="22.3" text-anchor="middle">0.01</text>
<text transform="translate(260.4,485.1) scale(1,1.11)" font-size="22.3" text-anchor="middle">0.1</text>
<text transform="translate(383.1,485.1) scale(1,1.11)" font-size="22.3" text-anchor="middle">1</text>
<text transform="translate(505.9,485.1) scale(1,1.11)" font-size="22.3" text-anchor="middle">10</text>
<text transform="translate(628.6,485.1) scale(1,1.11)" font-size="22.3" text-anchor="middle">100</text>
<text transform="translate(63.6,80.5) scale(1,1.12)" font-size="22.2" text-anchor="end">1</text>
<text transform="translate(63.6,306.4) scale(1,1.12)" font-size="22.2" text-anchor="end">0.1</text>
<text x="624.3" y="158.1" font-size="27.2">T = 0.28</text>
<text x="99.5" y="422.7" font-size="36">a)</text>
<text x="198.0" y="514.8" font-size="28">(t</text>
<text x="221.8" y="514.8" font-size="28">-</text>
<text x="238.0" y="514.8" font-size="28">t</text>
<text x="245.0" y="525.4" font-size="17">w</text>
<text x="254.9" y="514.8" font-size="28">)/</text>
<text x="284.7" y="514.8" font-size="28">(t</text>
<text x="301.0" y="525.4" font-size="17">w</text>
<text x="312.0" y="514.8" font-size="28">)</text>
<text x="326.8" y="514.8" font-size="28">=</text>
<text x="349.6" y="514.8" font-size="28">(t</text>
<text x="373.1" y="514.8" font-size="28">-</text>
<text x="389.3" y="514.8" font-size="28">t</text>
<text x="396.5" y="525.4" font-size="17">w</text>
<text x="407.4" y="514.8" font-size="28">)</text>
<text x="424.0" y="514.8" font-size="28">ln</text>
<text x="451.7" y="514.8" font-size="28">(t</text>
<text x="468.2" y="525.4" font-size="17">w</text>
<text x="478.4" y="514.8" font-size="28">)</text>
<text x="494.1" y="514.8" font-size="28">/</text>
<text x="509.0" y="514.8" font-size="28">t</text>
<text x="516.2" y="525.4" font-size="17">w</text>
<text x="535.2" y="514.8" font-size="28">ln</text>
<text x="563.0" y="514.8" font-size="28">(t</text>
<text x="585.5" y="514.8" font-size="28">-</text>
<text x="601.7" y="514.8" font-size="28">t</text>
<text x="608.9" y="525.4" font-size="17">w</text>
<text x="619.4" y="514.8" font-size="28">)</text>
<path d="M188.3 501.8V498.7M188.3 499.5C190 498.7 192.3 499.7 194.7 498.7M194.4 499.1C190.6 499.9 189.1 501.4 189.3 502.9C189.6 504.4 191 504.6 192.5 504.6H195.6M192.8 504.7C189.5 505.1 187.3 507.5 187.3 510.4C187.3 513.4 189.6 515 192 515.3L195.2 515.7C197.2 516 197.6 517.9 196.4 518.9C195.3 519.7 193.7 519.9 192.3 519.6" fill="none" stroke="#000" stroke-width="1.55" stroke-linecap="round" stroke-linejoin="round"/>
<path transform="translate(85.8,0)" d="M188.3 501.8V498.7M188.3 499.5C190 498.7 192.3 499.7 194.7 498.7M194.4 499.1C190.6 499.9 189.1 501.4 189.3 502.9C189.6 504.4 191 504.6 192.5 504.6H195.6M192.8 504.7C189.5 505.1 187.3 507.5 187.3 510.4C187.3 513.4 189.6 515 192 515.3L195.2 515.7C197.2 516 197.6 517.9 196.4 518.9C195.3 519.7 193.7 519.9 192.3 519.6" fill="none" stroke="#000" stroke-width="1.55" stroke-linecap="round" stroke-linejoin="round"/>
<text transform="translate(31.3,281.4) rotate(-90)" font-size="28">(t</text>
<text transform="translate(31.3,257.2) rotate(-90)" font-size="28">-</text>
<text transform="translate(31.3,241.9) rotate(-90)" font-size="28">t</text>
<text transform="translate(41.6,234.0) rotate(-90)" font-size="17">w</text>
<text transform="translate(31.3,223.8) rotate(-90)" font-size="28">)</text>
<text transform="translate(16.4,212.9) rotate(-90)" font-size="16.5">η(T)/2</text>
<text transform="translate(31.3,162.1) rotate(-90)" font-size="28">C(t,</text>
<text transform="translate(31.3,121.5) rotate(-90)" font-size="28">t</text>
<text transform="translate(41.6,113.8) rotate(-90)" font-size="17">w</text>
<text transform="translate(31.3,101.7) rotate(-90)" font-size="28">)</text>
</g>
</svg></body></html>
